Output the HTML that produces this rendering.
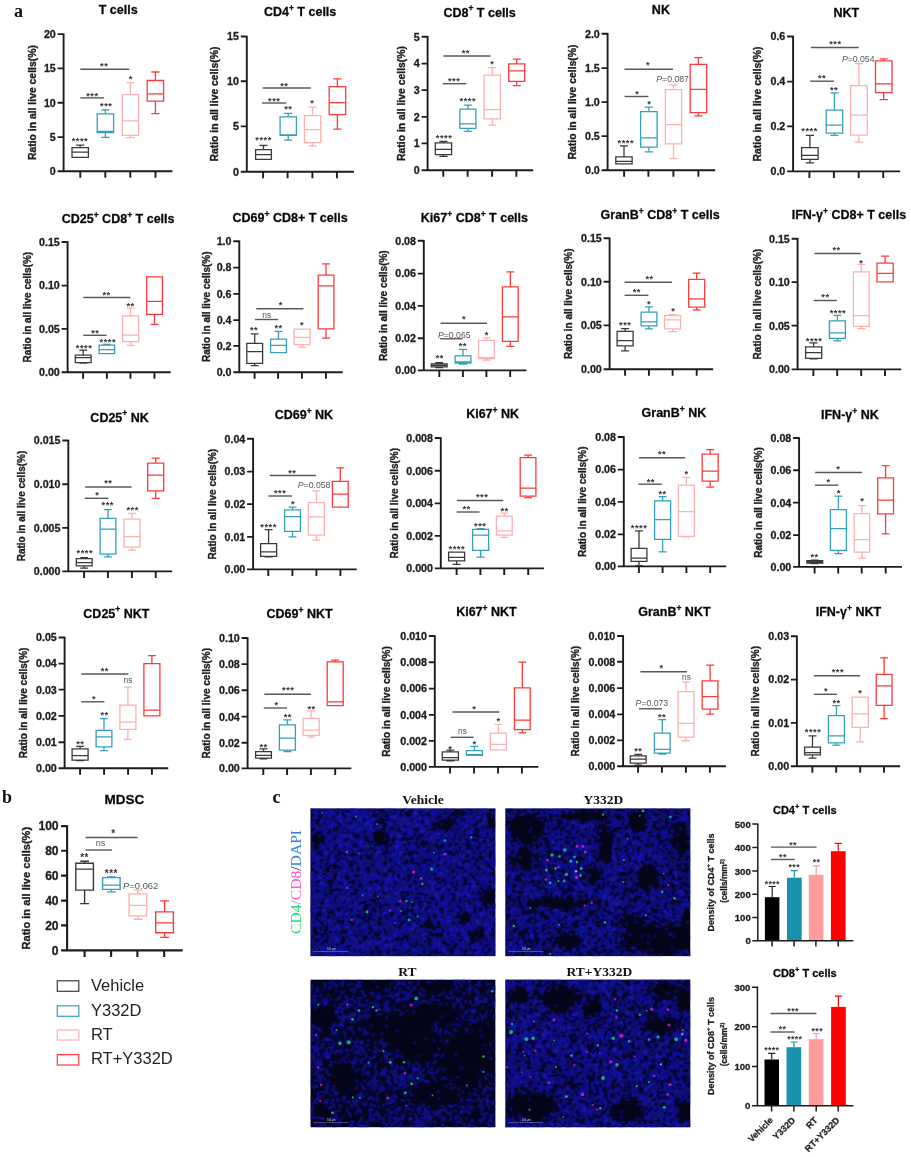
<!DOCTYPE html>
<html lang="en"><head><meta charset="utf-8"><title>Figure</title>
<style>html,body{margin:0;padding:0;background:#fff}svg{display:block}</style>
</head><body>
<svg width="911" height="1157" viewBox="0 0 911 1157" font-family="'Liberation Sans', Arial, sans-serif" font-weight="bold">
<rect width="911" height="1157" fill="#fff"/>
<defs><filter id="gb" x="0" y="0" width="100%" height="100%" color-interpolation-filters="sRGB"><feGaussianBlur stdDeviation="0.7"/></filter></defs>
<g filter="url(#gb)">
<rect width="911" height="1157" fill="#fff"/>
<g font-family="'Liberation Serif', serif" font-size="18" font-weight="bold" fill="#111">
<text x="14" y="16.8">a</text>
<text x="2" y="803">b</text>
<text x="272.5" y="802.6">c</text>
</g>
<g>
<text x="118.2" y="14.1" font-size="12.5" text-anchor="middle" stroke="#222" stroke-width="0.3" >T cells</text>
<path d="M63.6 33.3V171.2H172.4M63.6 34.1h-6M63.6 68.4h-6M63.6 102.8h-6M63.6 137.1h-6M63.6 171.2h-6M80.3 171.2v6.5M105.3 171.2v6.5M130.3 171.2v6.5M155.5 171.2v6.5" fill="none" stroke="#1c1c1c" stroke-width="1.9"/>
<g font-size="10.7" text-anchor="end" fill="#1c1c1c" stroke="#1c1c1c" stroke-width="0.3">
<text x="55.8" y="37.9">20</text>
<text x="55.8" y="72.3">15</text>
<text x="55.8" y="106.6">10</text>
<text x="55.8" y="140.9">5</text>
<text x="55.8" y="175">0</text>
</g>
<text transform="translate(35.7 102.6) rotate(-90)" font-size="10.4" text-anchor="middle" fill="#1c1c1c" stroke="#222" stroke-width="0.35">Ratio in all live cells(%)</text>
<path d="M72 147.7H88.4V157.3H72ZM72 152.2H88.4M80.2 147.7V145.2M76.1 145.2H84.3" fill="none" stroke="#3a3a3a" stroke-width="1.3"/>
<path d="M97.2 113.9H113.6V132.5H97.2ZM97.2 131.3H113.6M105.4 113.9V109.8M101.3 109.8H109.5M105.4 132.5V137.3M101.3 137.3H109.5" fill="none" stroke="#35a0b8" stroke-width="1.3"/>
<path d="M122.2 94.7H138.6V135.3H122.2ZM122.2 120.9H138.6M130.4 94.7V82.6M126.3 82.6H134.5M130.4 135.3V137.6M126.3 137.6H134.5" fill="none" stroke="#ffb0b0" stroke-width="1.3"/>
<path d="M147.2 80.5H163.6V101.2H147.2ZM147.2 93.9H163.6M155.4 80.5V72M151.3 72H159.5M155.4 101.2V113.6M151.3 113.6H159.5" fill="none" stroke="#ff3a3a" stroke-width="1.3"/>
<path d="M80.3 69.3H129.3" stroke="#585858" stroke-width="1.4"/>
<text x="104.2" y="68.5" font-size="9.3" fill="#333" text-anchor="middle" letter-spacing="0.5">**</text>
<path d="M80.3 97.9H104" stroke="#585858" stroke-width="1.4"/>
<text x="92.4" y="98.8" font-size="9.3" fill="#333" text-anchor="middle" letter-spacing="0.5">***</text>
<text x="80" y="144.3" font-size="9.3" fill="#333" text-anchor="middle" letter-spacing="0.5">****</text>
<text x="106.3" y="109.2" font-size="9.3" fill="#333" text-anchor="middle" letter-spacing="0.5">***</text>
<text x="130.7" y="81.7" font-size="9.3" fill="#333" text-anchor="middle" letter-spacing="0.5">*</text>
</g>
<g>
<text x="300.1" y="15.8" font-size="12.5" text-anchor="middle" stroke="#222" stroke-width="0.3" >CD4<tspan dy="-5.2" font-size="8.5">+</tspan><tspan dy="5.2" font-size="12.5">&#8203;</tspan> T cells</text>
<path d="M246.8 35.8V171.7H353.9M246.8 36.5h-6M246.8 81.3h-6M246.8 126.4h-6M246.8 171.7h-6M263.1 171.7v6.5M287.6 171.7v6.5M312.4 171.7v6.5M336.9 171.7v6.5" fill="none" stroke="#1c1c1c" stroke-width="1.9"/>
<g font-size="10.7" text-anchor="end" fill="#1c1c1c" stroke="#1c1c1c" stroke-width="0.3">
<text x="239" y="40.4">15</text>
<text x="239" y="85.2">10</text>
<text x="239" y="130.2">5</text>
<text x="239" y="175.5">0</text>
</g>
<text transform="translate(218.4 104.1) rotate(-90)" font-size="10.4" text-anchor="middle" fill="#1c1c1c" stroke="#222" stroke-width="0.35">Ratio in all live cells(%)</text>
<path d="M255.6 149.7H271.4V159.4H255.6ZM255.6 154.7H271.4M263.5 149.7V145.4M259.5 145.4H267.4" fill="none" stroke="#3a3a3a" stroke-width="1.3"/>
<path d="M280.1 116.9H296.4V135.4H280.1ZM280.1 134.9H296.4M288.2 116.9V113.4M284.2 113.4H292.3M288.2 135.4V140.2M284.2 140.2H292.3" fill="none" stroke="#35a0b8" stroke-width="1.3"/>
<path d="M304.4 115.6H320.7V142.7H304.4ZM304.4 129.6H320.7M312.5 115.6V107.1M308.5 107.1H316.6M312.5 142.7V145.9M308.5 145.9H316.6" fill="none" stroke="#ffb0b0" stroke-width="1.3"/>
<path d="M329.2 86.6H345.7V114.6H329.2ZM329.2 102.6H345.7M337.4 86.6V78.8M333.3 78.8H341.6M337.4 114.6V129.1M333.3 129.1H341.6" fill="none" stroke="#ff3a3a" stroke-width="1.3"/>
<path d="M262.6 88H310.9" stroke="#585858" stroke-width="1.4"/>
<text x="284.3" y="88.7" font-size="9.3" fill="#333" text-anchor="middle" letter-spacing="0.5">**</text>
<path d="M262.1 103H286.4" stroke="#585858" stroke-width="1.4"/>
<text x="274.3" y="103.8" font-size="9.3" fill="#333" text-anchor="middle" letter-spacing="0.5">***</text>
<text x="263.6" y="142.6" font-size="9.3" fill="#333" text-anchor="middle" letter-spacing="0.5">****</text>
<text x="288.3" y="112.3" font-size="9.3" fill="#333" text-anchor="middle" letter-spacing="0.5">**</text>
<text x="312.4" y="106" font-size="9.3" fill="#333" text-anchor="middle" letter-spacing="0.5">*</text>
</g>
<g>
<text x="479.6" y="16.5" font-size="12.5" text-anchor="middle" stroke="#222" stroke-width="0.3" >CD8<tspan dy="-5.2" font-size="8.5">+</tspan><tspan dy="5.2" font-size="12.5">&#8203;</tspan> T cells</text>
<path d="M427.6 36V170.2H533.2M427.6 36.8h-6M427.6 63.6h-6M427.6 90.1h-6M427.6 116.9h-6M427.6 143.4h-6M427.6 170.2h-6M443.3 170.2v6.5M467.6 170.2v6.5M492.1 170.2v6.5M516.4 170.2v6.5" fill="none" stroke="#1c1c1c" stroke-width="1.9"/>
<g font-size="10.7" text-anchor="end" fill="#1c1c1c" stroke="#1c1c1c" stroke-width="0.3">
<text x="419.8" y="40.6">5</text>
<text x="419.8" y="67.4">4</text>
<text x="419.8" y="94">3</text>
<text x="419.8" y="120.7">2</text>
<text x="419.8" y="147.3">1</text>
<text x="419.8" y="174">0</text>
</g>
<text transform="translate(405.4 103.5) rotate(-90)" font-size="10.4" text-anchor="middle" fill="#1c1c1c" stroke="#222" stroke-width="0.35">Ratio in all live cells(%)</text>
<path d="M435.3 142.9H451.6V154.7H435.3ZM435.3 149.4H451.6M443.5 142.9V141.4M439.4 141.4H447.5M443.5 154.7V156.4M439.4 156.4H447.5" fill="none" stroke="#3a3a3a" stroke-width="1.3"/>
<path d="M459.9 109.1H475.9V128.4H459.9ZM459.9 123.9H475.9M467.9 109.1V105.1M463.9 105.1H471.9M467.9 128.4V131.4M463.9 131.4H471.9" fill="none" stroke="#35a0b8" stroke-width="1.3"/>
<path d="M484.1 75.1H500.4V118.9H484.1ZM484.1 109.6H500.4M492.3 75.1V67.6M488.2 67.6H496.3M492.3 118.9V125.1M488.2 125.1H496.3" fill="none" stroke="#ffb0b0" stroke-width="1.3"/>
<path d="M508.7 63.8H524.7V81.3H508.7ZM508.7 70.8H524.7M516.7 63.8V59.1M512.7 59.1H520.7M516.7 81.3V85.6M512.7 85.6H520.7" fill="none" stroke="#ff3a3a" stroke-width="1.3"/>
<path d="M443.3 56H490.6" stroke="#585858" stroke-width="1.4"/>
<text x="465.8" y="55.5" font-size="9.3" fill="#333" text-anchor="middle" letter-spacing="0.5">**</text>
<path d="M442.6 83.7H466.4" stroke="#585858" stroke-width="1.4"/>
<text x="454.1" y="84.2" font-size="9.3" fill="#333" text-anchor="middle" letter-spacing="0.5">***</text>
<text x="444.1" y="140.5" font-size="9.3" fill="#333" text-anchor="middle" letter-spacing="0.5">****</text>
<text x="467.8" y="103.8" font-size="9.3" fill="#333" text-anchor="middle" letter-spacing="0.5">****</text>
<text x="492.4" y="67.2" font-size="9.3" fill="#333" text-anchor="middle" letter-spacing="0.5">*</text>
</g>
<g>
<text x="660.9" y="14" font-size="12.5" text-anchor="middle" stroke="#222" stroke-width="0.3" >NK</text>
<path d="M607.6 33V170.2H715.2M607.6 33.8h-6M607.6 68.1h-6M607.6 102.1h-6M607.6 136.1h-6M607.6 170.2h-6M624.1 170.2v6.5M648.4 170.2v6.5M673.4 170.2v6.5M698.4 170.2v6.5" fill="none" stroke="#1c1c1c" stroke-width="1.9"/>
<g font-size="10.7" text-anchor="end" fill="#1c1c1c" stroke="#1c1c1c" stroke-width="0.3">
<text x="599.8" y="37.6">2.0</text>
<text x="599.8" y="71.9">1.5</text>
<text x="599.8" y="106">1.0</text>
<text x="599.8" y="140">0.5</text>
<text x="599.8" y="174">0.0</text>
</g>
<text transform="translate(576.4 102) rotate(-90)" font-size="10.4" text-anchor="middle" fill="#1c1c1c" stroke="#222" stroke-width="0.35">Ratio in all live cells(%)</text>
<path d="M615.8 156.9H632.1V163.9H615.8ZM615.8 161.4H632.1M624 156.9V145.9M619.9 145.9H628" fill="none" stroke="#3a3a3a" stroke-width="1.3"/>
<path d="M640.6 111.6H657.1V147.2H640.6ZM640.6 137.9H657.1M648.9 111.6V107.1M644.7 107.1H653M648.9 147.2V151.9M644.7 151.9H653" fill="none" stroke="#35a0b8" stroke-width="1.3"/>
<path d="M665.4 89.6H681.6V143.9H665.4ZM665.4 124.6H681.6M673.5 89.6V85.1M669.4 85.1H677.6M673.5 143.9V158.7M669.4 158.7H677.6" fill="none" stroke="#ffb0b0" stroke-width="1.3"/>
<path d="M690.2 64.3H706.7V112.6H690.2ZM690.2 89.3H706.7M698.4 64.3V57.6M694.3 57.6H702.5M698.4 112.6V115.9M694.3 115.9H702.5" fill="none" stroke="#ff3a3a" stroke-width="1.3"/>
<path d="M624.6 69.2H673.1" stroke="#585858" stroke-width="1.4"/>
<text x="648.1" y="68.2" font-size="9.3" fill="#333" text-anchor="middle" letter-spacing="0.5">*</text>
<path d="M624.6 96.5H648.4" stroke="#585858" stroke-width="1.4"/>
<text x="637.3" y="96.8" font-size="9.3" fill="#333" text-anchor="middle" letter-spacing="0.5">*</text>
<text x="625.8" y="146.3" font-size="9.3" fill="#333" text-anchor="middle" letter-spacing="0.5">****</text>
<text x="649.3" y="106.8" font-size="9.3" fill="#333" text-anchor="middle" letter-spacing="0.5">*</text>
<text x="672.6" y="82.2" font-size="8.7" font-weight="normal" fill="#555" text-anchor="middle"><tspan font-style="italic">P</tspan>=0.087</text>
</g>
<g>
<text x="846.4" y="16.5" font-size="12.5" text-anchor="middle" stroke="#222" stroke-width="0.3" >NKT</text>
<path d="M793.1 35.8V171.4H900.2M793.1 36.5h-6M793.1 81.6h-6M793.1 126.4h-6M793.1 171.4h-6M809.4 171.4v6.5M833.9 171.4v6.5M858.7 171.4v6.5M883.2 171.4v6.5" fill="none" stroke="#1c1c1c" stroke-width="1.9"/>
<g font-size="10.7" text-anchor="end" fill="#1c1c1c" stroke="#1c1c1c" stroke-width="0.3">
<text x="785.3" y="40.4">0.6</text>
<text x="785.3" y="85.4">0.4</text>
<text x="785.3" y="130.2">0.2</text>
<text x="785.3" y="175.3">0.0</text>
</g>
<text transform="translate(761.4 104) rotate(-90)" font-size="10.4" text-anchor="middle" fill="#1c1c1c" stroke="#222" stroke-width="0.35">Ratio in all live cells(%)</text>
<path d="M801.6 147.7H818.1V159.4H801.6ZM801.6 155.4H818.1M809.9 147.7V135.4M805.8 135.4H814M809.9 159.4V162.9M805.8 162.9H814" fill="none" stroke="#3a3a3a" stroke-width="1.3"/>
<path d="M826.2 110.1H842.7V133.1H826.2ZM826.2 125.1H842.7M834.4 110.1V92.9M830.3 92.9H838.5M834.4 133.1V135.4M830.3 135.4H838.5" fill="none" stroke="#35a0b8" stroke-width="1.3"/>
<path d="M850.7 85.6H867.2V135.1H850.7ZM850.7 115.1H867.2M858.9 85.6V63.6M854.8 63.6H863.1M858.9 135.1V142.2M854.8 142.2H863.1" fill="none" stroke="#ffb0b0" stroke-width="1.3"/>
<path d="M875.5 60.8H892V92.6H875.5ZM875.5 83.8H892M883.7 60.8V58.8M879.6 58.8H887.8M883.7 92.6V99.6M879.6 99.6H887.8" fill="none" stroke="#ff3a3a" stroke-width="1.3"/>
<path d="M810.9 47.5H858.7" stroke="#585858" stroke-width="1.4"/>
<text x="835.4" y="47.4" font-size="9.3" fill="#333" text-anchor="middle" letter-spacing="0.5">***</text>
<path d="M810.1 81.2H833.9" stroke="#585858" stroke-width="1.4"/>
<text x="822.1" y="81.2" font-size="9.3" fill="#333" text-anchor="middle" letter-spacing="0.5">**</text>
<text x="809.6" y="134.3" font-size="9.3" fill="#333" text-anchor="middle" letter-spacing="0.5">****</text>
<text x="834.1" y="92.7" font-size="9.3" fill="#333" text-anchor="middle" letter-spacing="0.5">**</text>
<text x="858.2" y="61.7" font-size="8.7" font-weight="normal" fill="#555" text-anchor="middle"><tspan font-style="italic">P</tspan>=0.054</text>
</g>
<g>
<text x="118.1" y="222.8" font-size="12.5" text-anchor="middle" stroke="#222" stroke-width="0.3" >CD25<tspan dy="-5.2" font-size="8.5">+</tspan><tspan dy="5.2" font-size="12.5">&#8203;</tspan> CD8<tspan dy="-5.2" font-size="8.5">+</tspan><tspan dy="5.2" font-size="12.5">&#8203;</tspan> T cells</text>
<path d="M67.6 241.3V372.2H170.7M67.6 242h-6M67.6 285.6h-6M67.6 328.9h-6M67.6 372.2h-6M83.1 372.2v6.5M106.9 372.2v6.5M130.4 372.2v6.5M154.4 372.2v6.5" fill="none" stroke="#1c1c1c" stroke-width="1.9"/>
<g font-size="10.7" text-anchor="end" fill="#1c1c1c" stroke="#1c1c1c" stroke-width="0.3">
<text x="59.8" y="245.9">0.15</text>
<text x="59.8" y="289.4">0.10</text>
<text x="59.8" y="332.7">0.05</text>
<text x="59.8" y="376">0.00</text>
</g>
<text transform="translate(31.3 307.1) rotate(-90)" font-size="10" text-anchor="middle" fill="#1c1c1c" stroke="#222" stroke-width="0.35">Ratio in all live cells(%)</text>
<path d="M75.3 355.2H91.1V362.7H75.3ZM75.3 357.7H91.1M83.2 355.2V350.2M79.3 350.2H87.2M83.2 362.7V363.2M79.3 363.2H87.2" fill="none" stroke="#3a3a3a" stroke-width="1.3"/>
<path d="M99.1 345.2H114.6V353.7H99.1ZM99.1 349.7H114.6M106.9 345.2V344.4M103 344.4H110.7" fill="none" stroke="#35a0b8" stroke-width="1.3"/>
<path d="M122.6 315.9H138.7V341.7H122.6ZM122.6 335.1H138.7M130.6 315.9V308.1M126.6 308.1H134.6M130.6 341.7V345.4M126.6 345.4H134.6" fill="none" stroke="#ffb0b0" stroke-width="1.3"/>
<path d="M146.7 276.8H162.4V314.4H146.7ZM146.7 301.4H162.4M154.5 314.4V324.4M150.6 324.4H158.5" fill="none" stroke="#ff3a3a" stroke-width="1.3"/>
<path d="M83.3 297.5H130.4" stroke="#585858" stroke-width="1.4"/>
<text x="106.6" y="297.5" font-size="9.3" fill="#333" text-anchor="middle" letter-spacing="0.5">**</text>
<path d="M83.3 335.3H106.6" stroke="#585858" stroke-width="1.4"/>
<text x="95.3" y="335.5" font-size="9.3" fill="#333" text-anchor="middle" letter-spacing="0.5">**</text>
<text x="84.1" y="351.1" font-size="9.3" fill="#333" text-anchor="middle" letter-spacing="0.5">****</text>
<text x="107.8" y="345.3" font-size="9.3" fill="#333" text-anchor="middle" letter-spacing="0.5">****</text>
<text x="130.6" y="308.8" font-size="9.3" fill="#333" text-anchor="middle" letter-spacing="0.5">**</text>
</g>
<g>
<text x="290.1" y="222" font-size="12.5" text-anchor="middle" stroke="#222" stroke-width="0.3" >CD69<tspan dy="-5.2" font-size="8.5">+</tspan><tspan dy="5.2" font-size="12.5">&#8203;</tspan> CD8+ T cells</text>
<path d="M239.3 240.5V372.2H342.7M239.3 241.3h-6M239.3 267.6h-6M239.3 293.9h-6M239.3 320.1h-6M239.3 345.9h-6M239.3 372.2h-6M254.6 372.2v6.5M278.1 372.2v6.5M301.9 372.2v6.5M325.9 372.2v6.5" fill="none" stroke="#1c1c1c" stroke-width="1.9"/>
<g font-size="10.7" text-anchor="end" fill="#1c1c1c" stroke="#1c1c1c" stroke-width="0.3">
<text x="231.5" y="245.1">1.0</text>
<text x="231.5" y="271.4">0.8</text>
<text x="231.5" y="297.7">0.6</text>
<text x="231.5" y="324">0.4</text>
<text x="231.5" y="349.8">0.2</text>
<text x="231.5" y="376">0.0</text>
</g>
<text transform="translate(210.3 306.7) rotate(-90)" font-size="10" text-anchor="middle" fill="#1c1c1c" stroke="#222" stroke-width="0.35">Ratio in all live cells(%)</text>
<path d="M246.8 343.4H262.6V363.4H246.8ZM246.8 351.7H262.6M254.7 343.4V333.9M250.8 333.9H258.6M254.7 363.4V365.7M250.8 365.7H258.6" fill="none" stroke="#3a3a3a" stroke-width="1.3"/>
<path d="M270.6 339.2H286.4V352.7H270.6ZM270.6 345.4H286.4M278.5 339.2V331.4M274.5 331.4H282.4" fill="none" stroke="#35a0b8" stroke-width="1.3"/>
<path d="M294.1 329.1H310.1V344.7H294.1ZM294.1 337.4H310.1M302.1 344.7V347.2M298.1 347.2H306.1" fill="none" stroke="#ffb0b0" stroke-width="1.3"/>
<path d="M318.2 275.1H333.9V328.9H318.2ZM318.2 285.8H333.9M326 275.1V263.8M322.1 263.8H330M326 328.9V338.2M322.1 338.2H330" fill="none" stroke="#ff3a3a" stroke-width="1.3"/>
<path d="M256.3 308.8H303.4" stroke="#585858" stroke-width="1.4"/>
<text x="280.8" y="308.3" font-size="9.3" fill="#333" text-anchor="middle" letter-spacing="0.5">*</text>
<path d="M255.1 319.5H278.1" stroke="#585858" stroke-width="1.4"/>
<text x="266.8" y="317.5" font-size="8.4" font-weight="normal" fill="#555" text-anchor="middle">ns</text>
<text x="254.1" y="332.8" font-size="9.3" fill="#333" text-anchor="middle" letter-spacing="0.5">**</text>
<text x="278.6" y="331" font-size="9.3" fill="#333" text-anchor="middle" letter-spacing="0.5">**</text>
<text x="302.1" y="328.3" font-size="9.3" fill="#333" text-anchor="middle" letter-spacing="0.5">*</text>
</g>
<g>
<text x="474.4" y="222" font-size="12.5" text-anchor="middle" stroke="#222" stroke-width="0.3" >Ki67<tspan dy="-5.2" font-size="8.5">+</tspan><tspan dy="5.2" font-size="12.5">&#8203;</tspan> CD8<tspan dy="-5.2" font-size="8.5">+</tspan><tspan dy="5.2" font-size="12.5">&#8203;</tspan> T cells</text>
<path d="M423.8 240V370.4H526.4M423.8 240.8h-6M423.8 273.6h-6M423.8 305.9h-6M423.8 338.2h-6M423.8 370.4h-6M439.3 370.4v6.5M462.9 370.4v6.5M486.4 370.4v6.5M510.2 370.4v6.5" fill="none" stroke="#1c1c1c" stroke-width="1.9"/>
<g font-size="10.7" text-anchor="end" fill="#1c1c1c" stroke="#1c1c1c" stroke-width="0.3">
<text x="416" y="244.6">0.08</text>
<text x="416" y="277.4">0.06</text>
<text x="416" y="309.7">0.04</text>
<text x="416" y="342">0.02</text>
<text x="416" y="374.3">0.00</text>
</g>
<text transform="translate(387.1 305.6) rotate(-90)" font-size="10" text-anchor="middle" fill="#1c1c1c" stroke="#222" stroke-width="0.35">Ratio in all live cells(%)</text>
<path d="M431.3 363.9H447.1V366.9H431.3ZM431.3 365.4H447.1M439.2 363.9V362.7M435.3 362.7H443.1M439.2 366.9V367.7M435.3 367.7H443.1" fill="none" stroke="#3a3a3a" stroke-width="1.3"/>
<path d="M455.1 355.9H470.9V363.2H455.1ZM455.1 361.9H470.9M463 355.9V349.4M459 349.4H466.9M463 363.2V364.2M459 364.2H466.9" fill="none" stroke="#35a0b8" stroke-width="1.3"/>
<path d="M478.6 340.4H494.4V358.7H478.6ZM478.6 357.7H494.4M486.5 340.4V337.9M482.6 337.9H490.5M486.5 358.7V360.2M482.6 360.2H490.5" fill="none" stroke="#ffb0b0" stroke-width="1.3"/>
<path d="M502.4 286.8H518.2V341.4H502.4ZM502.4 316.9H518.2M510.3 286.8V271.8M506.3 271.8H514.2M510.3 341.4V346.4M506.3 346.4H514.2" fill="none" stroke="#ff3a3a" stroke-width="1.3"/>
<path d="M440.6 323.3H486.9" stroke="#585858" stroke-width="1.4"/>
<text x="464.1" y="322.3" font-size="9.3" fill="#333" text-anchor="middle" letter-spacing="0.5">*</text>
<path d="M440.1 338.8H462.6" stroke="#585858" stroke-width="1.4"/>
<text x="454.3" y="337.5" font-size="8.7" font-weight="normal" fill="#555" text-anchor="middle"><tspan font-style="italic">P</tspan>=0.065</text>
<text x="439.8" y="361.1" font-size="9.3" fill="#333" text-anchor="middle" letter-spacing="0.5">**</text>
<text x="462.8" y="349.3" font-size="9.3" fill="#333" text-anchor="middle" letter-spacing="0.5">**</text>
<text x="486.9" y="338.3" font-size="9.3" fill="#333" text-anchor="middle" letter-spacing="0.5">*</text>
</g>
<g>
<text x="660.1" y="218.8" font-size="12.5" text-anchor="middle" stroke="#222" stroke-width="0.3" >GranB<tspan dy="-5.2" font-size="8.5">+</tspan><tspan dy="5.2" font-size="12.5">&#8203;</tspan> CD8<tspan dy="-5.2" font-size="8.5">+</tspan><tspan dy="5.2" font-size="12.5">&#8203;</tspan> T cells</text>
<path d="M609.6 237.5V369.2H713.2M609.6 238.3h-6M609.6 281.8h-6M609.6 325.4h-6M609.6 369.2h-6M625.1 369.2v6.5M648.9 369.2v6.5M672.6 369.2v6.5M696.7 369.2v6.5" fill="none" stroke="#1c1c1c" stroke-width="1.9"/>
<g font-size="10.7" text-anchor="end" fill="#1c1c1c" stroke="#1c1c1c" stroke-width="0.3">
<text x="601.8" y="242.1">0.15</text>
<text x="601.8" y="285.7">0.10</text>
<text x="601.8" y="329.2">0.05</text>
<text x="601.8" y="373">0.00</text>
</g>
<text transform="translate(571.6 303.7) rotate(-90)" font-size="10" text-anchor="middle" fill="#1c1c1c" stroke="#222" stroke-width="0.35">Ratio in all live cells(%)</text>
<path d="M617.1 331.4H633.1V345.9H617.1ZM617.1 340.7H633.1M625.1 331.4V328.6M621.1 328.6H629.1M625.1 345.9V350.9M621.1 350.9H629.1" fill="none" stroke="#3a3a3a" stroke-width="1.3"/>
<path d="M641.1 312.1H656.9V325.9H641.1ZM641.1 321.9H656.9M649 312.1V306.9M645 306.9H652.9M649 325.9V328.9M645 328.9H652.9" fill="none" stroke="#35a0b8" stroke-width="1.3"/>
<path d="M664.6 315.6H680.6V328.9H664.6ZM664.6 319.9H680.6M672.6 315.6V314.6M668.6 314.6H676.6M672.6 328.9V331.6M668.6 331.6H676.6" fill="none" stroke="#ffb0b0" stroke-width="1.3"/>
<path d="M688.7 279.3H704.7V307.1H688.7ZM688.7 298.9H704.7M696.7 279.3V273.1M692.7 273.1H700.7M696.7 307.1V309.9M692.7 309.9H700.7" fill="none" stroke="#ff3a3a" stroke-width="1.3"/>
<path d="M624.6 282.2H671.9" stroke="#585858" stroke-width="1.4"/>
<text x="649.6" y="282" font-size="9.3" fill="#333" text-anchor="middle" letter-spacing="0.5">**</text>
<path d="M624.6 295.3H648.4" stroke="#585858" stroke-width="1.4"/>
<text x="636.8" y="295" font-size="9.3" fill="#333" text-anchor="middle" letter-spacing="0.5">**</text>
<text x="625.3" y="327.8" font-size="9.3" fill="#333" text-anchor="middle" letter-spacing="0.5">***</text>
<text x="649.1" y="306.5" font-size="9.3" fill="#333" text-anchor="middle" letter-spacing="0.5">*</text>
<text x="673.4" y="314" font-size="9.3" fill="#333" text-anchor="middle" letter-spacing="0.5">*</text>
</g>
<g>
<text x="848.9" y="218.8" font-size="12.5" text-anchor="middle" stroke="#222" stroke-width="0.3" >IFN-γ<tspan dy="-5.2" font-size="8.5">+</tspan><tspan dy="5.2" font-size="12.5">&#8203;</tspan> CD8+ T cells</text>
<path d="M797.6 238V369.4H901.2M797.6 238.8h-6M797.6 282.1h-6M797.6 325.6h-6M797.6 369.4h-6M813.4 369.4v6.5M837.2 369.4v6.5M861.2 369.4v6.5M885 369.4v6.5" fill="none" stroke="#1c1c1c" stroke-width="1.9"/>
<g font-size="10.7" text-anchor="end" fill="#1c1c1c" stroke="#1c1c1c" stroke-width="0.3">
<text x="789.8" y="242.6">0.15</text>
<text x="789.8" y="285.9">0.10</text>
<text x="789.8" y="329.5">0.05</text>
<text x="789.8" y="373.3">0.00</text>
</g>
<text transform="translate(760.6 304.1) rotate(-90)" font-size="10" text-anchor="middle" fill="#1c1c1c" stroke="#222" stroke-width="0.35">Ratio in all live cells(%)</text>
<path d="M805.6 346.9H821.7V358.4H805.6ZM805.6 352.7H821.7M813.6 346.9V342.9M809.6 342.9H817.6M813.6 358.4V358.9M809.6 358.9H817.6" fill="none" stroke="#3a3a3a" stroke-width="1.3"/>
<path d="M829.4 320.9H845.4V338.4H829.4ZM829.4 332.9H845.4M837.4 320.9V315.4M833.4 315.4H841.4M837.4 338.4V340.9M833.4 340.9H841.4" fill="none" stroke="#35a0b8" stroke-width="1.3"/>
<path d="M853.4 271.8H869.2V326.4H853.4ZM853.4 315.6H869.2M861.3 271.8V264.3M857.4 264.3H865.3M861.3 326.4V328.6M857.4 328.6H865.3" fill="none" stroke="#ffb0b0" stroke-width="1.3"/>
<path d="M877 263.1H893.2V281.8H877ZM877 273.3H893.2M885.1 263.1V256.1M881 256.1H889.2" fill="none" stroke="#ff3a3a" stroke-width="1.3"/>
<path d="M814.4 253.5H860.7" stroke="#585858" stroke-width="1.4"/>
<text x="836.6" y="253.2" font-size="9.3" fill="#333" text-anchor="middle" letter-spacing="0.5">**</text>
<path d="M813.6 300.5H836.9" stroke="#585858" stroke-width="1.4"/>
<text x="825.4" y="300" font-size="9.3" fill="#333" text-anchor="middle" letter-spacing="0.5">**</text>
<text x="814.1" y="343.8" font-size="9.3" fill="#333" text-anchor="middle" letter-spacing="0.5">****</text>
<text x="837.9" y="316.3" font-size="9.3" fill="#333" text-anchor="middle" letter-spacing="0.5">****</text>
<text x="861.4" y="265.5" font-size="9.3" fill="#333" text-anchor="middle" letter-spacing="0.5">*</text>
</g>
<g>
<text x="119.6" y="421.5" font-size="12.5" text-anchor="middle" stroke="#222" stroke-width="0.3" >CD25<tspan dy="-5.2" font-size="8.5">+</tspan><tspan dy="5.2" font-size="12.5">&#8203;</tspan> NK</text>
<path d="M68.3 439.8V571.4H172.2M68.3 440.5h-6M68.3 484.3h-6M68.3 527.9h-6M68.3 571.4h-6M84.1 571.4v6.5M107.9 571.4v6.5M131.9 571.4v6.5M155.7 571.4v6.5" fill="none" stroke="#1c1c1c" stroke-width="1.9"/>
<g font-size="10.7" text-anchor="end" fill="#1c1c1c" stroke="#1c1c1c" stroke-width="0.3">
<text x="60.5" y="444.4">0.015</text>
<text x="60.5" y="488.2">0.010</text>
<text x="60.5" y="531.7">0.005</text>
<text x="60.5" y="575.3">0.000</text>
</g>
<text transform="translate(25.1 506) rotate(-90)" font-size="10" text-anchor="middle" fill="#1c1c1c" stroke="#222" stroke-width="0.35">Ratio in all live cells(%)</text>
<path d="M76.3 558.7H92.1V565.9H76.3ZM76.3 562.7H92.1M84.2 558.7V557.7M80.3 557.7H88.2M84.2 565.9V568.2M80.3 568.2H88.2" fill="none" stroke="#3a3a3a" stroke-width="1.3"/>
<path d="M100.1 518.4H115.9V554.2H100.1ZM100.1 529.1H115.9M108 518.4V509.6M104.1 509.6H111.9M108 554.2V556.9M104.1 556.9H111.9" fill="none" stroke="#35a0b8" stroke-width="1.3"/>
<path d="M123.9 519.1H139.9V547.2H123.9ZM123.9 536.6H139.9M131.9 519.1V513.4M127.9 513.4H135.9M131.9 547.2V550.2M127.9 550.2H135.9" fill="none" stroke="#ffb0b0" stroke-width="1.3"/>
<path d="M147.7 463.1H163.7V490.8H147.7ZM147.7 475.1H163.7M155.7 463.1V458.1M151.7 458.1H159.7M155.7 490.8V498.4M151.7 498.4H159.7" fill="none" stroke="#ff3a3a" stroke-width="1.3"/>
<path d="M85.1 487H131.6" stroke="#585858" stroke-width="1.4"/>
<text x="108.3" y="486.2" font-size="9.3" fill="#333" text-anchor="middle" letter-spacing="0.5">**</text>
<path d="M84.6 498.3H108.4" stroke="#585858" stroke-width="1.4"/>
<text x="97.3" y="497.8" font-size="9.3" fill="#333" text-anchor="middle" letter-spacing="0.5">*</text>
<text x="84.8" y="556.3" font-size="9.3" fill="#333" text-anchor="middle" letter-spacing="0.5">****</text>
<text x="107.8" y="508.3" font-size="9.3" fill="#333" text-anchor="middle" letter-spacing="0.5">***</text>
<text x="132.6" y="513" font-size="9.3" fill="#333" text-anchor="middle" letter-spacing="0.5">***</text>
</g>
<g>
<text x="303.9" y="419" font-size="12.5" text-anchor="middle" stroke="#222" stroke-width="0.3" >CD69<tspan dy="-5.2" font-size="8.5">+</tspan><tspan dy="5.2" font-size="12.5">&#8203;</tspan> NK</text>
<path d="M253.1 438V569.4H356.7M253.1 438.8h-6M253.1 471.6h-6M253.1 504.1h-6M253.1 536.9h-6M253.1 569.4h-6M268.3 569.4v6.5M292.4 569.4v6.5M316.4 569.4v6.5M340.4 569.4v6.5" fill="none" stroke="#1c1c1c" stroke-width="1.9"/>
<g font-size="10.7" text-anchor="end" fill="#1c1c1c" stroke="#1c1c1c" stroke-width="0.3">
<text x="245.3" y="442.6">0.04</text>
<text x="245.3" y="475.4">0.03</text>
<text x="245.3" y="508">0.02</text>
<text x="245.3" y="540.8">0.01</text>
<text x="245.3" y="573.3">0.00</text>
</g>
<text transform="translate(215.8 504.1) rotate(-90)" font-size="10" text-anchor="middle" fill="#1c1c1c" stroke="#222" stroke-width="0.35">Ratio in all live cells(%)</text>
<path d="M260.6 543.7H276.6V556.4H260.6ZM260.6 551.9H276.6M268.6 543.7V529.6M264.6 529.6H272.6M268.6 556.4V556.9M264.6 556.9H272.6" fill="none" stroke="#3a3a3a" stroke-width="1.3"/>
<path d="M284.6 509.9H300.4V531.4H284.6ZM284.6 516.6H300.4M292.5 509.9V507.1M288.6 507.1H296.4M292.5 531.4V536.9M288.6 536.9H296.4" fill="none" stroke="#35a0b8" stroke-width="1.3"/>
<path d="M308.4 502.6H324.4V535.1H308.4ZM308.4 516.9H324.4M316.4 502.6V490.8M312.4 490.8H320.4M316.4 535.1V540.2M312.4 540.2H320.4" fill="none" stroke="#ffb0b0" stroke-width="1.3"/>
<path d="M332.4 481.3H348.2V507.1H332.4ZM332.4 494.1H348.2M340.3 481.3V467.8M336.4 467.8H344.2" fill="none" stroke="#ff3a3a" stroke-width="1.3"/>
<path d="M269.6 475.5H315.9" stroke="#585858" stroke-width="1.4"/>
<text x="292.3" y="475.7" font-size="9.3" fill="#333" text-anchor="middle" letter-spacing="0.5">**</text>
<path d="M268.6 496H291.9" stroke="#585858" stroke-width="1.4"/>
<text x="280.1" y="496.3" font-size="9.3" fill="#333" text-anchor="middle" letter-spacing="0.5">***</text>
<text x="268.6" y="529.8" font-size="9.3" fill="#333" text-anchor="middle" letter-spacing="0.5">****</text>
<text x="293.1" y="507" font-size="9.3" fill="#333" text-anchor="middle" letter-spacing="0.5">*</text>
<text x="314.1" y="488.2" font-size="8.7" font-weight="normal" fill="#555" text-anchor="middle"><tspan font-style="italic">P</tspan>=0.058</text>
</g>
<g>
<text x="492.6" y="418.3" font-size="12.5" text-anchor="middle" stroke="#222" stroke-width="0.3" >Ki67<tspan dy="-5.2" font-size="8.5">+</tspan><tspan dy="5.2" font-size="12.5">&#8203;</tspan> NK</text>
<path d="M440.8 437.3V568.4H543.9M440.8 438h-6M440.8 470.8h-6M440.8 503.4h-6M440.8 535.9h-6M440.8 568.4h-6M456.6 568.4v6.5M480.4 568.4v6.5M504.2 568.4v6.5M528.2 568.4v6.5" fill="none" stroke="#1c1c1c" stroke-width="1.9"/>
<g font-size="10.7" text-anchor="end" fill="#1c1c1c" stroke="#1c1c1c" stroke-width="0.3">
<text x="433" y="441.9">0.008</text>
<text x="433" y="474.7">0.006</text>
<text x="433" y="507.2">0.004</text>
<text x="433" y="539.8">0.002</text>
<text x="433" y="572.3">0.000</text>
</g>
<text transform="translate(397.6 503.2) rotate(-90)" font-size="10" text-anchor="middle" fill="#1c1c1c" stroke="#222" stroke-width="0.35">Ratio in all live cells(%)</text>
<path d="M448.6 552.2H464.6V560.9H448.6ZM448.6 557.4H464.6M456.6 560.9V564.4M452.6 564.4H460.6" fill="none" stroke="#3a3a3a" stroke-width="1.3"/>
<path d="M472.6 529.4H488.6V550.4H472.6ZM472.6 535.1H488.6M480.6 529.4V528.6M476.6 528.6H484.6M480.6 550.4V557.2M476.6 557.2H484.6" fill="none" stroke="#35a0b8" stroke-width="1.3"/>
<path d="M496.4 516.1H512.2V535.1H496.4ZM496.4 530.9H512.2M504.3 516.1V513.1M500.3 513.1H508.2M504.3 535.1V537.4M500.3 537.4H508.2" fill="none" stroke="#ffb0b0" stroke-width="1.3"/>
<path d="M520.2 457.6H535.9V496.1H520.2ZM520.2 488.1H535.9M528.1 457.6V455.1M524.1 455.1H532M528.1 496.1V497.6M524.1 497.6H532" fill="none" stroke="#ff3a3a" stroke-width="1.3"/>
<path d="M456.9 500.5H503.2" stroke="#585858" stroke-width="1.4"/>
<text x="482.1" y="500" font-size="9.3" fill="#333" text-anchor="middle" letter-spacing="0.5">***</text>
<path d="M456.6 512H479.6" stroke="#585858" stroke-width="1.4"/>
<text x="466.6" y="511.8" font-size="9.3" fill="#333" text-anchor="middle" letter-spacing="0.5">**</text>
<text x="456.8" y="552.3" font-size="9.3" fill="#333" text-anchor="middle" letter-spacing="0.5">****</text>
<text x="480.3" y="528.8" font-size="9.3" fill="#333" text-anchor="middle" letter-spacing="0.5">***</text>
<text x="504.6" y="514" font-size="9.3" fill="#333" text-anchor="middle" letter-spacing="0.5">**</text>
</g>
<g>
<text x="673.9" y="417" font-size="12.5" text-anchor="middle" stroke="#222" stroke-width="0.3" >GranB<tspan dy="-5.2" font-size="8.5">+</tspan><tspan dy="5.2" font-size="12.5">&#8203;</tspan> NK</text>
<path d="M623.8 436.3V566.4H726.2M623.8 437h-6M623.8 469.6h-6M623.8 501.9h-6M623.8 534.4h-6M623.8 566.4h-6M638.9 566.4v6.5M662.6 566.4v6.5M686.4 566.4v6.5M710.2 566.4v6.5" fill="none" stroke="#1c1c1c" stroke-width="1.9"/>
<g font-size="10.7" text-anchor="end" fill="#1c1c1c" stroke="#1c1c1c" stroke-width="0.3">
<text x="616" y="440.9">0.08</text>
<text x="616" y="473.4">0.06</text>
<text x="616" y="505.7">0.04</text>
<text x="616" y="538.2">0.02</text>
<text x="616" y="570.3">0.00</text>
</g>
<text transform="translate(585.8 501.7) rotate(-90)" font-size="10" text-anchor="middle" fill="#1c1c1c" stroke="#222" stroke-width="0.35">Ratio in all live cells(%)</text>
<path d="M631.1 548.4H646.9V561.4H631.1ZM631.1 558.2H646.9M639 548.4V530.9M635 530.9H642.9M639 561.4V565.7M635 565.7H642.9" fill="none" stroke="#3a3a3a" stroke-width="1.3"/>
<path d="M654.6 500.9H670.6V539.4H654.6ZM654.6 519.6H670.6M662.6 500.9V496.6M658.6 496.6H666.6M662.6 539.4V551.9M658.6 551.9H666.6" fill="none" stroke="#35a0b8" stroke-width="1.3"/>
<path d="M678.4 485.1H694.4V536.4H678.4ZM678.4 511.6H694.4M686.4 485.1V477.3M682.4 477.3H690.4M686.4 536.4V536.9M682.4 536.9H690.4" fill="none" stroke="#ffb0b0" stroke-width="1.3"/>
<path d="M702.2 454.1H718.2V481.1H702.2ZM702.2 471.1H718.2M710.2 454.1V449.6M706.2 449.6H714.2M710.2 481.1V487.1M706.2 487.1H714.2" fill="none" stroke="#ff3a3a" stroke-width="1.3"/>
<path d="M638.9 457.7H685.2" stroke="#585858" stroke-width="1.4"/>
<text x="662.1" y="456.7" font-size="9.3" fill="#333" text-anchor="middle" letter-spacing="0.5">**</text>
<path d="M638.4 484.2H661.9" stroke="#585858" stroke-width="1.4"/>
<text x="650.8" y="484.7" font-size="9.3" fill="#333" text-anchor="middle" letter-spacing="0.5">**</text>
<text x="639.1" y="530.5" font-size="9.3" fill="#333" text-anchor="middle" letter-spacing="0.5">****</text>
<text x="662.6" y="496.5" font-size="9.3" fill="#333" text-anchor="middle" letter-spacing="0.5">**</text>
<text x="686.6" y="476.5" font-size="9.3" fill="#333" text-anchor="middle" letter-spacing="0.5">*</text>
</g>
<g>
<text x="849.9" y="418.8" font-size="12.5" text-anchor="middle" stroke="#222" stroke-width="0.3" >IFN-γ<tspan dy="-5.2" font-size="8.5">+</tspan><tspan dy="5.2" font-size="12.5">&#8203;</tspan> NK</text>
<path d="M799.1 437.3V566.9H902M799.1 438h-6M799.1 470.3h-6M799.1 502.6h-6M799.1 535.1h-6M799.1 566.9h-6M814.6 566.9v6.5M838.2 566.9v6.5M861.7 566.9v6.5M885.7 566.9v6.5" fill="none" stroke="#1c1c1c" stroke-width="1.9"/>
<g font-size="10.7" text-anchor="end" fill="#1c1c1c" stroke="#1c1c1c" stroke-width="0.3">
<text x="791.3" y="441.9">0.08</text>
<text x="791.3" y="474.2">0.06</text>
<text x="791.3" y="506.5">0.04</text>
<text x="791.3" y="539">0.02</text>
<text x="791.3" y="570.8">0.00</text>
</g>
<text transform="translate(762.1 502.5) rotate(-90)" font-size="10" text-anchor="middle" fill="#1c1c1c" stroke="#222" stroke-width="0.35">Ratio in all live cells(%)</text>
<path d="M806.9 560.7H822.7V563.2H806.9ZM806.9 561.9H822.7M814.8 560.7V560.2M810.8 560.2H818.7M814.8 563.2V563.7M810.8 563.7H818.7" fill="none" stroke="#3a3a3a" stroke-width="1.3"/>
<path d="M830.4 509.6H846.4V550.4H830.4ZM830.4 528.6H846.4M838.4 509.6V496.1M834.4 496.1H842.4M838.4 550.4V553.7M834.4 553.7H842.4" fill="none" stroke="#35a0b8" stroke-width="1.3"/>
<path d="M854.2 513.6H869.7V552.2H854.2ZM854.2 539.7H869.7M861.9 513.6V505.6M858.1 505.6H865.8M861.9 552.2V558.2M858.1 558.2H865.8" fill="none" stroke="#ffb0b0" stroke-width="1.3"/>
<path d="M877.7 477.8H893.5V513.9H877.7ZM877.7 500.1H893.5M885.6 477.8V465.6M881.7 465.6H889.5M885.6 513.9V533.9M881.7 533.9H889.5" fill="none" stroke="#ff3a3a" stroke-width="1.3"/>
<path d="M815.1 472.5H861.9" stroke="#585858" stroke-width="1.4"/>
<text x="838.4" y="471.7" font-size="9.3" fill="#333" text-anchor="middle" letter-spacing="0.5">*</text>
<path d="M814.9 485.2H838.2" stroke="#585858" stroke-width="1.4"/>
<text x="828.6" y="485.2" font-size="9.3" fill="#333" text-anchor="middle" letter-spacing="0.5">*</text>
<text x="814.6" y="560.1" font-size="9.3" fill="#333" text-anchor="middle" letter-spacing="0.5">**</text>
<text x="838.9" y="495.7" font-size="9.3" fill="#333" text-anchor="middle" letter-spacing="0.5">*</text>
<text x="862.2" y="503.8" font-size="9.3" fill="#333" text-anchor="middle" letter-spacing="0.5">*</text>
</g>
<g>
<text x="116.4" y="617.5" font-size="12.5" text-anchor="middle" stroke="#222" stroke-width="0.3" >CD25<tspan dy="-5.2" font-size="8.5">+</tspan><tspan dy="5.2" font-size="12.5">&#8203;</tspan> NKT</text>
<path d="M64.6 636.8V768.2H168.2M64.6 637.5h-6M64.6 663.6h-6M64.6 689.6h-6M64.6 715.9h-6M64.6 742.2h-6M64.6 768.2h-6M80.1 768.2v6.5M104.1 768.2v6.5M128.1 768.2v6.5M151.9 768.2v6.5" fill="none" stroke="#1c1c1c" stroke-width="1.9"/>
<g font-size="10.7" text-anchor="end" fill="#1c1c1c" stroke="#1c1c1c" stroke-width="0.3">
<text x="56.8" y="641.4">0.05</text>
<text x="56.8" y="667.4">0.04</text>
<text x="56.8" y="693.5">0.03</text>
<text x="56.8" y="719.7">0.02</text>
<text x="56.8" y="746">0.01</text>
<text x="56.8" y="772">0.00</text>
</g>
<text transform="translate(27.1 702.9) rotate(-90)" font-size="10" text-anchor="middle" fill="#1c1c1c" stroke="#222" stroke-width="0.35">Ratio in all live cells(%)</text>
<path d="M72.1 748.9H88.1V760.2H72.1ZM72.1 755.7H88.1M80.1 748.9V746.4M76.1 746.4H84.1M80.1 760.2V760.7M76.1 760.7H84.1" fill="none" stroke="#3a3a3a" stroke-width="1.3"/>
<path d="M96.1 730.4H111.9V746.9H96.1ZM96.1 736.9H111.9M104 730.4V718.6M100 718.6H107.9M104 746.9V750.7M100 750.7H107.9" fill="none" stroke="#35a0b8" stroke-width="1.3"/>
<path d="M119.9 705.1H135.9V729.4H119.9ZM119.9 722.1H135.9M127.9 705.1V687.1M123.9 687.1H131.9M127.9 729.4V739.4M123.9 739.4H131.9" fill="none" stroke="#ffb0b0" stroke-width="1.3"/>
<path d="M143.9 663.6H159.9V715.9H143.9ZM143.9 710.1H159.9M151.9 663.6V655.6M147.9 655.6H155.9" fill="none" stroke="#ff3a3a" stroke-width="1.3"/>
<path d="M81.3 674H128.4" stroke="#585858" stroke-width="1.4"/>
<text x="104.8" y="673.7" font-size="9.3" fill="#333" text-anchor="middle" letter-spacing="0.5">**</text>
<path d="M81.3 701.8H104.4" stroke="#585858" stroke-width="1.4"/>
<text x="94.1" y="701.8" font-size="9.3" fill="#333" text-anchor="middle" letter-spacing="0.5">*</text>
<text x="80.3" y="746.8" font-size="9.3" fill="#333" text-anchor="middle" letter-spacing="0.5">**</text>
<text x="104.6" y="718" font-size="9.3" fill="#333" text-anchor="middle" letter-spacing="0.5">**</text>
<text x="127.9" y="682.8" font-size="8.4" font-weight="normal" fill="#555" text-anchor="middle">ns</text>
</g>
<g>
<text x="299.6" y="618.3" font-size="12.5" text-anchor="middle" stroke="#222" stroke-width="0.3" >CD69<tspan dy="-5.2" font-size="8.5">+</tspan><tspan dy="5.2" font-size="12.5">&#8203;</tspan> NKT</text>
<path d="M247.6 637.3V768.4H351.4M247.6 638h-6M247.6 664.1h-6M247.6 690.3h-6M247.6 716.6h-6M247.6 742.7h-6M247.6 768.4h-6M263.3 768.4v6.5M287.1 768.4v6.5M310.9 768.4v6.5M335.2 768.4v6.5" fill="none" stroke="#1c1c1c" stroke-width="1.9"/>
<g font-size="10.7" text-anchor="end" fill="#1c1c1c" stroke="#1c1c1c" stroke-width="0.3">
<text x="239.8" y="641.9">0.10</text>
<text x="239.8" y="667.9">0.08</text>
<text x="239.8" y="694.2">0.06</text>
<text x="239.8" y="720.5">0.04</text>
<text x="239.8" y="746.5">0.02</text>
<text x="239.8" y="772.3">0.00</text>
</g>
<text transform="translate(210.3 703.2) rotate(-90)" font-size="10" text-anchor="middle" fill="#1c1c1c" stroke="#222" stroke-width="0.35">Ratio in all live cells(%)</text>
<path d="M255.6 751.7H271.4V758.2H255.6ZM255.6 755.4H271.4M263.5 751.7V748.9M259.5 748.9H267.4M263.5 758.2V758.9M259.5 758.9H267.4" fill="none" stroke="#3a3a3a" stroke-width="1.3"/>
<path d="M279.4 724.9H295.4V750.2H279.4ZM279.4 738.2H295.4M287.4 724.9V719.9M283.4 719.9H291.4M287.4 750.2V751.7M283.4 751.7H291.4" fill="none" stroke="#35a0b8" stroke-width="1.3"/>
<path d="M303.1 718.4H319.2V735.4H303.1ZM303.1 730.1H319.2M311.1 718.4V710.9M307.1 710.9H315.1M311.1 735.4V737.2M307.1 737.2H315.1" fill="none" stroke="#ffb0b0" stroke-width="1.3"/>
<path d="M327.2 661.8H343.2V705.6H327.2ZM327.2 701.9H343.2M335.2 661.8V660.1M331.2 660.1H339.2" fill="none" stroke="#ff3a3a" stroke-width="1.3"/>
<path d="M264.3 694.3H310.9" stroke="#585858" stroke-width="1.4"/>
<text x="288.3" y="693.2" font-size="9.3" fill="#333" text-anchor="middle" letter-spacing="0.5">***</text>
<path d="M263.8 708H287.1" stroke="#585858" stroke-width="1.4"/>
<text x="276.6" y="708" font-size="9.3" fill="#333" text-anchor="middle" letter-spacing="0.5">*</text>
<text x="263.6" y="750.1" font-size="9.3" fill="#333" text-anchor="middle" letter-spacing="0.5">**</text>
<text x="287.8" y="720" font-size="9.3" fill="#333" text-anchor="middle" letter-spacing="0.5">**</text>
<text x="311.6" y="711.5" font-size="9.3" fill="#333" text-anchor="middle" letter-spacing="0.5">**</text>
</g>
<g>
<text x="486.4" y="616.3" font-size="12.5" text-anchor="middle" stroke="#222" stroke-width="0.3" >Ki67<tspan dy="-5.2" font-size="8.5">+</tspan><tspan dy="5.2" font-size="12.5">&#8203;</tspan> NKT</text>
<path d="M434.8 635.3V766.9H538.4M434.8 636h-6M434.8 662.3h-6M434.8 688.6h-6M434.8 714.9h-6M434.8 740.9h-6M434.8 766.9h-6M450.1 766.9v6.5M474.1 766.9v6.5M498.1 766.9v6.5M521.9 766.9v6.5" fill="none" stroke="#1c1c1c" stroke-width="1.9"/>
<g font-size="10.7" text-anchor="end" fill="#1c1c1c" stroke="#1c1c1c" stroke-width="0.3">
<text x="427" y="639.9">0.010</text>
<text x="427" y="666.2">0.008</text>
<text x="427" y="692.4">0.006</text>
<text x="427" y="718.7">0.004</text>
<text x="427" y="744.8">0.002</text>
<text x="427" y="770.8">0.000</text>
</g>
<text transform="translate(390.3 701.5) rotate(-90)" font-size="10" text-anchor="middle" fill="#1c1c1c" stroke="#222" stroke-width="0.35">Ratio in all live cells(%)</text>
<path d="M442.3 751.9H458.4V760.2H442.3ZM442.3 757.7H458.4M450.3 751.9V750.2M446.3 750.2H454.3M450.3 760.2V760.9M446.3 760.9H454.3" fill="none" stroke="#3a3a3a" stroke-width="1.3"/>
<path d="M466.4 750.7H482.4V755.4H466.4ZM466.4 754.7H482.4M474.4 750.7V746.4M470.4 746.4H478.4" fill="none" stroke="#35a0b8" stroke-width="1.3"/>
<path d="M490.4 733.1H506.4V749.9H490.4ZM490.4 744.4H506.4M498.4 733.1V724.4M494.4 724.4H502.4" fill="none" stroke="#ffb0b0" stroke-width="1.3"/>
<path d="M514.4 687.8H530.2V729.6H514.4ZM514.4 720.1H530.2M522.3 687.8V662.1M518.4 662.1H526.2M522.3 729.6V732.9M518.4 732.9H526.2" fill="none" stroke="#ff3a3a" stroke-width="1.3"/>
<path d="M452.6 712H499.1" stroke="#585858" stroke-width="1.4"/>
<text x="474.3" y="712" font-size="9.3" fill="#333" text-anchor="middle" letter-spacing="0.5">*</text>
<path d="M450.6 737.3H473.6" stroke="#585858" stroke-width="1.4"/>
<text x="462.4" y="734" font-size="8.4" font-weight="normal" fill="#555" text-anchor="middle">ns</text>
<text x="450.3" y="751.6" font-size="9.3" fill="#333" text-anchor="middle" letter-spacing="0.5">*</text>
<text x="474.6" y="747.3" font-size="9.3" fill="#333" text-anchor="middle" letter-spacing="0.5">*</text>
<text x="498.6" y="724.3" font-size="9.3" fill="#333" text-anchor="middle" letter-spacing="0.5">*</text>
</g>
<g>
<text x="674.4" y="616.3" font-size="12.5" text-anchor="middle" stroke="#222" stroke-width="0.3" >GranB<tspan dy="-5.2" font-size="8.5">+</tspan><tspan dy="5.2" font-size="12.5">&#8203;</tspan> NKT</text>
<path d="M623.1 635.3V766.2H725.9M623.1 636h-6M623.1 661.8h-6M623.1 688.1h-6M623.1 714.4h-6M623.1 740.4h-6M623.1 766.2h-6M638.1 766.2v6.5M661.9 766.2v6.5M685.9 766.2v6.5M709.9 766.2v6.5" fill="none" stroke="#1c1c1c" stroke-width="1.9"/>
<g font-size="10.7" text-anchor="end" fill="#1c1c1c" stroke="#1c1c1c" stroke-width="0.3">
<text x="615.3" y="639.9">0.010</text>
<text x="615.3" y="665.7">0.008</text>
<text x="615.3" y="691.9">0.006</text>
<text x="615.3" y="718.2">0.004</text>
<text x="615.3" y="744.3">0.002</text>
<text x="615.3" y="770">0.000</text>
</g>
<text transform="translate(578.8 701.1) rotate(-90)" font-size="10" text-anchor="middle" fill="#1c1c1c" stroke="#222" stroke-width="0.35">Ratio in all live cells(%)</text>
<path d="M630.3 755.9H646.1V763.2H630.3ZM630.3 759.2H646.1M638.2 755.9V754.4M634.3 754.4H642.2M638.2 763.2V765.2M634.3 765.2H642.2" fill="none" stroke="#3a3a3a" stroke-width="1.3"/>
<path d="M654.4 733.1H670.1V753.2H654.4ZM654.4 749.4H670.1M662.3 733.1V719.6M658.3 719.6H666.2M662.3 753.2V754.2M658.3 754.2H666.2" fill="none" stroke="#35a0b8" stroke-width="1.3"/>
<path d="M678.1 691.6H693.9V737.2H678.1ZM678.1 723.4H693.9M686 691.6V681.8M682.1 681.8H690M686 737.2V740.9M682.1 740.9H690" fill="none" stroke="#ffb0b0" stroke-width="1.3"/>
<path d="M702.2 680.8H717.9V709.1H702.2ZM702.2 696.6H717.9M710.1 680.8V665.1M706.1 665.1H714M710.1 709.1V714.1M706.1 714.1H714" fill="none" stroke="#ff3a3a" stroke-width="1.3"/>
<path d="M640.4 671.7H686.9" stroke="#585858" stroke-width="1.4"/>
<text x="661.6" y="670.7" font-size="9.3" fill="#333" text-anchor="middle" letter-spacing="0.5">*</text>
<path d="M638.9 708.8H661.9" stroke="#585858" stroke-width="1.4"/>
<text x="651.9" y="705.7" font-size="8.7" font-weight="normal" fill="#555" text-anchor="middle"><tspan font-style="italic">P</tspan>=0.073</text>
<text x="638.3" y="754.3" font-size="9.3" fill="#333" text-anchor="middle" letter-spacing="0.5">**</text>
<text x="662.1" y="719.5" font-size="9.3" fill="#333" text-anchor="middle" letter-spacing="0.5">**</text>
<text x="686.4" y="679.8" font-size="8.4" font-weight="normal" fill="#555" text-anchor="middle">ns</text>
</g>
<g>
<text x="848.4" y="616.3" font-size="12.5" text-anchor="middle" stroke="#222" stroke-width="0.3" >IFN-γ<tspan dy="-5.2" font-size="8.5">+</tspan><tspan dy="5.2" font-size="12.5">&#8203;</tspan> NKT</text>
<path d="M796.9 635.5V766.2H900.2M796.9 636.3h-6M796.9 679.6h-6M796.9 722.9h-6M796.9 766.2h-6M812.4 766.2v6.5M836.2 766.2v6.5M860.2 766.2v6.5M884 766.2v6.5" fill="none" stroke="#1c1c1c" stroke-width="1.9"/>
<g font-size="10.7" text-anchor="end" fill="#1c1c1c" stroke="#1c1c1c" stroke-width="0.3">
<text x="789.1" y="640.1">0.03</text>
<text x="789.1" y="683.4">0.02</text>
<text x="789.1" y="726.7">0.01</text>
<text x="789.1" y="770">0.00</text>
</g>
<text transform="translate(759.3 701.2) rotate(-90)" font-size="10" text-anchor="middle" fill="#1c1c1c" stroke="#222" stroke-width="0.35">Ratio in all live cells(%)</text>
<path d="M804.6 747.2H820.4V754.9H804.6ZM804.6 752.7H820.4M812.5 747.2V735.9M808.6 735.9H816.5M812.5 754.9V758.2M808.6 758.2H816.5" fill="none" stroke="#3a3a3a" stroke-width="1.3"/>
<path d="M828.4 715.6H844.4V742.9H828.4ZM828.4 735.9H844.4M836.4 715.6V705.6M832.4 705.6H840.4M836.4 742.9V745.2M832.4 745.2H840.4" fill="none" stroke="#35a0b8" stroke-width="1.3"/>
<path d="M852.2 697.1H868.2V727.4H852.2ZM852.2 713.9H868.2M860.2 727.4V741.9M856.2 741.9H864.2" fill="none" stroke="#ffb0b0" stroke-width="1.3"/>
<path d="M876.2 674.3H892V705.4H876.2ZM876.2 685.8H892M884.1 674.3V657.8M880.2 657.8H888M884.1 705.4V718.6M880.2 718.6H888" fill="none" stroke="#ff3a3a" stroke-width="1.3"/>
<path d="M813.9 675.7H860.2" stroke="#585858" stroke-width="1.4"/>
<text x="837.9" y="675" font-size="9.3" fill="#333" text-anchor="middle" letter-spacing="0.5">***</text>
<path d="M813.9 694.3H836.9" stroke="#585858" stroke-width="1.4"/>
<text x="826.1" y="694" font-size="9.3" fill="#333" text-anchor="middle" letter-spacing="0.5">*</text>
<text x="813.1" y="734.8" font-size="9.3" fill="#333" text-anchor="middle" letter-spacing="0.5">****</text>
<text x="836.6" y="705.8" font-size="9.3" fill="#333" text-anchor="middle" letter-spacing="0.5">**</text>
<text x="860.4" y="696" font-size="9.3" fill="#333" text-anchor="middle" letter-spacing="0.5">*</text>
</g>
<g>
<text x="124.4" y="804.1" font-size="13.5" text-anchor="middle" stroke="#222" stroke-width="0.3" >MDSC</text>
<path d="M67.1 825.3V950.4H182.7M67.1 826.1h-6M67.1 850.8h-6M67.1 875.6h-6M67.1 900.6h-6M67.1 925.4h-6M67.1 950.4h-6M84.6 950.4v6.5M111.1 950.4v6.5M137.4 950.4v6.5M164.2 950.4v6.5" fill="none" stroke="#1c1c1c" stroke-width="2.1"/>
<g font-size="12.1" text-anchor="end" fill="#1c1c1c" stroke="#1c1c1c" stroke-width="0.3">
<text x="58.6" y="830.4">100</text>
<text x="58.6" y="855.2">80</text>
<text x="58.6" y="880">60</text>
<text x="58.6" y="905">40</text>
<text x="58.6" y="929.8">20</text>
<text x="58.6" y="954.8">0</text>
</g>
<text transform="translate(29.5 888.2) rotate(-90)" font-size="11.1" text-anchor="middle" fill="#1c1c1c" stroke="#222" stroke-width="0.35">Ratio in all live cells(%)</text>
<path d="M75.8 863.3H93.4V890.1H75.8ZM75.8 869.1H93.4M84.6 863.3V861.3M80.2 861.3H89M84.6 890.1V903.6M80.2 903.6H89" fill="none" stroke="#3a3a3a" stroke-width="1.4"/>
<path d="M102.6 877.6H120.1V889.4H102.6ZM102.6 885.1H120.1M111.4 877.6V876.9M107 876.9H115.8M111.4 889.4V891.9M107 891.9H115.8" fill="none" stroke="#35a0b8" stroke-width="1.4"/>
<path d="M129.1 893.9H146.7V915.9H129.1ZM129.1 905.4H146.7M137.9 893.9V890.1M133.5 890.1H142.3M137.9 915.9V919.2M133.5 919.2H142.3" fill="none" stroke="#ffb0b0" stroke-width="1.4"/>
<path d="M155.7 911.9H173.4V932.7H155.7ZM155.7 922.9H173.4M164.6 911.9V900.9M160.1 900.9H169M164.6 932.7V937.4M160.1 937.4H169" fill="none" stroke="#ff3a3a" stroke-width="1.4"/>
<path d="M85.6 837.5H137.7" stroke="#585858" stroke-width="1.4"/>
<text x="113.4" y="837.1" font-size="10" fill="#333" text-anchor="middle" letter-spacing="0.5">*</text>
<path d="M85.6 850H111.9" stroke="#585858" stroke-width="1.4"/>
<text x="100.6" y="846.4" font-size="9.1" font-weight="normal" fill="#555" text-anchor="middle">ns</text>
<text x="84.6" y="860.9" font-size="10" fill="#333" text-anchor="middle" letter-spacing="0.5">**</text>
<text x="111.4" y="876.9" font-size="10" fill="#333" text-anchor="middle" letter-spacing="0.5">***</text>
<text x="140.7" y="889" font-size="9.4" font-weight="normal" fill="#555" text-anchor="middle"><tspan font-style="italic">P</tspan>=0.062</text>
</g>
<g font-size="16.5" font-weight="normal" fill="#222">
<rect x="57.3" y="980.8" width="21.5" height="10.5" fill="none" stroke="#3a3a3a" stroke-width="1.2"/>
<text x="91" y="990.5">Vehicle</text>
<rect x="57.3" y="1005.8" width="21.5" height="10.5" fill="none" stroke="#35a0b8" stroke-width="1.2"/>
<text x="91" y="1015.5">Y332D</text>
<rect x="57.3" y="1030" width="21.5" height="10" fill="none" stroke="#ffb0b0" stroke-width="1.2"/>
<text x="91" y="1040">RT</text>
<rect x="57.3" y="1054.6" width="21.5" height="10.4" fill="none" stroke="#ff3a3a" stroke-width="1.2"/>
<text x="91" y="1064.4">RT+Y332D</text>
</g>
<defs>
<filter id="bl4" x="-30%" y="-30%" width="160%" height="160%"><feGaussianBlur stdDeviation="3.2"/></filter>
<filter id="bl2" x="-5%" y="-5%" width="110%" height="110%"><feGaussianBlur stdDeviation="0.9"/></filter>
<filter id="bl1" x="-50%" y="-50%" width="200%" height="200%"><feGaussianBlur stdDeviation="0.75"/></filter>
<clipPath id="cp0"><rect x="310.3" y="808.3" width="185.3" height="148"/></clipPath>
<clipPath id="cp1"><rect x="505.2" y="808.3" width="185.3" height="148"/></clipPath>
<clipPath id="cp2"><rect x="310.3" y="979.4" width="185.3" height="148"/></clipPath>
<clipPath id="cp3"><rect x="505.2" y="979.4" width="185.3" height="148"/></clipPath>
</defs>
<g font-family="'Liberation Serif', serif" font-weight="bold" font-size="13.5" text-anchor="middle" fill="#111">
<text x="423" y="804">Vehicle</text>
<text x="603.4" y="804">Y332D</text>
<text x="407.4" y="976.3">RT</text>
<text x="599.3" y="976.3">RT+Y332D</text>
</g>
<text transform="translate(301 934) rotate(-90)" font-family="'Liberation Serif', serif" font-weight="normal" font-size="15.6"><tspan fill="#2fd87a">CD4</tspan><tspan fill="#e070d8">/</tspan><tspan fill="#ff5ad0">CD8</tspan><tspan fill="#333">/</tspan><tspan fill="#2f86d8">DAPI</tspan></text>
<g clip-path="url(#cp0)">
<rect x="310.3" y="808.3" width="185.3" height="148" fill="#05051a"/>
<g filter="url(#bl2)" fill="none" stroke-linecap="round">
<path d="M317.3 809h0M323.7 809.3h0M338.7 808.4h0M344 809.3h0M351.7 808.9h0M353.9 808.1h0M362 809.4h0M367.7 807.9h0M370.1 808h0M373.5 809.1h0M382.1 808.1h0M390.7 807.3h0M403.7 807.6h0M405.8 807.9h0M413.1 807.5h0M425.3 809.2h0M440.5 807.5h0M445.1 809.1h0M446.6 807.5h0M453.7 809h0M468.3 807.2h0M469.1 807.3h0M484.4 808.9h0M312.1 810.1h0M318.7 809.8h0M332.6 811.1h0M344.5 811.6h0M357 810.7h0M365.7 810.2h0M385.8 810.1h0M389.6 809.9h0M393.3 810.5h0M421 810.2h0M433.3 810h0M437.5 810.2h0M446.1 809.7h0M450.7 811.1h0M452.6 811h0M469.8 811h0M481.6 811.5h0M483.3 809.7h0M487.4 811.4h0M495.8 810h0M497 811.2h0M313.1 812.8h0M326 812.9h0M328.1 813.2h0M330.7 813.2h0M335.2 813.5h0M340.3 812.1h0M352.2 812.1h0M355.1 812h0M356.3 813h0M361.7 813h0M386.2 812.1h0M398.7 813.3h0M403 813.9h0M411.3 813.3h0M424.8 813.1h0M431 813.4h0M432.7 812.4h0M434.5 812.9h0M436.8 813.5h0M448.5 813.9h0M450.3 812.3h0M471.9 814h0M316.3 814.9h0M325.6 814.7h0M350 815.1h0M357.1 814.5h0M359 815.8h0M365.4 814.9h0M367.3 816.3h0M370.6 815.3h0M381.3 814.3h0M426.2 816.4h0M433.6 815.3h0M442.8 816.4h0M468.2 814.9h0M472 815.6h0M474.3 815.1h0M479.8 816.4h0M322.9 818.5h0M331.2 817.1h0M339.9 818.7h0M342.6 817.6h0M368.3 818.6h0M371.6 818.4h0M379.2 818.2h0M385.9 817.8h0M394.9 817.1h0M400.4 817.7h0M409.2 817.7h0M414.6 816.9h0M428 817.5h0M445.7 818.1h0M451.4 818h0M458 818.7h0M463.3 817.6h0M465.1 817.1h0M475.1 818.7h0M477.2 817.5h0M484.2 817.3h0M320.9 820.6h0M324.5 819.1h0M337.8 821h0M351.1 820.5h0M362.2 820.2h0M372.7 819.3h0M397.5 819.5h0M407.2 820.9h0M413.1 820.6h0M416.9 819.4h0M425.3 819.3h0M435.4 821.1h0M437.7 820.7h0M456.7 820.4h0M458.6 819.9h0M467.3 820.5h0M471.2 820.1h0M497.1 820.1h0M311 823.5h0M313.3 823h0M332.2 822.4h0M354.8 822.1h0M365.2 822.1h0M371 821.7h0M373.2 821.7h0M385.3 821.8h0M398.1 822.9h0M399 822.8h0M405.8 822.9h0M419 822.8h0M424.4 822.5h0M458.2 821.8h0M464.5 822.4h0M467.2 822.7h0M320.5 823.8h0M328.4 824.5h0M331 824.4h0M334.2 824.2h0M342.1 825.3h0M361.1 824.2h0M368.3 824.1h0M371.7 824.9h0M378 824.6h0M379.4 825.5h0M398.6 823.8h0M404.6 823.8h0M409.2 824.2h0M412.5 825.5h0M417 824.4h0M419.5 824.4h0M428.4 824.4h0M454.8 824.9h0M459.5 823.9h0M465.9 824.6h0M470.7 824.3h0M481.4 824.3h0M496.8 824.2h0M310.9 827.3h0M322.3 827.4h0M324.9 827.1h0M327.7 827.6h0M349.3 827.1h0M352.8 826.4h0M356.8 828.1h0M362.3 827.8h0M363.6 827.5h0M375.8 827.3h0M387.7 826.7h0M407.6 826.5h0M410.8 827.7h0M416.5 826.7h0M424 827.5h0M456.3 827.7h0M463.3 828.1h0M472.2 827.6h0M475.3 826.8h0M484.5 828h0M495.9 826.6h0M319.5 829.6h0M332 830.1h0M339.9 830.2h0M345.9 830.3h0M351.5 828.5h0M352.8 829.3h0M372.8 829.7h0M379.7 829.2h0M386.7 829.9h0M391.6 830.3h0M405.1 829.5h0M407.5 828.4h0M411.6 830.4h0M436.9 828.8h0M437.8 829h0M458.8 829.7h0M463.6 828.4h0M471.3 829.8h0M488.2 829.9h0M491.8 829h0M313.1 832.5h0M324.2 832.3h0M326.8 831.2h0M332.3 832.4h0M336.2 831.8h0M354.9 832.3h0M357.4 830.8h0M362.8 831.5h0M367.2 832.8h0M369.1 830.9h0M373.6 830.8h0M385.8 831.6h0M391 831.1h0M409 831.8h0M410.7 831.9h0M412.7 831.3h0M415.5 832.8h0M419.1 832.5h0M426.2 832.8h0M429.6 832.3h0M434.6 832.1h0M438.2 832.5h0M439.5 832.2h0M443.3 830.9h0M449.5 831.1h0M462.1 831.5h0M468.3 831.4h0M480.4 831.3h0M481.9 831.5h0M483.7 832.2h0M485.6 832h0M489 830.9h0M323.4 833.9h0M325.3 833.5h0M328.3 835.1h0M335.2 833.7h0M339.9 834.9h0M348.3 834.2h0M355.6 833.1h0M358.5 833.6h0M360.3 834.6h0M362.5 834.7h0M369.2 833.6h0M389.7 834.8h0M392.9 835h0M398.4 834.4h0M400 834.6h0M402.8 834.5h0M408.4 834.6h0M422.2 833.3h0M426.6 834.5h0M432 834.9h0M436.2 834.1h0M439.7 833.7h0M442.8 834.3h0M451.1 833.1h0M452.9 834h0M454 833.7h0M458.7 834.8h0M468.1 834h0M470.7 833.5h0M472.6 833.4h0M479.2 833.4h0M484.5 834.9h0M489.8 833.8h0M492.4 834.5h0M310.9 836.5h0M329.3 836.5h0M341.7 837.1h0M347.7 836.4h0M371.2 836.9h0M405.1 836.2h0M407.3 836.7h0M410.3 836.7h0M424.5 835.8h0M427.2 836.3h0M430.6 836.8h0M439.1 837.2h0M444.2 837h0M448.3 836.2h0M451.7 835.8h0M452.7 835.5h0M466.3 836.8h0M484.9 835.7h0M486.2 836.3h0M489.5 835.6h0M326.3 839h0M328.4 838.7h0M331.8 837.8h0M339.2 839.1h0M341.4 838.2h0M350.1 838.2h0M356.3 839.6h0M357.7 839.5h0M372.7 839.4h0M385.2 839.1h0M400.2 837.9h0M424.5 839.4h0M425.9 839.2h0M438.5 838.1h0M441.4 838.7h0M443.1 839.7h0M448.6 839.2h0M452.6 838h0M455.8 839.3h0M456.7 838.2h0M458.6 838.1h0M468.8 838.9h0M473 838.3h0M479 838.8h0M483.1 838.4h0M487.2 839h0M325.2 842.2h0M333 840.3h0M336.6 841h0M337.7 841.4h0M342.7 841.3h0M348.7 841.4h0M353.5 841.8h0M355.4 840.6h0M356.8 841.8h0M401.3 841.9h0M415 840.4h0M418.4 842h0M441.1 841.8h0M444.2 841.8h0M460 841.9h0M465.7 842.1h0M476.3 842.2h0M493.1 841.9h0M321.3 843.8h0M330.4 844.4h0M344.8 842.9h0M359.5 843.8h0M362.3 842.8h0M389.9 843h0M397 842.6h0M398.2 844.1h0M406.8 844.4h0M418.9 844.1h0M430.4 842.9h0M440.3 842.9h0M443 843.1h0M446.1 844h0M453.8 843h0M471.7 843.5h0M475.2 843.5h0M478.5 844.5h0M487.4 843.4h0M494.6 844.3h0M319.6 846.1h0M322.3 845.4h0M327.7 846.3h0M328.5 845.3h0M333.8 845.3h0M339 845.2h0M341.3 846h0M346.5 845.4h0M347.6 845.3h0M349.8 845.6h0M359.8 844.9h0M364.4 845.5h0M381.2 846.9h0M383.5 846.4h0M392.6 846.4h0M407.7 846.3h0M409 846.3h0M411.8 845.2h0M414.3 845.2h0M416.1 846.6h0M430.5 846.2h0M439.1 845.9h0M452.9 846.2h0M476.1 845.3h0M340.2 847.8h0M350 848.7h0M358.4 849.2h0M376.8 848.2h0M379.7 848.6h0M383.5 847.5h0M389.5 849.1h0M399.8 849h0M404.8 848.4h0M412.9 847.9h0M414.2 848h0M421.6 848.6h0M430.7 847.4h0M451.2 848h0M462.8 848h0M463.7 847.3h0M470.9 847.3h0M474 847.7h0M475.3 849.3h0M479.9 848.6h0M482.7 847.4h0M317.8 850h0M320.5 849.6h0M328.9 851.3h0M333.2 850.5h0M349.3 851h0M364.3 851.5h0M380.2 850.3h0M391.6 850.1h0M397.5 850.4h0M409.9 849.6h0M413.6 850h0M416.7 850.1h0M423.6 849.6h0M441.2 850.6h0M448.8 849.9h0M453.2 851.3h0M455.1 851.2h0M458.1 850.3h0M462.7 850.4h0M473.2 851h0M488.4 850.1h0M492.1 850h0M322.5 852.7h0M336.8 852.9h0M344.3 852h0M347.3 853.6h0M350 852.1h0M350.7 852.3h0M355.9 852.3h0M358.3 853.2h0M360.8 852.4h0M370.6 852h0M394.3 852.8h0M396.2 852.7h0M400.2 853h0M419.8 851.9h0M421.8 852.3h0M447 853.3h0M479.1 852.5h0M487.6 852.3h0M493.2 853.3h0M318.7 855.2h0M325.1 854.8h0M331.9 856.2h0M335.9 854.3h0M341.6 855.4h0M342.8 855.1h0M362.7 854.3h0M369.3 854.3h0M377.9 854.5h0M385.8 854.7h0M387.7 855.8h0M390.2 854.9h0M392.5 855.5h0M396.5 855.1h0M409.2 856.2h0M414.5 854.7h0M421.7 855.5h0M424.9 855.4h0M435.4 856.3h0M437.7 855.1h0M439.3 855h0M443.8 855.9h0M447.1 855.3h0M449.2 856.1h0M470.7 855.2h0M483.9 855.9h0M323.4 857.7h0M326.2 856.6h0M333.1 858.4h0M342.9 857.4h0M354 857.5h0M363.5 858.7h0M373.5 857.2h0M395.3 857h0M405.1 857.7h0M409.8 858.2h0M413.5 857.3h0M416.3 858.6h0M426.5 857.9h0M430.7 856.9h0M433.6 857.1h0M441.6 858h0M453.1 857.1h0M462.9 857.4h0M463.8 856.6h0M469.2 857.6h0M487.9 857.5h0M493.8 857.2h0M496.4 858.6h0M325.7 859.2h0M329.7 860.9h0M335.5 859.9h0M353.5 859.1h0M355.6 860.6h0M364 860.8h0M375.3 859.4h0M378.4 860.6h0M397.6 859.2h0M399.9 860.4h0M404 860.5h0M409 859.5h0M418.7 860.7h0M432.2 859.5h0M434 860.5h0M436.6 859.1h0M442.5 859.2h0M448.6 860.5h0M451.6 860.3h0M464.4 859.4h0M479.2 860.6h0M484.9 859.5h0M489.6 859.9h0M490.3 860.2h0M494.5 860.8h0M495.9 860.5h0M317.1 861.9h0M318.3 863.4h0M321 863.2h0M336.9 863.1h0M340 862h0M347.5 862.7h0M359.9 862.2h0M362.2 862h0M374.5 863.3h0M379.3 862.7h0M392.3 861.9h0M400.2 862h0M414.6 861.5h0M419 862.1h0M427.1 861.8h0M428.8 862.6h0M442.7 861.7h0M447.1 862.2h0M449.7 862.6h0M454.6 862.1h0M460.5 863.1h0M461 862.3h0M469.2 863.3h0M472 861.5h0M473.7 862h0M477.4 863.2h0M481.5 862.1h0M483 861.6h0M489.7 861.7h0M322.5 865.6h0M328.1 865.1h0M332.2 863.7h0M347.6 864.6h0M354.2 863.8h0M361.2 865.2h0M370.4 865.4h0M381.1 864.9h0M401.3 865.1h0M407.7 864.8h0M413.4 865.3h0M423.5 865.3h0M430.6 863.8h0M433.1 864h0M460 865.4h0M465.2 865.2h0M494.2 864.6h0M496.5 864.5h0M313.1 867.3h0M316 866.8h0M318.7 866.6h0M323.7 867.1h0M330.9 867.8h0M341.1 866.3h0M345.1 866.5h0M361.8 867.6h0M362.7 866.6h0M366.1 866.8h0M373.3 868h0M378.1 866.1h0M381.6 866.4h0M387.6 866.3h0M389 868h0M398.2 866.8h0M402.1 867.2h0M404.9 867.3h0M407.6 867.7h0M419.8 867h0M421.5 867.1h0M424.7 866.4h0M442.2 866.8h0M449.6 867.1h0M464.8 866.4h0M492.1 866.2h0M493.9 867h0M319.4 869.2h0M339.9 870h0M342.7 869.6h0M355.8 870.4h0M364.1 868.5h0M378.5 868.9h0M380.4 868.6h0M387.2 868.5h0M410.8 868.7h0M425 869.2h0M427.5 870h0M433.4 868.9h0M437.1 869h0M443.9 868.6h0M445.9 869.2h0M450.5 869.4h0M462.8 870.4h0M465.8 868.4h0M471.9 869.9h0M476.1 870.3h0M482.5 869.7h0M485.7 869.5h0M312.3 872h0M319.1 872.2h0M339.7 872h0M345.8 872.2h0M348.8 870.8h0M356 872.8h0M364.2 872.8h0M371.3 872.6h0M372.6 870.8h0M396.6 872.7h0M406.2 871.1h0M409.7 871.2h0M414.5 872.3h0M418.8 871.2h0M424.6 871.1h0M431.7 871.7h0M434.7 871.8h0M436.7 871.6h0M438.2 872.1h0M442.2 871.4h0M459.7 872.5h0M470.6 872.4h0M474 872.3h0M476.2 871.2h0M486.4 872.1h0M497.8 871.6h0M312.4 873.7h0M314.8 874.3h0M320.3 873.5h0M328.4 873.6h0M331.9 874.9h0M343.5 873.9h0M347.5 873.7h0M352 873.5h0M372.1 874.5h0M375.4 873.1h0M377.6 874.8h0M395.6 875.1h0M396.3 873.1h0M416.9 874.7h0M420.1 874.8h0M438.2 874.7h0M440.6 873.7h0M443.6 873.5h0M463.4 875.1h0M478.8 874.3h0M490.5 875.1h0M312.2 877.3h0M317.2 875.6h0M325.7 876.7h0M332.4 877h0M352.3 876.3h0M354.1 877.3h0M364.2 876.6h0M365.5 876.5h0M371.6 877.4h0M376.5 875.9h0M379.1 876.8h0M390.7 876.9h0M395 876.3h0M403 875.5h0M404.8 876.1h0M428.2 877.1h0M438.8 875.5h0M440.4 876.4h0M451 876.8h0M451.9 876.3h0M455.9 875.5h0M460.1 876.3h0M464.7 875.5h0M494.1 876.8h0M309.6 878.8h0M322.1 878.9h0M328.1 878.2h0M343.7 879h0M360.5 877.9h0M371.2 878.2h0M374.5 878.4h0M376.9 877.9h0M380.5 879.3h0M383.8 878h0M386 878.2h0M390.2 879.7h0M396.5 878h0M401.9 878.5h0M413.5 878.9h0M416.2 879.3h0M421.1 879.5h0M422.3 877.8h0M430.9 878.6h0M441.5 878.2h0M448.3 879.6h0M453.3 879.8h0M455.8 878.4h0M458.2 878.4h0M469.1 879.8h0M487.4 878.7h0M496.4 879.2h0M312.9 880.9h0M315.3 881.5h0M320.9 880.3h0M335.8 881.3h0M336.4 880.3h0M341.5 880.8h0M343.5 881.3h0M359.8 882.1h0M362.5 881.2h0M365.8 881.1h0M369.4 880.2h0M385.4 880.4h0M386.5 881.5h0M388.2 881.6h0M398.4 880.6h0M403 881.6h0M404.7 881.3h0M418.2 880.2h0M418.6 881h0M422.9 882.1h0M429.9 881.3h0M435.3 881h0M447.6 880.8h0M450.3 881.2h0M453.8 881h0M456.5 881.2h0M469.8 881.1h0M473.7 881h0M479.2 880.3h0M482.6 880.4h0M493.4 882.2h0M496.2 881.7h0M312 884.4h0M321.4 884h0M336.9 883.5h0M346.9 884.2h0M349.3 884.3h0M355.6 883.2h0M357.9 883.1h0M375.8 884.2h0M378.2 884.3h0M384 884.4h0M398.8 883.3h0M401.6 883.9h0M405.1 884.2h0M406.5 882.5h0M421.2 882.9h0M430.6 883h0M431.6 883.5h0M434 882.8h0M442.2 884.2h0M447.5 883.8h0M449.3 884.3h0M462.6 882.6h0M468.1 882.5h0M492.8 883.4h0M312.1 885.5h0M320.8 884.9h0M324.6 885.2h0M327.7 886h0M333.5 886.6h0M334.7 885.3h0M339.8 885.5h0M344 886.4h0M349.5 885.1h0M357 885.1h0M364.1 885.5h0M368.5 885.2h0M375.1 886h0M378.9 885.9h0M387.7 884.8h0M391.4 886.4h0M393.5 884.8h0M398.7 886h0M406.1 886.9h0M431.4 884.9h0M436.5 886.8h0M439.7 885.5h0M444.9 885.8h0M459.8 886.2h0M464.9 886.2h0M468.3 886.8h0M475.2 886.3h0M486.9 885.8h0M315.3 888h0M318 888.9h0M319.4 888.9h0M328.5 888.8h0M332.5 887.8h0M334.7 887.4h0M335.3 887.2h0M348.8 887.3h0M349.5 888.8h0M357.4 887.2h0M359.7 888.3h0M365.3 888h0M370.7 887.7h0M385 888.5h0M386.9 887.5h0M390.6 887.7h0M402.5 887.9h0M409.7 889.2h0M412 887.9h0M419.2 887.6h0M426 887.6h0M430.3 887.5h0M434.2 888.4h0M462.4 887.4h0M472.4 888.8h0M485.9 888h0M492.1 887.3h0M313.9 890.5h0M321.1 889.9h0M323.3 890h0M346 890h0M350.8 890.8h0M374.2 890.4h0M378.7 889.6h0M381.5 890h0M393 891h0M396.3 891.2h0M402.5 890.1h0M405.5 890.6h0M410.1 890.8h0M414.4 890.2h0M417.5 891.1h0M420.2 890.2h0M421.9 891h0M425 890.9h0M426.4 891.1h0M435.5 891.4h0M454 890.6h0M458 891.3h0M469.8 891.4h0M471.9 889.5h0M475.2 890.7h0M496.1 890.4h0M322.6 893.2h0M334.2 892h0M338.8 891.9h0M342.2 892.2h0M348 893.4h0M353.2 891.9h0M366.8 892h0M378.5 893.4h0M386.1 892.3h0M392.9 893.2h0M394.9 892.9h0M409.9 891.9h0M416 891.9h0M421.6 892.5h0M424.6 892.6h0M429.8 892.1h0M442 893.2h0M447.6 892.5h0M448.3 893.3h0M451.1 892.3h0M454.6 892.4h0M458.4 893h0M460.3 893.7h0M462.8 893h0M465.7 892.7h0M475.8 893.1h0M316.5 894.4h0M333.3 896h0M341.4 895.6h0M365.9 894.8h0M367.9 895.2h0M399.8 896.3h0M410 895.6h0M417.9 896h0M422.9 896h0M435.6 894.9h0M445 894.8h0M447.9 895.5h0M451 895.7h0M451.8 895.9h0M472.1 895.2h0M476.7 895.7h0M483 894.2h0M310.9 898.5h0M322.1 896.6h0M323.5 896.8h0M325.8 898.5h0M330.8 898h0M333.2 896.9h0M336.7 898.4h0M347.3 898h0M354.7 896.7h0M359.5 898h0M365.9 898h0M389.8 898.4h0M394.2 897.8h0M400 898.4h0M404.8 896.7h0M409.1 897.6h0M411 896.6h0M414.1 896.6h0M417.5 896.6h0M435.4 898h0M439.6 897.6h0M445.1 898.2h0M451.4 897.3h0M464.5 898.2h0M467.9 897h0M473.5 896.8h0M474.5 897.8h0M477.3 898.4h0M495.4 896.6h0M314.2 899.5h0M332.6 899.8h0M356.7 900.9h0M359.3 899.4h0M363.1 899.6h0M364.9 899.3h0M367.9 899.4h0M386.8 899.9h0M388.4 899.1h0M390.9 900.9h0M410.7 900.4h0M414 900.4h0M418.6 900.1h0M423.6 899.9h0M436.6 900.4h0M457.6 899.7h0M468.6 899.2h0M471.3 899.5h0M479 901h0M328.1 902.8h0M336.7 901.3h0M346.2 902.3h0M350.7 902.2h0M360.6 901.3h0M366.9 903.2h0M380.6 901.7h0M383.6 903.1h0M387.4 901.9h0M389.3 902.7h0M395 901.8h0M398 902.1h0M402 901.5h0M405.8 902.9h0M413.1 901.5h0M439.1 902.1h0M441.7 902.8h0M446.9 902.7h0M472.1 901.7h0M314.6 905.3h0M328.3 905.2h0M330.2 904.3h0M338.2 903.8h0M341.6 905.4h0M343.5 905.3h0M346.1 904.1h0M354.2 905.3h0M360.8 905.3h0M363.1 905.4h0M378.2 905.4h0M381.8 903.9h0M391.4 904.7h0M393.7 903.7h0M409.8 905h0M420.9 903.8h0M429 904.7h0M432 905h0M434 905h0M439.9 904.2h0M488.2 904.9h0M309.5 907.5h0M330.9 907.6h0M351.2 906.1h0M360.3 906.9h0M369.8 906.7h0M376.5 906.2h0M387.2 908h0M392.6 906.2h0M411.1 907.6h0M435.3 906.5h0M444.9 906.7h0M446 907.4h0M453.3 907.5h0M461.6 906h0M462.3 906.3h0M483.5 906.9h0M490.7 906.5h0M494.6 906.2h0M496.8 906h0M310.4 909.6h0M316.9 909h0M328.9 909.6h0M342.5 910h0M345.2 908.6h0M349.4 908.9h0M356.8 908.5h0M361.5 909.5h0M370.3 908.8h0M416.9 908.5h0M422.9 909.5h0M428.9 908.9h0M431.1 908.7h0M438 909.3h0M445 909.9h0M450.8 908.4h0M457.6 909.6h0M463.2 908.6h0M468.3 909h0M477.3 909h0M312.2 911.4h0M317.4 911.8h0M322.7 912.1h0M334.7 912.3h0M348.4 911.9h0M352.2 912.4h0M357.6 912.7h0M387.4 911.5h0M389.2 912.4h0M397.9 911.7h0M398.8 910.8h0M401.6 911.6h0M414.6 911.9h0M423.5 910.8h0M425.1 912.7h0M440.2 912.4h0M449.8 911.8h0M453.9 911.9h0M456 912.2h0M470 911.6h0M471.5 911.7h0M481.8 912.1h0M484.5 911.9h0M315.1 913.6h0M323 913h0M341.8 913.9h0M344.3 914.9h0M368 914.6h0M374.1 913.6h0M395.2 914.9h0M411.6 914h0M422.1 914.2h0M425.1 914.8h0M429.3 913.6h0M437.4 913h0M439.8 915.1h0M447.4 914.2h0M461 914.3h0M469.5 913.4h0M478.6 914.6h0M483.2 914.1h0M318.3 917.3h0M324.7 915.7h0M340.8 916.7h0M349.4 917.5h0M361.5 916.6h0M367.1 917.2h0M375.7 917.4h0M378.5 916.3h0M397.6 915.6h0M420 916.5h0M425.2 915.9h0M426.9 917.4h0M439.5 916.5h0M441.1 915.4h0M443.5 915.5h0M472.7 915.8h0M474.7 917.1h0M493.2 917.1h0M312 919.6h0M319.5 919.2h0M325.4 918.9h0M341.6 918.6h0M351 919.6h0M358.3 919h0M360.9 919.7h0M373.4 918.5h0M383.6 919.4h0M394.7 919.1h0M409.9 919.5h0M419.7 917.8h0M426.1 918.3h0M432.7 918.4h0M442.1 919.7h0M447.6 918.9h0M449.2 919.2h0M455.9 919.7h0M485.7 918.7h0M496.4 919.2h0M311.2 921.2h0M312 921.5h0M316.1 921.6h0M322.4 920.2h0M334.7 921.5h0M347.6 920.3h0M362.3 921h0M370.8 921h0M373.2 921.7h0M388.4 921.7h0M392.8 920.5h0M397 920.7h0M402.1 920.7h0M409.4 921.9h0M412.9 921.9h0M416.6 921.3h0M421.4 921.1h0M423.9 920.6h0M434.3 921.5h0M436.7 921.1h0M440.5 920.6h0M441.8 920.9h0M443.4 921.8h0M446.7 920.8h0M457.7 920.4h0M484.9 921.7h0M488.2 920.9h0M497 921.3h0M318.5 923.3h0M325.2 923.4h0M329.8 924h0M340 924.3h0M347 923.3h0M357 922.6h0M357.4 923.3h0M361 923.2h0M365 923.2h0M370.8 923.8h0M387.2 923.5h0M390.7 924.4h0M396.4 923.5h0M398.4 922.9h0M405.8 923.2h0M406.9 922.7h0M441.4 924.3h0M443.5 922.4h0M446.3 922.8h0M479.6 922.9h0M490.1 923.5h0M496.4 923.9h0M312.3 926.1h0M315.9 925.2h0M329.2 926.3h0M331 925.3h0M341.8 926.2h0M347.6 926.4h0M354.4 926.5h0M371.4 925h0M377.5 926.6h0M380.6 926.8h0M397.9 924.8h0M402.8 925.4h0M408.3 926.4h0M412.2 926.2h0M436.1 924.8h0M441.7 924.8h0M444.3 926.3h0M449.9 926h0M451.6 925.4h0M461.2 925.4h0M468.5 924.8h0M469.6 926.1h0M476.7 925.5h0M480.5 925h0M491.3 926.8h0M496.4 925.8h0M329.3 929.1h0M339.7 928.6h0M346.9 928.5h0M352.4 927.8h0M359.1 928.4h0M360.5 927.8h0M363.6 929.2h0M367.3 927.9h0M381.6 928.5h0M389.1 927.6h0M392.7 927.9h0M401.1 928.5h0M406 928.8h0M410.1 927.5h0M415.6 927.4h0M418.7 928h0M447.4 928.3h0M450.4 927.7h0M452.7 929h0M455 928.8h0M459.8 928.8h0M467.2 928.1h0M469.4 928.7h0M471.2 928.9h0M478.8 929.1h0M484.5 927.2h0M493 927.1h0M312.2 930.9h0M331.3 929.9h0M340.8 929.5h0M350.7 930.7h0M351.9 930.5h0M361.8 929.8h0M365.8 929.9h0M376.5 930.2h0M382.3 929.8h0M403.7 929.9h0M408.4 931.1h0M425.3 929.8h0M430.5 929.6h0M437.5 931.2h0M439.3 930.3h0M440.9 931.4h0M446.2 930.2h0M457.7 931.2h0M467.4 929.8h0M484.7 930.3h0M489.9 930.9h0M319.2 931.8h0M322.7 933h0M329.9 933.9h0M337.9 933.2h0M353.4 933.1h0M356.8 933.5h0M366.9 932h0M382.5 933.6h0M394.7 932.4h0M398.4 933.3h0M404 932.1h0M408.8 932.5h0M422.3 932.8h0M424 933h0M428.7 933.8h0M447 931.8h0M450.7 932.2h0M455.2 933.3h0M466.6 933.5h0M492.3 932.8h0M496.1 931.9h0M325.4 936.1h0M330 935.1h0M347 935.3h0M353 935.8h0M368.4 935h0M372.3 934.9h0M373.5 934.3h0M384.9 935.8h0M402.3 936h0M411.1 935.8h0M420 934.7h0M445.8 935.9h0M461 934.8h0M463.9 934.4h0M486.6 934.6h0M318.1 936.9h0M322.9 938.6h0M325.4 938.2h0M333.4 938.5h0M335 936.6h0M336.4 937.8h0M358.7 936.6h0M360.4 936.7h0M385.1 938.4h0M393.4 937.7h0M418.7 936.9h0M422.2 938.5h0M423.5 937.4h0M432.1 938.5h0M435.1 937.2h0M454.4 936.8h0M463.6 937.4h0M476.1 938.2h0M491.7 937.4h0M320.4 940.3h0M323.4 939.1h0M330.1 939.4h0M331.5 939.5h0M334.5 939.2h0M362.2 939.4h0M372.7 940h0M381.3 940.1h0M389.2 939.3h0M392.4 938.9h0M405.8 940.7h0M416 938.9h0M432.8 940h0M435.4 939.5h0M442.2 939.5h0M446.9 940.8h0M450.4 939.3h0M463 940.8h0M480.3 940.9h0M489.9 940.5h0M496.2 940.2h0M319.2 943.3h0M321.5 941.6h0M336.5 941.4h0M339.3 941.8h0M346.3 943.3h0M348.2 941.4h0M351.5 942.3h0M357.8 941.8h0M371.5 942.5h0M388.1 942.8h0M390.7 941.8h0M395.2 941.5h0M397.6 943h0M404 942.9h0M405.8 942.8h0M409.9 941.9h0M412.8 941.8h0M414.2 941.5h0M423.4 942.7h0M431.4 943.3h0M434.3 943h0M439.3 942.2h0M448.2 942.4h0M450.2 942.9h0M455.5 942h0M461.8 943h0M482.4 942.2h0M487.1 943h0M489.7 942.1h0M310 944.3h0M330.5 944.5h0M348.5 944.5h0M349.3 944h0M352 945.6h0M354.6 944.8h0M357.1 944.9h0M378.5 944.6h0M395 944.4h0M398.1 945.2h0M398.9 943.9h0M404.3 944.8h0M406.1 944.6h0M409.1 943.6h0M419.4 945.2h0M423.7 944.3h0M426.3 944.5h0M437.3 944.8h0M442 945.3h0M459 944.6h0M463.1 944.3h0M471.7 945.3h0M478.8 944.1h0M491.1 944.3h0M493 944.9h0M321.8 946.2h0M326 947.4h0M336.8 947.4h0M341.1 946.3h0M344.1 947.3h0M352.1 946.1h0M373.2 946.9h0M382.1 947.4h0M388.9 946.6h0M401.5 947h0M403.7 947.7h0M419.5 947.8h0M424.3 947.3h0M428.3 946.5h0M431.8 947.6h0M436.1 946.8h0M437.5 947.2h0M440.6 947.8h0M444.7 946.2h0M451.2 947.2h0M451.8 946h0M457.5 947.3h0M459.8 946.8h0M467.4 946.3h0M468 946.7h0M475.9 946.5h0M482.3 946.3h0M485 947.8h0M487.6 947.4h0M489.8 947h0M495.6 946.1h0M312.2 948.4h0M320.6 948.4h0M322.5 950.1h0M323.9 949.9h0M335.3 949.4h0M339.5 949.9h0M342.8 949.9h0M346.9 949.1h0M351.9 950h0M358.2 949.4h0M363 949.6h0M367.3 948.7h0M368.6 948.3h0M374.2 948.8h0M383.1 948.8h0M405.2 949.5h0M407.7 948.7h0M409 948.5h0M418.6 949h0M429.7 949.8h0M434 948.8h0M455.3 949.4h0M468.2 948.4h0M473.1 948.6h0M479.8 950h0M481.2 948.7h0M325.6 951.5h0M330.3 952.6h0M337 950.7h0M338.7 952.4h0M344.6 951.8h0M356.8 952.5h0M358.1 952.2h0M361.8 951.1h0M368.4 951.4h0M385.1 952.5h0M386 951.1h0M393.1 952.4h0M401.8 951.5h0M417.5 951h0M418.8 952.4h0M426.4 951.1h0M439 951.3h0M446.1 952h0M454.6 952.4h0M463.2 952.7h0M476.6 952.2h0M483.8 951.7h0M490.5 951.7h0M495 951.6h0M318 953.3h0M320.5 954.4h0M333 954.3h0M340.7 954h0M342.7 954.4h0M349.4 953.5h0M354.2 954.2h0M357.4 954.3h0M374 954.4h0M375.4 954.9h0M391.5 954h0M403.7 954.8h0M406.5 954.5h0M420.4 953h0M454.7 953.3h0M459.8 954h0M463.3 953.8h0M467.2 953.7h0M474.4 953.2h0M476.2 954.6h0M482.6 953.8h0M488.1 954.4h0M310.5 957.1h0M330.1 956.8h0M332.7 956.7h0M334.2 956.4h0M346.6 956.6h0M352.7 957h0M358.3 956.9h0M372.8 956.3h0M379.2 955.9h0M390.8 956.5h0M396.1 956.6h0M407.2 955.5h0M412.3 956h0M414 956.7h0M430.8 955.9h0M435.9 956.8h0M448.7 957h0M455.6 956.2h0M472.9 956.9h0M480.7 955.9h0M494.8 955.6h0" stroke="#1111b8" stroke-width="2.6"/>
<path d="M312.6 808.5h0M327.4 807.8h0M332.9 807.5h0M336.7 809.1h0M349.8 807.5h0M376.4 809.2h0M380.7 807.8h0M385.2 808.5h0M387.8 808.7h0M395.1 807.6h0M402.3 807.5h0M408.9 809.1h0M411.9 807.7h0M415.7 809h0M420.4 807.5h0M435.2 808.3h0M463.8 807.3h0M465.6 808.3h0M473.2 807.4h0M474.1 807.4h0M477.3 808h0M479.3 807.5h0M482.5 808.4h0M486.8 808.2h0M491.1 807.3h0M494 807.4h0M316.2 810.4h0M327.1 811.4h0M340 810.6h0M351.8 810.7h0M354.6 809.9h0M360.4 810.1h0M397.4 810.5h0M399.7 810.3h0M405.5 809.9h0M414.4 811h0M419.7 809.8h0M424.6 811.1h0M431.2 810.2h0M436.6 810.7h0M466.2 810.6h0M474 810.6h0M479.2 811.6h0M485.4 810.6h0M315.1 812.8h0M316.3 812.9h0M319 813.8h0M322.8 812.9h0M323.8 811.9h0M332.9 812h0M345.7 813.7h0M349.8 813.7h0M360 813.8h0M364.1 813.5h0M368.2 812.8h0M376 812.9h0M389.3 813.2h0M393.4 813.5h0M398.1 812.7h0M413.9 813.8h0M417.6 813h0M422.7 813.9h0M468.5 812.7h0M480.8 814h0M485.6 812.3h0M491.9 812.9h0M493.4 812.5h0M324 816.4h0M329 815.4h0M330.2 814.9h0M334 815.3h0M339.9 814.5h0M346.6 815h0M352.4 816.3h0M353.9 814.4h0M361.1 816h0M364.2 815.8h0M379.7 815.1h0M390.1 816.4h0M391.5 816.2h0M393.7 815.9h0M396.2 815.3h0M417.1 814.6h0M431.8 814.8h0M444.5 815.3h0M459.4 814.7h0M465.8 816.2h0M475.9 814.6h0M478.5 816.3h0M485 816.1h0M313.5 817.5h0M315.3 817.8h0M317 817.9h0M336.5 818.2h0M338.3 817h0M350 817.8h0M355.7 817.7h0M357.3 817.5h0M362 817h0M365.1 816.9h0M376.9 818.5h0M383 817.4h0M390.2 817.8h0M396.4 817.8h0M401.9 818.1h0M403.5 818.6h0M405.9 817.4h0M410.8 817.2h0M418 818.3h0M420.3 817.7h0M423.6 817.7h0M426.5 817.6h0M431.7 818.2h0M434.3 818h0M454.1 816.6h0M460.5 818.3h0M472.1 817.1h0M478.8 817.6h0M482.8 817.9h0M486.3 818.8h0M496.8 816.7h0M314.5 819.6h0M327.8 820.5h0M332.3 820h0M335.5 819.4h0M341.1 819.8h0M343.5 819.4h0M346.6 819.9h0M348.9 819.1h0M360.8 819.9h0M371.1 819.3h0M374.2 820.5h0M388.5 820.9h0M392 820.8h0M409.3 820.9h0M415.1 819.3h0M420.2 820.3h0M422 819h0M428.3 820h0M433.7 819.9h0M440.4 819h0M468.3 820.2h0M473.9 820.9h0M475.1 820.6h0M483.6 819.6h0M324.8 821.3h0M327 823.3h0M328.4 822.3h0M335.2 823.1h0M342.3 822.9h0M344.8 821.9h0M348.1 821.7h0M353.5 822.8h0M357.1 821.4h0M361 821.9h0M368.5 823.4h0M388.6 822.7h0M389.7 823.1h0M392.9 823h0M415.3 823.3h0M427.9 822.3h0M462.4 822.3h0M470.9 821.8h0M482.4 823.3h0M495.8 822.9h0M314.5 825.7h0M315.7 825.5h0M324 825.1h0M332.2 824.9h0M337.3 824.8h0M343.8 825.2h0M351.2 825.2h0M354.3 824.8h0M358.7 824.4h0M366.3 824h0M370.7 824.9h0M374 824.6h0M381.3 825.2h0M387.5 825.6h0M390.9 824.4h0M394.2 825.8h0M397 823.7h0M415.6 825.4h0M421.1 825.7h0M424.5 824.8h0M441.5 824.5h0M463.7 825.6h0M479.1 824.8h0M319.2 827.6h0M332.9 827h0M335.3 826.6h0M342.9 827.4h0M345.8 826.6h0M354.3 826.6h0M370.1 827.2h0M378.2 826.8h0M381.3 826.9h0M391.6 826.1h0M395 827.3h0M401.7 827.3h0M413.7 827h0M419.2 826.2h0M421.6 827.6h0M428.7 827h0M429.3 827.3h0M432 826.6h0M316.2 829.7h0M320.3 830.4h0M323.6 828.7h0M355.4 830.4h0M361.6 829.2h0M366.3 829.2h0M368.5 828.8h0M396.2 829.1h0M409.5 829.7h0M422.1 828.5h0M425.9 828.8h0M429.3 828.6h0M451.7 828.5h0M467.3 830.3h0M481 829.1h0M485.1 829.8h0M496.8 830h0M314.9 831.6h0M339.3 831.9h0M343.7 831.3h0M351.3 831.5h0M359.3 830.9h0M372 831h0M398 831.6h0M402.7 831.4h0M404.5 831.6h0M407.6 832.4h0M428.7 832.3h0M432 831.8h0M442 831.7h0M451 832h0M455.1 830.8h0M458.2 832.1h0M470 831.2h0M472.1 831.8h0M475.3 831.6h0M490.3 830.8h0M493.5 832.6h0M331.6 834h0M341.9 834.4h0M344.3 835.1h0M346.8 834.6h0M350.8 834.3h0M365.8 834.6h0M371.7 834.3h0M391 835.1h0M410.5 833.9h0M412.4 835h0M428 833.1h0M434.3 834.9h0M457.8 835.2h0M461.5 833.2h0M465.6 833.5h0M480.6 834.7h0M498.1 833.7h0M319.6 836.3h0M326 835.7h0M334.2 836h0M338 835.7h0M346 836.5h0M350.8 836.7h0M361.4 837.1h0M368 837.3h0M391.1 836.2h0M395.5 835.9h0M415.2 836.8h0M417.8 835.8h0M434.8 837.5h0M437.4 836.4h0M446.2 836h0M467.6 835.7h0M493.4 837.1h0M329.8 838.3h0M344.7 838.2h0M360.5 839.6h0M362.6 838.1h0M370.4 837.8h0M390.6 838.8h0M396.8 839.8h0M414.1 839.7h0M421.6 838.2h0M428.5 839.6h0M436.6 839.3h0M449.4 839.7h0M463.7 838.1h0M470.6 838.8h0M476 838h0M481.1 839.7h0M491.1 838.2h0M326.9 841.2h0M330.7 842.3h0M364 840.5h0M370.8 840.3h0M395.9 841.9h0M398.1 841.5h0M399.2 842.1h0M404.2 841.9h0M409.1 841.2h0M413.3 840.9h0M425.5 840.2h0M430 840.3h0M446.3 840.8h0M449.6 840.8h0M455.8 841.4h0M457.8 841.8h0M463.9 840.4h0M472.3 842h0M480 841.2h0M487 840.5h0M313 843.5h0M327.3 843.8h0M333.7 842.7h0M336.9 843.2h0M341.1 844h0M346.2 844.4h0M348.3 843.5h0M351.8 844.2h0M361.2 844.6h0M367.5 843.6h0M370.6 844.6h0M374.4 843.2h0M400.8 844.3h0M403 843h0M429.3 843.1h0M434 843.2h0M447.7 844.1h0M452.7 843.2h0M469.3 842.6h0M473.3 842.9h0M486.1 844.1h0M490.8 843.1h0M493.2 842.6h0M496.6 843.6h0M324.5 846.7h0M331.8 845.8h0M343.8 844.9h0M356.5 845.6h0M361.8 846.4h0M372.8 845.3h0M377.5 846.6h0M387.5 845.6h0M395.6 846.9h0M397 846.2h0M399.2 846h0M421.4 846.7h0M445.7 845.8h0M460.1 846.2h0M474 846.6h0M482.3 845.3h0M485.7 846.7h0M496.8 845.7h0M311.6 848.6h0M321.9 848.7h0M322.8 847.2h0M325.3 848h0M337.4 848.3h0M347.1 847.8h0M351.8 847.5h0M359.9 847.6h0M363.7 848.2h0M366.3 848.1h0M368.5 848.1h0M374.7 848.2h0M395.7 849.2h0M398.2 848.3h0M409.2 849.1h0M420.2 848.6h0M427.1 849.1h0M434.6 848.2h0M443.4 849h0M446.1 848.6h0M447.5 847.5h0M457.2 847.5h0M465.8 847.3h0M490.3 848.4h0M493.5 847.7h0M326 851.5h0M331.6 849.8h0M340.6 849.8h0M342.5 850.2h0M354.8 851.2h0M356.3 851.6h0M388.6 850.6h0M404 851.6h0M410.8 849.7h0M419.3 851.1h0M425.8 849.6h0M430.5 851.6h0M432 850.5h0M435.6 849.9h0M436.6 851h0M440.1 850.1h0M444.3 850.5h0M461.7 849.7h0M465.2 851.1h0M478.2 851.4h0M481.8 850.4h0M494.4 849.7h0M311.1 852.8h0M327.5 852.3h0M334.8 853.3h0M362.8 854h0M364.6 852.7h0M368.2 852.9h0M378.2 852.8h0M381.5 852.4h0M399.2 852.3h0M402.1 853.2h0M407 851.9h0M414.4 853.7h0M424 853.1h0M428.8 853.2h0M436.6 852.4h0M459.3 853.3h0M460.9 853.9h0M466.3 852h0M476.6 853h0M496.9 853.9h0M310.3 854.8h0M314.1 855.3h0M317.8 855.5h0M327.6 855.4h0M358.9 855.8h0M373.5 855.3h0M375.9 855.3h0M382.2 856.2h0M401.3 855.5h0M418.7 855.3h0M430.6 855.3h0M432.1 854.4h0M441.8 855.3h0M450.9 856.3h0M456.5 854.9h0M472.6 855.4h0M487.3 854.4h0M496.9 855.1h0M314.8 857.1h0M316.4 857.9h0M320.8 857.1h0M331 857.9h0M338.6 856.9h0M349.8 858.6h0M357.1 857.5h0M364.7 856.7h0M375.5 856.9h0M382.9 857.2h0M388.1 858.5h0M390.7 856.7h0M393.3 858.6h0M403.9 857.8h0M419.3 858.5h0M422.9 858.5h0M428.3 857.6h0M437 857.6h0M446.3 857.5h0M454 857.7h0M456.6 857.6h0M470.5 857.1h0M311.9 859.5h0M315.6 860h0M317.7 859.7h0M319.8 858.9h0M331.3 859.6h0M333.2 860.8h0M340.7 860.3h0M347.6 859.6h0M351.2 860.3h0M357.6 861h0M359.6 860.4h0M387.2 861h0M395.1 859.9h0M402.7 860.9h0M416.1 860.8h0M440.2 861h0M446.9 859.1h0M455.5 860.1h0M461.2 859.3h0M467.8 859h0M472.2 860.2h0M486.9 859.7h0M310.5 861.5h0M313.7 861.6h0M323.3 862.6h0M325.5 862.5h0M330.9 862.3h0M332.2 862.1h0M342.8 862.6h0M373.3 863h0M378 862.1h0M382.9 861.7h0M392.7 863.2h0M397 861.7h0M409.9 863.1h0M436.3 862.4h0M457.9 863.2h0M488.4 861.3h0M492.2 862.1h0M494.9 863.2h0M497.8 862.6h0M313.3 865h0M316.9 865.4h0M337.8 864.1h0M343.4 865.5h0M360.2 864.4h0M366.7 864.6h0M376 865.7h0M378.8 863.7h0M382.2 865.5h0M388.3 865h0M393.4 863.6h0M394.3 865.6h0M399.2 863.8h0M421.7 864.6h0M424.6 864.8h0M440.2 864.1h0M442.1 864.6h0M445.2 864.8h0M448.3 864.3h0M455.2 865.1h0M462.1 865h0M471.5 865h0M473.8 865.7h0M477.4 865.3h0M480.5 864.3h0M485.6 863.7h0M491.5 865.2h0M331.7 868h0M349.3 867.7h0M355.5 866.4h0M395.8 867.1h0M409.7 866h0M412.2 867.4h0M414.1 867.3h0M426.4 867.1h0M429.8 868h0M431.7 867.3h0M434.3 866.5h0M435.3 867.6h0M439.1 867.9h0M441.4 868.1h0M445.6 867.3h0M469.3 866.4h0M475.2 868.1h0M482.8 866.1h0M487 868h0M315.3 868.8h0M316.9 869.4h0M322.3 870.1h0M337 869.3h0M345.3 868.8h0M361.3 869.6h0M375.2 869.7h0M383.9 869h0M384.6 870.1h0M392.5 868.7h0M397.4 868.6h0M398.6 869.6h0M402.3 869.8h0M413.6 869.4h0M423.7 870.2h0M435.8 870.3h0M454.1 869.1h0M456.9 868.8h0M459 870.3h0M469.9 870.1h0M473.9 868.9h0M489.2 869h0M313.3 872.6h0M330.4 872.7h0M335.2 871.4h0M343 871.1h0M345 870.8h0M350.6 872.5h0M359.4 872.6h0M360.7 872h0M365.6 871.5h0M380.5 871.1h0M398.6 871.6h0M400.1 872.6h0M403.5 871.3h0M417.6 872.1h0M422.4 872.1h0M428.7 872.6h0M447.2 871h0M449.4 871.7h0M456.2 871h0M460.9 871.5h0M481.4 872h0M488.3 871.6h0M490.7 871.6h0M494.2 871.8h0M311 874.9h0M321.6 873.8h0M327.6 873.7h0M353.9 873.3h0M356.5 873.5h0M361.7 873.4h0M364.2 874.9h0M366.7 874.3h0M368.7 874.6h0M381.4 874.2h0M390.3 874.9h0M391.8 873.2h0M401.7 873.8h0M403.5 874.9h0M409.5 873.4h0M422.5 874.1h0M446.5 874.3h0M464.7 873.7h0M467.6 874h0M481.8 874.5h0M312.8 877.4h0M318.3 876.6h0M323.8 875.9h0M329.9 875.5h0M337.7 876.6h0M339 876.4h0M342.6 876.1h0M343.4 876.8h0M350.1 875.5h0M369.5 876h0M375.1 877.3h0M382.6 877.2h0M394.4 877.3h0M401 876.5h0M413.3 876.4h0M419.4 875.5h0M422.6 877.3h0M423.8 875.9h0M426.9 876.5h0M431.7 875.6h0M433.8 877.3h0M437 876.1h0M444.1 876.4h0M445.2 875.9h0M447.6 876.3h0M468.4 876.9h0M470.6 876.3h0M476.1 876.9h0M482.5 877.3h0M484.4 876.5h0M487 876.9h0M490.8 876.4h0M311.8 878.3h0M315.5 878.4h0M317.9 879h0M320.3 877.9h0M325 879.8h0M327.5 878.4h0M331.6 878.9h0M340 878.8h0M345 879.8h0M351.1 878.8h0M361.5 878.3h0M364.3 878.6h0M369.4 879.2h0M379.4 878.6h0M388.2 878.9h0M391.7 878.6h0M395.3 878.7h0M412 878.5h0M431.7 879.6h0M446 879.6h0M462.3 879.8h0M468.8 879h0M477.1 878.7h0M481.5 877.9h0M484.9 879.2h0M489.2 879h0M490.8 878.8h0M325.2 881.4h0M339.2 880.5h0M346.5 880.8h0M349.8 880.2h0M356.2 880.2h0M367 882.1h0M379.8 881.6h0M381.6 881.5h0M391.8 882h0M392.7 880.3h0M396.5 880.4h0M410.8 882.2h0M411.5 880.1h0M424.2 881.5h0M430.5 882.2h0M433.7 882h0M439.7 881.1h0M472.1 881.5h0M486.2 880.6h0M310.2 883.3h0M314.3 884h0M318.4 883.8h0M320.7 882.5h0M327.6 884.5h0M344.2 882.8h0M345.9 883.3h0M367 882.8h0M374.1 884h0M389.8 882.6h0M393.3 884.5h0M413 883.4h0M418.1 883.5h0M428.6 883.4h0M443.2 882.6h0M454.3 884.4h0M473.1 884.4h0M474.6 884.2h0M480.5 882.7h0M485.6 883.5h0M489.5 884.1h0M316.1 886.6h0M323.8 885.2h0M337.7 886.4h0M345.7 885.6h0M351.8 884.8h0M370.7 885.5h0M396.6 886h0M402.7 886.8h0M407.6 886.4h0M412.9 886.3h0M415.1 886h0M417.8 886.4h0M438.1 886.1h0M448.2 886.4h0M466.8 886.7h0M478.6 886.1h0M481.7 886.4h0M493 885h0M311.3 889.2h0M321.5 888.3h0M324.3 887.2h0M339.3 887.2h0M341 887.6h0M345.4 888.5h0M361.9 888h0M395.8 888.2h0M398.7 888.4h0M404.4 889.1h0M414.3 887.3h0M422.9 888.1h0M432.8 887.9h0M440.5 887.4h0M442.6 889.1h0M444.1 887.9h0M445.9 887.2h0M450.6 887.4h0M453.4 888.9h0M457.8 887.2h0M460.2 887.8h0M465.3 888.7h0M467.7 887.4h0M469.2 887.2h0M475.3 887.9h0M484.1 887.8h0M493.5 887.2h0M342.5 891.5h0M349.7 891h0M359.9 891.1h0M369.7 890h0M372.2 889.9h0M376.6 890.6h0M385.1 890.3h0M389.1 889.7h0M392.1 890.3h0M399.1 891.2h0M428.2 890.8h0M431.4 889.8h0M438.6 891.5h0M445.8 890.3h0M459.9 890h0M463.9 891.5h0M477.5 890.5h0M481.1 890.7h0M488.6 890.6h0M311.8 892.7h0M314.4 892.8h0M319.2 893h0M323.7 893h0M327.7 892.3h0M358 892.8h0M360.4 893.8h0M362.8 892.9h0M368.9 892.4h0M370.5 893.7h0M373.2 893.3h0M381 892.8h0M389.1 893h0M398.9 893.7h0M427.5 893.2h0M444.9 893.6h0M467 892.9h0M469.9 892.6h0M312.3 896.2h0M314.6 895.2h0M319.1 894.6h0M321.4 895.6h0M329.5 895.2h0M334.1 894.2h0M336.7 894.3h0M340.3 895.4h0M349.5 894.3h0M353.2 895.9h0M357.1 895.6h0M363.2 894.3h0M371.7 896.2h0M380.3 895.1h0M382.7 895.5h0M391.7 896h0M411.6 895.7h0M414 894.6h0M420.1 895.8h0M429.9 896.3h0M430.6 895.5h0M433.5 896.2h0M439.9 896.2h0M457.5 894.8h0M460.2 894.5h0M462.9 894.8h0M463.4 894.3h0M467.3 894.7h0M469 895h0M473.4 896h0M479.2 895.9h0M315.6 897.3h0M317.4 897.2h0M320.5 897.6h0M329 898.4h0M340.2 897.7h0M352.7 898.1h0M369.6 898.1h0M370.4 896.9h0M374.1 898.2h0M407.6 897.4h0M421.6 898.6h0M427 897h0M446.7 897.7h0M449.8 897.4h0M461.2 897h0M469.9 896.9h0M321.3 900.2h0M330.8 900.6h0M338.8 900.4h0M342.3 900.8h0M347.7 900.2h0M348.8 899.1h0M350.4 899.8h0M360.1 900.1h0M384.2 900.6h0M396.9 900h0M398.5 901h0M428 899.5h0M430.7 900.4h0M444.8 900.9h0M447.4 900.5h0M450.5 899h0M455.8 900.3h0M462.7 899.6h0M464.4 899.2h0M310 902.2h0M316.8 901.5h0M325.3 901.5h0M333.4 902.5h0M341.3 901.8h0M347.5 903.2h0M354.1 902.8h0M357.2 903h0M371.5 903h0M391.6 901.6h0M410 901.5h0M425.6 902.8h0M433 902.7h0M434.3 902.6h0M443.3 902.5h0M449.2 901.4h0M452.6 902.5h0M457.5 901.5h0M462.8 901.8h0M466.2 903.1h0M477.7 901.8h0M481.2 903h0M316.9 904.8h0M319.9 905h0M324.2 905.2h0M326.1 903.9h0M335.1 905.5h0M373.6 904.2h0M403.9 903.9h0M415.9 903.9h0M417 905.5h0M439.1 904.7h0M443.2 905.4h0M444.4 903.9h0M451.4 904.9h0M454.4 904h0M457.4 903.8h0M460.4 904.3h0M464.8 903.8h0M467.1 904.3h0M472.1 905.3h0M476.2 903.7h0M478.1 904.9h0M496.6 904h0M314.3 907.5h0M323 906.5h0M341.2 907.3h0M353.6 907.4h0M355.4 907.3h0M357.6 907.2h0M361.2 906.8h0M373.1 906.4h0M383.8 907.7h0M385.5 907.9h0M395 906.9h0M398.3 906.8h0M404 906.8h0M407 906.2h0M416.9 906.9h0M418.7 907.7h0M423.8 907.7h0M425.3 906.2h0M433.3 907.5h0M439 906.5h0M442 906.3h0M451.6 907.3h0M455.6 906.8h0M465.7 906.6h0M469.5 906.2h0M471.7 907.8h0M477 906.4h0M480.3 906.3h0M313.8 910.1h0M318.4 910.3h0M321.9 909.8h0M323.8 910.4h0M333.2 908.7h0M335 908.8h0M354.5 910h0M368 909.6h0M378.8 909.7h0M382.5 909.8h0M386.9 909.6h0M393.7 909.3h0M397.5 908.9h0M400.3 910.1h0M405.3 909.9h0M414.7 909.1h0M434.5 909h0M437 909.7h0M455.3 909.2h0M466.5 909.6h0M472.6 909.5h0M483.6 909.4h0M488.3 910.1h0M490.5 909h0M491.9 910h0M494.6 910h0M310.6 911.4h0M325.1 910.9h0M326.1 912.4h0M337.6 912.1h0M342.6 911.5h0M346.4 911.8h0M363.7 912h0M369 911.9h0M378.3 911.6h0M383.7 912.3h0M385.4 912.2h0M392 910.9h0M395 911.5h0M409.2 912.7h0M419.3 910.7h0M421.4 910.7h0M427.9 911.2h0M430.3 911.5h0M432.9 911.8h0M437.5 911.4h0M446.1 912h0M457.5 910.9h0M460.9 912.7h0M463 911.1h0M468.2 911h0M477.6 911.2h0M478.9 911.9h0M485.9 911.7h0M489.5 911.8h0M493.7 912.5h0M310.7 913.7h0M313.9 915h0M327 913.7h0M335.9 913.8h0M337 914.4h0M340.5 914.1h0M351.2 914.3h0M353.1 914.6h0M357.7 913.6h0M362.3 914.5h0M376.5 914.5h0M382.9 914h0M384.8 913.5h0M386.7 913.1h0M400.5 914.6h0M408.8 914.5h0M409.7 913.6h0M431.7 914.5h0M437 913.8h0M450.7 914.8h0M456.4 914.6h0M485 914.2h0M489.4 914.9h0M497.4 913.1h0M314.2 916.9h0M326.1 915.7h0M335.5 916.9h0M345.5 915.6h0M374.2 916.9h0M381.6 915.8h0M383.8 917.3h0M393.2 917.5h0M402.5 917.2h0M405 916.1h0M410 915.7h0M412.3 915.5h0M418.8 915.9h0M430.7 917.1h0M438.2 916.4h0M446.6 917.1h0M449 917.1h0M450.6 916.9h0M476.3 915.5h0M479.7 917.1h0M482.2 915.6h0M484 915.4h0M488.1 916.2h0M491.1 915.6h0M340.5 918.9h0M344.6 919h0M346.3 919.2h0M353.7 918.5h0M356 918.4h0M366.3 919.1h0M389.7 918.1h0M391.1 919.4h0M396.7 918.2h0M400.7 919.1h0M403.8 919.1h0M415.9 919.1h0M417.8 917.9h0M425 919.3h0M432.3 919.2h0M436.9 919.1h0M437.8 919.4h0M452.4 919.5h0M475.8 919.7h0M487.8 919.3h0M490.6 917.9h0M493.2 917.9h0M494.7 918.3h0M327.5 920.7h0M332.4 921.5h0M346 922h0M358.8 921.2h0M381.6 921.4h0M384 921.8h0M386.5 920.5h0M406.7 920.4h0M410.8 920.8h0M433.1 922.1h0M456 921.1h0M472.2 920.4h0M482.4 920.5h0M491.7 920.1h0M313.2 923.9h0M317 923.3h0M332.3 923.4h0M337.8 924.1h0M344.8 924.1h0M348.3 923.8h0M376 923.2h0M390 923.1h0M394.4 923.4h0M415.1 924.1h0M419.8 923.3h0M422.3 924.1h0M435.2 924h0M449.8 922.5h0M467.4 923.9h0M471.9 923h0M474.2 923.9h0M476.7 922.7h0M492.2 923.8h0M309.7 926h0M316.5 926h0M319.2 926.2h0M321.1 925.5h0M334 926.7h0M337.1 925.9h0M345.4 926.8h0M349.5 926.3h0M356.7 925h0M366.5 926.2h0M373 926.1h0M385.9 925.7h0M391.2 924.8h0M453.9 926.6h0M456.4 926.7h0M459.2 925.7h0M465.9 925.6h0M471.8 926.2h0M475.5 926.3h0M485.7 925.2h0M489.3 926.5h0M311.5 928.6h0M332.9 929.2h0M334.4 927.9h0M366.1 928.7h0M387 928.8h0M397.6 928.6h0M404 928h0M408.4 928.8h0M421.1 929.1h0M423.9 928.4h0M437.4 929.1h0M441.8 928.3h0M444.6 927.4h0M457.3 928.9h0M462 927.6h0M475.2 928.6h0M488.1 928.6h0M490.1 928.9h0M497.2 928h0M319.3 930.5h0M323 930.6h0M333.3 931.1h0M336.4 930.4h0M339.2 930.3h0M348.6 931.4h0M369 930.9h0M395.1 930.1h0M397.7 931.4h0M401.6 931.1h0M428.3 929.7h0M432.7 931.4h0M445.3 930.4h0M453.7 931.2h0M456.9 930.6h0M460.6 931.2h0M465.9 931.5h0M471.7 930.2h0M487.4 930.3h0M495.9 930.1h0M312.1 933.8h0M327.4 932.5h0M351.1 932.2h0M364.8 933.5h0M372.6 933.2h0M383.5 932.5h0M389.8 933.2h0M392 932.8h0M395.4 932.6h0M400.3 932.8h0M406.1 933.4h0M409.2 932.8h0M412.1 933.1h0M426.7 933.7h0M434.5 932.3h0M435.4 931.8h0M438.4 931.8h0M462.8 932.1h0M484.9 933.7h0M489.2 932.7h0M310.7 935.9h0M314.3 935.9h0M330.5 935.6h0M334.1 935.4h0M338.1 935.8h0M344.6 934.6h0M349.5 935h0M363 934.7h0M367.5 936.2h0M382.2 934.5h0M388 935.1h0M393.4 935.6h0M396.7 935.5h0M417 934.8h0M445.2 935.7h0M450.5 935h0M452.6 935h0M455 935.6h0M464.7 935.3h0M496.4 934.2h0M316 938.2h0M341.1 937.7h0M349.4 937.2h0M353.8 937.5h0M370 937.1h0M375.5 938h0M379.3 936.7h0M382.1 936.6h0M386.7 937.2h0M390.4 938h0M400.1 936.6h0M410.2 936.9h0M413 937.9h0M416.3 938.3h0M426.2 938.4h0M429.8 936.8h0M438.8 938h0M442.7 938.1h0M449.5 936.8h0M453.5 936.7h0M457.5 937.3h0M459.9 938.3h0M468.2 937.4h0M489.3 937.1h0M495.5 937.2h0M346.4 938.9h0M351.9 939.4h0M356.6 939.1h0M388.7 939.5h0M404.1 940.3h0M409.8 940.3h0M419.3 940.5h0M445.1 939.3h0M449.7 939.3h0M452.8 939.4h0M456.3 939.4h0M464.8 938.9h0M467.6 940.4h0M312.3 942.5h0M312.9 941.7h0M333.1 942.8h0M354.3 941.5h0M356.1 942.1h0M366.1 942.1h0M370.9 942.1h0M380 941.8h0M382 942.1h0M393.4 943.3h0M400.1 941.2h0M419.3 942.1h0M422 942.3h0M427.5 941.9h0M436.1 942.2h0M458.5 942h0M493.3 942.1h0M313.4 945.2h0M318 944h0M318.9 944.2h0M325.4 944.9h0M325.8 943.8h0M333.9 944.9h0M339.2 944.3h0M342.7 945.1h0M344.7 944.5h0M360.7 945h0M361.6 945.1h0M367.6 944.9h0M369.5 944.4h0M374.7 944h0M376.4 945h0M380.1 945.4h0M383.4 944.2h0M387.8 944.8h0M402.6 943.8h0M414 944.1h0M432.8 944h0M444.5 945.6h0M453.5 944h0M461.7 945.3h0M466.4 944.6h0M474.1 944.3h0M477.4 944h0M484.6 943.8h0M496.6 943.9h0M319.1 946.8h0M323.9 947.7h0M334.4 947.1h0M356.3 946h0M361.1 947.7h0M365.2 946.2h0M367.2 947.9h0M380.6 945.9h0M384.9 946.5h0M385.8 946h0M391 947.1h0M406.5 946.3h0M408.3 945.9h0M412.1 947h0M462.8 947.3h0M474.1 947.7h0M478.4 947.1h0M331.3 949.9h0M334.1 950.2h0M340.3 950h0M346 948.4h0M355.8 949.5h0M365.1 948.9h0M371.9 950h0M385.9 948.4h0M390.2 949.4h0M397.1 948.5h0M399 948.3h0M402 948.8h0M412.2 950h0M414.5 949.2h0M415.2 949h0M421.5 949h0M422.2 949h0M438.7 949.2h0M441.7 949.2h0M457.9 949.3h0M463.7 949.1h0M477.3 948.4h0M486.1 948.8h0M312.5 950.8h0M327.9 952.1h0M333.1 952.6h0M335.3 951.6h0M342.7 952.4h0M352.1 951.5h0M366.2 952.7h0M382.4 952.3h0M396.6 951.7h0M408.5 952.6h0M413.2 950.9h0M415.4 950.8h0M421.4 952h0M433.3 951.6h0M459.9 951.2h0M469 951.8h0M477.4 951.6h0M479.7 951.6h0M485.9 950.9h0M492.9 951.6h0M497.1 952.5h0M312.9 954h0M316.1 953.7h0M324.9 953.3h0M326 954.7h0M335.9 954.9h0M338.9 954.5h0M348.7 954h0M359.3 953.7h0M363.9 953.8h0M383.3 954.2h0M389.5 954.9h0M402.3 954.9h0M422.8 954.6h0M426 954.3h0M445.2 953.1h0M445.6 954.1h0M448 954.2h0M455.9 953.4h0M478.7 954.4h0M483.4 954.2h0M491.2 954.4h0M497 953.6h0M316.2 955.8h0M322.2 956.2h0M325.1 957.1h0M327.7 955.8h0M337.3 957.4h0M352.1 956.9h0M355.1 956.8h0M363.6 956.2h0M369.4 956.9h0M385.7 955.5h0M392.8 957.3h0M398.9 956.3h0M400.7 956.2h0M402.7 957.1h0M417.7 957h0M418.7 957.2h0M424.2 957.3h0M462.5 956.9h0M468.1 957h0M476.5 955.8h0M486.4 956.7h0M491.1 957.2h0M491.6 955.3h0M497.5 956.6h0" stroke="#1818de" stroke-width="2.3"/>
<path d="M309.7 808.4h0M329.6 809.2h0M346 807.9h0M348 808.8h0M356.3 808.5h0M372.2 808h0M393.5 807.8h0M418.1 809h0M423 808.6h0M427.8 809h0M449.3 808.4h0M461.3 809h0M495.2 807.3h0M320.8 810.1h0M330.4 811.3h0M335.9 809.7h0M357.7 811.2h0M363.5 811.4h0M367.4 811.3h0M371.8 811.7h0M406.9 810.5h0M416.4 811.6h0M427.4 811h0M428.2 810.3h0M439.8 810.7h0M442.8 810.3h0M447 810.8h0M465.2 810.4h0M475.3 811.2h0M348.5 814h0M370.7 813.5h0M378 812.3h0M403.5 812.6h0M415.2 812.9h0M440.3 814h0M442.6 812.7h0M478.5 812.2h0M483.9 814h0M495 814h0M333.6 814.6h0M338.2 815.6h0M341.2 815.7h0M383.6 814.6h0M397.7 815.3h0M405.1 816.1h0M413.1 816.4h0M415.3 814.9h0M419.5 815.5h0M437.1 815.4h0M437.4 815.2h0M448.2 815.1h0M464.9 816.2h0M328.4 816.9h0M347.6 817.1h0M360.3 818.7h0M366.8 818.4h0M374.2 818.7h0M392.7 817.4h0M444.5 817h0M467.5 818.7h0M469.6 816.8h0M491.8 816.7h0M322.3 820.4h0M340.1 820.3h0M358.7 819.8h0M368.3 821.1h0M395.5 819.3h0M400.4 819.4h0M403.7 820h0M406.3 819.6h0M426.3 820.8h0M431.8 821h0M478.2 819.8h0M485.9 820.2h0M314.4 821.9h0M320.6 822.7h0M321.2 822.1h0M341 821.8h0M367.6 822.8h0M402.3 821.8h0M410.4 823h0M414.6 822h0M429.8 823.1h0M473.3 822.7h0M479.6 823.2h0M483.7 822.3h0M486.8 822.6h0M310.5 825.7h0M347.3 825.4h0M356.2 825.4h0M364.2 824.7h0M389.3 824.3h0M400.5 823.7h0M402.4 824.5h0M407.3 824.4h0M425.7 823.9h0M461.5 824h0M468.5 825.8h0M483.9 823.9h0M486.3 825.2h0M315.6 826.6h0M317.6 827.1h0M328.6 827.2h0M330.6 827.3h0M340.5 827.9h0M348.3 826.8h0M359.7 827.3h0M366 826.3h0M371 826.5h0M399 827.3h0M453.1 827.8h0M458.4 826.1h0M461.5 827.6h0M465.5 827.1h0M467.4 826.5h0M477.7 826.8h0M480 826.4h0M311.6 828.6h0M326.5 830.3h0M349.8 828.5h0M358.8 829.4h0M371.2 828.7h0M375.9 829h0M388.1 828.6h0M401.8 828.8h0M402.8 829.3h0M420.1 829.7h0M424.2 830.3h0M462.3 829.7h0M473.1 828.8h0M345.9 831.2h0M388.3 832.1h0M392.9 832.8h0M394.5 832.2h0M421.1 831.9h0M422.6 831.2h0M495.9 831.1h0M312.4 833.5h0M396.5 833.8h0M439 834.3h0M445.1 834h0M447.8 833.4h0M483.1 835.1h0M495.3 834.8h0M343 836.1h0M352.2 835.7h0M391.9 836.2h0M398.2 836.9h0M399.3 836.1h0M401.1 836.2h0M431.9 837h0M462.4 836.3h0M337.4 838.6h0M352.2 838.7h0M353.3 839h0M431.1 839h0M462.3 839.9h0M339.9 840.6h0M349.3 840.4h0M359.7 842.2h0M361.7 841.8h0M390.8 841.8h0M405.7 841.5h0M420 840.3h0M433.3 841.8h0M434 840.2h0M451 841.6h0M481.6 841.3h0M488.7 840.3h0M495.4 840.9h0M340.3 844.3h0M366.2 843.4h0M394.4 844.5h0M411.8 842.7h0M438.2 842.6h0M460.9 843.4h0M464.4 842.8h0M312.1 846.6h0M365.7 846h0M371.9 846.5h0M402.8 846.4h0M426.8 845.9h0M433.4 846.4h0M456.6 846.6h0M463.7 846.4h0M483.3 844.8h0M488.9 844.9h0M490.6 845.3h0M330.8 848.8h0M331.6 848.2h0M341.8 847.6h0M354.4 849.1h0M355.6 848.5h0M390.5 848h0M394.8 847.6h0M402.5 848.6h0M424.5 848.9h0M452.2 847.9h0M454 847.5h0M484.7 848.7h0M312.7 850.2h0M324.4 851.2h0M336.4 851.1h0M346 849.7h0M347.3 851.6h0M367.6 851.4h0M372.2 851.2h0M378.5 851h0M384.8 850.1h0M401.6 851.5h0M450.4 849.6h0M468.4 851.5h0M469.8 851.2h0M487.5 850.5h0M496.9 850h0M314.4 852.5h0M315.6 852.6h0M325.7 853.2h0M330.5 853.6h0M375.5 852.9h0M380 852.2h0M390.4 853.3h0M426.3 853.5h0M442.5 853.5h0M446.4 853.8h0M467.9 852.2h0M470.7 852.7h0M483.8 853.3h0M495.8 852.9h0M312.7 855.1h0M333.2 854.7h0M348.3 856.3h0M393.9 855h0M399.3 855.2h0M406.5 855.4h0M416.8 856h0M460.4 854.7h0M463.3 855.9h0M464.5 854.8h0M475.1 855.3h0M478 856.2h0M482.5 855h0M492.6 854.9h0M344.7 858.1h0M347.6 857.1h0M351 858.1h0M357.4 858.6h0M378.8 856.7h0M399.2 857.7h0M407 857.9h0M414.2 856.6h0M450.1 857.3h0M459.9 856.9h0M476.1 857.6h0M486.4 857.7h0M492.4 858.7h0M309.7 859h0M343.8 860.9h0M366.5 860h0M371.2 860.9h0M381 859.4h0M383.6 859.2h0M443.8 860h0M454 860.7h0M458 860.3h0M474.2 860.6h0M345.3 863h0M367.3 861.3h0M369.6 861.4h0M389 862.9h0M398.5 862.7h0M421.4 861.4h0M437.5 862.9h0M440.5 861.9h0M466 863.1h0M340 864.3h0M357.7 865.2h0M365.2 864.1h0M369.3 865.1h0M390 865.4h0M403.8 865.6h0M411.9 865.3h0M416.3 865.1h0M428 863.9h0M434.9 865.1h0M452.7 863.9h0M459.1 864.4h0M467.3 864h0M483.4 865.7h0M325.1 866.8h0M347.1 866.6h0M354.2 867.2h0M385.2 867.2h0M417.1 868.1h0M453.8 866.8h0M466.6 866.5h0M480.9 866.7h0M484.4 867.4h0M348.4 869.7h0M353.4 868.8h0M371.1 868.7h0M394.7 869.5h0M404.7 868.9h0M418.5 870.3h0M429.7 868.9h0M468.2 869.1h0M490.3 870h0M320.6 871h0M324.3 871.6h0M333.4 871.2h0M381.7 871.1h0M384.7 871.6h0M385.8 871.2h0M441.2 872.5h0M446.1 871.3h0M466.4 872.7h0M479 871.4h0M338.7 873.8h0M340.2 873.3h0M359.8 873.1h0M373.3 874.7h0M388.8 873.9h0M405.9 873.6h0M426.2 873.7h0M430.2 874.9h0M441.3 874.6h0M450.7 873.6h0M454.2 874.8h0M455.2 873.4h0M459.1 875h0M474.5 874h0M486.3 874.3h0M496.9 873.6h0M320.4 876.8h0M359.5 877.3h0M388.6 877h0M458.1 877.1h0M462 875.5h0M465.9 875.7h0M478.6 876.8h0M496.9 875.7h0M337.8 878h0M353.6 878.4h0M357.2 879h0M366.1 878.6h0M399.4 879.8h0M406.8 878.3h0M426.3 879.3h0M450.2 878.1h0M460 879.8h0M472.2 879.4h0M492.8 878.5h0M322.2 881.9h0M373.5 880.5h0M427.4 881.6h0M475 882.2h0M480.6 881h0M486.7 881.7h0M323.7 884.5h0M333.5 883.4h0M364.1 883.3h0M386.4 882.8h0M409.3 883.5h0M436.3 883.5h0M458.9 882.7h0M461.1 883.2h0M483.6 884h0M495.8 884.3h0M319.2 884.8h0M342.5 886.6h0M354.4 886.6h0M373.2 886.7h0M383 886.2h0M385.2 886.5h0M425.7 885.8h0M433.3 885.3h0M450.2 886.1h0M453.8 885.2h0M471.9 886h0M473.1 886.2h0M497.7 885.5h0M313.6 888h0M353.3 888.8h0M367.3 887.4h0M369.6 888.2h0M376.6 889h0M378.1 887.4h0M379.8 887.7h0M391.6 889.1h0M426.9 888.2h0M449.7 887.9h0M477.5 888.1h0M495.3 887.7h0M327 889.9h0M344.1 891.4h0M363.6 890.8h0M368.3 889.6h0M386.4 889.9h0M400.9 889.7h0M407.3 889.8h0M412.8 890.7h0M433 891.1h0M441.5 891.5h0M443.7 890.2h0M452 891.1h0M466.7 890.5h0M472.9 890h0M310.1 892.1h0M336.9 892.3h0M364.4 893.7h0M396.9 892.9h0M404.2 894h0M432.7 892.5h0M435.8 892.8h0M436.5 893.9h0M440 893h0M456.8 893.6h0M327.9 895.6h0M344.3 894.9h0M347.6 894.3h0M360.6 895.1h0M370.6 895.5h0M378 895.1h0M383.3 896.3h0M386.8 896h0M388.9 895.7h0M395.8 895.4h0M437.4 894.7h0M311.9 897.2h0M342.6 898.1h0M345.5 896.6h0M349.4 898.4h0M362.6 897.4h0M378.3 896.8h0M385.7 896.6h0M388.6 896.8h0M397.4 897.3h0M423.2 897.8h0M437 896.7h0M456.5 896.8h0M458.5 897.7h0M319.3 900.5h0M326.3 901h0M327.6 900.7h0M344.7 899.5h0M354.7 900.1h0M380.5 900.8h0M381.8 899.3h0M393.8 899.3h0M400.1 900.2h0M411.8 900h0M427.2 900.1h0M438.9 899.6h0M312.2 902.7h0M315.5 902.3h0M369 902.1h0M377 901.4h0M404.8 902.1h0M416.5 901.5h0M423.6 903.1h0M467.2 902.6h0M474.9 901.9h0M318.2 905.3h0M332.9 905.5h0M338.9 904.6h0M349.4 905.6h0M350.6 905.6h0M356.5 904.2h0M401.6 903.9h0M405.9 905.6h0M424.2 905.6h0M426.2 904.9h0M447.4 904.6h0M461.2 904.2h0M473.6 904.9h0M480.2 904.5h0M493.8 904.4h0M311.9 906.5h0M326 906.7h0M328.5 906.6h0M337.2 907.1h0M346.6 906.6h0M389.6 906.6h0M399.2 908h0M401.7 906.9h0M409.6 907.2h0M414.8 907.4h0M448.6 907.5h0M467.4 906.8h0M325.2 909.4h0M359.2 908.8h0M377.1 909.3h0M391.4 909.1h0M410.4 908.4h0M423.5 908.8h0M444.1 910.1h0M446.8 909.5h0M458.6 908.6h0M472.1 909.9h0M315.9 911.4h0M337.1 911.7h0M341.2 911.9h0M355.3 911.2h0M361.2 912.5h0M372.4 912.1h0M416.5 911.8h0M434.7 912.4h0M330.8 914.7h0M347.3 913.2h0M355.1 914.6h0M378.6 914h0M398.7 913.2h0M417.7 913.7h0M425.7 914.2h0M444.9 913.7h0M453 914h0M473.4 913.6h0M481.1 914.2h0M322.3 916.7h0M331.4 916.8h0M338.3 915.5h0M347.9 915.5h0M372.3 916.9h0M388.4 916.4h0M395.2 916.9h0M422.7 917h0M454.6 916.1h0M313.8 919.4h0M322.3 918.5h0M329.7 919.7h0M332.6 919.1h0M376.9 919.6h0M413.5 917.8h0M422.7 919.4h0M440.4 919.2h0M444.8 918.1h0M458.9 919.5h0M471.7 918.2h0M477.5 919.6h0M481 917.9h0M324.6 921.6h0M328.8 921.2h0M336.1 920.3h0M354.3 921h0M356.7 922h0M377 920.2h0M448.8 920.9h0M452 921h0M475.6 920.5h0M478.1 920.9h0M487.3 921.1h0M493 921.2h0M367.2 924.2h0M373.1 922.9h0M412.9 923.6h0M447.6 924.3h0M456.7 924.2h0M468.6 923.5h0M479 922.4h0M485 923.8h0M487.8 924.5h0M325.8 924.8h0M338 926.2h0M362.9 926.6h0M363.7 925.5h0M376.3 926.8h0M382.9 925.8h0M393.2 926.9h0M404 925.8h0M405.8 925h0M413.2 925.9h0M415.7 925.5h0M417.8 926h0M435.5 925.2h0M482.2 925h0M323.8 928.2h0M338 928.3h0M344.3 928.3h0M348.3 927.8h0M353.7 928.6h0M356.6 928.5h0M373.5 927.2h0M375.7 928.2h0M380 928.3h0M385.1 927.8h0M391.7 929.1h0M396.2 928.6h0M412.6 928.8h0M464.4 927.2h0M495.7 927.2h0M317.6 929.5h0M356.5 930.7h0M373.7 930h0M378 931.1h0M388 931.2h0M411.3 929.9h0M412.9 930h0M416.6 931.4h0M418.1 931.4h0M421.2 930.3h0M449.7 929.9h0M451.3 930.7h0M463 930h0M333.5 933.6h0M349.7 933h0M360.4 933h0M444 933.6h0M444.9 933.8h0M463.9 933.4h0M486.7 932.6h0M319 935.7h0M340.5 934.9h0M344 935.3h0M381.8 935.8h0M391 936.1h0M395.4 934.9h0M400.6 936h0M414.4 935.7h0M422.2 934.9h0M425.1 934.5h0M467.2 936.1h0M487.9 935.4h0M320 936.6h0M330.3 938.1h0M350.5 936.9h0M396.1 936.5h0M414 936.5h0M446.9 936.8h0M466.3 937.9h0M486.7 937.9h0M309.8 940h0M313 939.9h0M337 939.5h0M337.8 939.3h0M339.8 939.6h0M347.2 940.4h0M354.8 939.1h0M360.6 939.3h0M367.1 940.8h0M370.7 940h0M376.7 940.6h0M383.3 938.9h0M384.6 939.5h0M424.1 938.9h0M438.6 940.7h0M483.9 939.1h0M490.8 939.8h0M494.6 940.8h0M316.5 942.7h0M329.2 942.3h0M335.2 942.1h0M363.6 942.7h0M368.3 942.1h0M374.8 941.6h0M378 942.5h0M440.5 942.2h0M456.4 941.3h0M463.9 942.2h0M467.4 941.8h0M469.1 941.3h0M476.3 942.8h0M485.2 942h0M497.8 942.5h0M328.6 945.3h0M364 943.8h0M371.2 945.3h0M385.4 944.4h0M390.4 945.3h0M392.4 944.3h0M435.8 944h0M439.7 945h0M315.6 947h0M339.4 947.5h0M354 946.4h0M358.6 947.3h0M362.7 946.8h0M393.2 947.3h0M398.1 947.1h0M416.5 947.4h0M433.7 946.8h0M443.7 947h0M447.8 947.7h0M464.2 947.6h0M472 947h0M481.4 946.9h0M493.1 947.9h0M315.8 949.2h0M318.1 949.6h0M327.5 949.1h0M350.7 948.6h0M378.9 948.9h0M381.6 949.1h0M426.8 948.6h0M444.2 949.9h0M445.6 949.9h0M494.5 948.9h0M313.5 951.7h0M322.7 951.6h0M348.2 952.2h0M376.3 951.7h0M391.7 951.7h0M398.9 952.3h0M404.8 950.9h0M443.3 951.5h0M449.1 951.7h0M457.7 951.7h0M470.3 951.8h0M311.1 953.3h0M329.2 954.8h0M344.9 954.3h0M352 953.3h0M368.9 954h0M378.7 954.9h0M384.9 954.5h0M395.3 954.6h0M412.1 953.5h0M415.5 954.3h0M428.3 953h0M433.5 954.5h0M437.5 955h0M470.9 953.8h0M313.3 956.5h0M350.1 956.2h0M361.3 956.9h0M364.6 956.7h0M406.1 956.2h0M439.4 955.5h0M442.1 955.5h0M451.6 956.3h0M458.9 955.3h0M471.3 957.3h0" stroke="#2626ff" stroke-width="1.9"/>
</g>
<g filter="url(#bl1)" opacity="0.72">
<circle cx="413.5" cy="872" r="1.8" fill="#e828e8"/>
<circle cx="421" cy="878.4" r="1.4" fill="#e828e8"/>
<circle cx="444.9" cy="854.2" r="1.4" fill="#e828e8"/>
<circle cx="346.8" cy="852" r="1.2" fill="#e828e8"/>
<circle cx="347.2" cy="887.8" r="1.2" fill="#e828e8"/>
<circle cx="400.3" cy="901.4" r="1.2" fill="#e828e8"/>
<circle cx="390" cy="910.4" r="1.2" fill="#e828e8"/>
<circle cx="351.8" cy="919.9" r="1.2" fill="#e828e8"/>
<circle cx="394.8" cy="922.9" r="0.9" fill="#e828e8"/>
<circle cx="322" cy="813.2" r="0.9" fill="#e828e8"/>
<circle cx="359.3" cy="853.3" r="0.9" fill="#e828e8"/>
<circle cx="330.7" cy="870.3" r="0.7" fill="#e828e8"/>
<circle cx="377.9" cy="896.6" r="0.9" fill="#e828e8"/>
<circle cx="444.9" cy="840.6" r="1.4" fill="#22c4c4"/>
<circle cx="471.2" cy="837.3" r="1.2" fill="#22c4c4"/>
<circle cx="367" cy="912" r="1.4" fill="#22e884"/>
<circle cx="409.1" cy="919.9" r="1.4" fill="#22e884"/>
<circle cx="406.5" cy="901" r="1.2" fill="#22e884"/>
<circle cx="422.3" cy="884.1" r="1.4" fill="#22c4c4"/>
<circle cx="431.7" cy="869.2" r="1.6" fill="#22c4c4"/>
<circle cx="412" cy="902.1" r="0.9" fill="#22e884"/>
<circle cx="401" cy="910.9" r="0.9" fill="#22e884"/>
<circle cx="362.6" cy="895.5" r="0.9" fill="#22e884"/>
<circle cx="433.9" cy="852.7" r="0.9" fill="#22e884"/>
<circle cx="356" cy="816.5" r="0.9" fill="#22e884"/>
<circle cx="376.8" cy="824.1" r="0.9" fill="#22e884"/>
<circle cx="368.1" cy="846.1" r="0.7" fill="#22e884"/>
<circle cx="417.5" cy="916.4" r="0.9" fill="#22e884"/>
</g>
<path d="M313.3 951.5h35" stroke="#c8c8e0" stroke-width="0.6" opacity="0.6"/>
<text x="331.3" y="950.3" font-size="2.6" fill="#d0d0e8" text-anchor="middle" font-weight="normal">100 μm</text>
</g>
<g clip-path="url(#cp1)">
<rect x="505.2" y="808.3" width="185.3" height="148" fill="#05051a"/>
<g filter="url(#bl2)" fill="none" stroke-linecap="round">
<path d="M507.5 808.3h0M510.5 808.2h0M511.4 807.9h0M533.4 807.3h0M535.5 809h0M538.8 807.2h0M540.4 809.3h0M548 807.5h0M562.6 808.5h0M565.9 807.9h0M583 808.1h0M606.4 807.5h0M608.5 808h0M620 807.4h0M627.2 808.5h0M643.8 809.1h0M653.9 808.8h0M655.4 808.5h0M663.3 807.5h0M686.5 807.7h0M689 808.8h0M506.4 811.7h0M516.4 811.6h0M529.5 810.5h0M531.6 811.4h0M541.6 811.6h0M551.8 810.9h0M554.4 810.7h0M560.5 811.7h0M566 811.3h0M569.9 809.8h0M589.4 810.7h0M596.5 810.3h0M614.5 811h0M619.4 811.5h0M624.9 811.6h0M625.5 811h0M636.1 810.4h0M637.1 811.3h0M655.9 810.3h0M663.4 810h0M671.9 809.6h0M672.7 810.4h0M683.3 809.8h0M684.7 811.6h0M507.1 812h0M515.6 813.9h0M528.4 812.3h0M536.4 812.2h0M544.5 812.5h0M547.5 813.3h0M550.1 812h0M552.5 812.2h0M555.1 813.9h0M557.2 812.7h0M558.9 813h0M566.8 812.8h0M612.4 812.3h0M620.9 813.8h0M621.8 813.7h0M630.1 813h0M647.2 812.7h0M648.3 813.1h0M650.8 813.5h0M659.7 813.5h0M670 813.6h0M681.3 812.5h0M511.2 815.4h0M523.2 814.4h0M542.2 815.5h0M547.8 814.6h0M553.6 814.5h0M612.2 814.5h0M622.1 814.6h0M623.1 815.1h0M668.7 816.2h0M677.7 815h0M684.9 814.7h0M692.2 815.4h0M508.5 817.2h0M513.8 818.1h0M548.4 817.3h0M615.3 818.7h0M626 817.1h0M671.5 817.3h0M679.6 818h0M690.2 818.3h0M553.8 820.7h0M564.8 820.4h0M610.8 819.2h0M612.8 820.8h0M616.4 819.8h0M621.6 820.7h0M627 819.9h0M650.5 821.1h0M651.4 819h0M656.4 820.1h0M663.8 819.6h0M675.8 819.9h0M679.7 819.4h0M682.7 820.4h0M684.2 819.8h0M504.4 823.4h0M545.7 823.2h0M555.9 822.2h0M564.7 823h0M566.9 821.7h0M591.7 821.4h0M603.7 822.4h0M615.8 822.7h0M618.4 821.9h0M625.2 822.5h0M651.6 822.4h0M669.8 821.5h0M672.1 822h0M673.9 822.2h0M676.9 821.7h0M687.1 822.2h0M555.5 823.9h0M579.6 825.4h0M611.8 824.6h0M615.1 824.2h0M620 824.7h0M649.3 824.9h0M656.9 824h0M670 824.9h0M506.7 827.9h0M531.6 827.8h0M546.1 826.9h0M551.7 827.1h0M557.4 826.5h0M561.1 826.5h0M567.3 826.9h0M571.1 828h0M575.5 826.4h0M583.7 826.4h0M612.3 826.4h0M629.2 827.6h0M566 828.9h0M574 830.1h0M588.1 830.2h0M596.2 829.7h0M611.5 829.3h0M622.5 830.1h0M628.4 829.8h0M662.5 829.8h0M666.3 830.4h0M680.5 828.8h0M690.1 829.9h0M510.5 832.6h0M545.3 831.3h0M554.5 831.9h0M556.4 831.4h0M573.4 832.8h0M574.7 831.1h0M580.6 831.9h0M588.5 832.7h0M589.2 832.1h0M594.5 832.8h0M600.8 831.2h0M608.2 831h0M627.4 831.6h0M640.6 832.6h0M645.9 831.1h0M655.8 832.7h0M659.7 832.1h0M672.8 831.4h0M550.4 834.5h0M559.4 833.6h0M563.5 833.4h0M565.3 834.8h0M595.6 834.3h0M613.7 834.7h0M617.8 833.8h0M621.1 835h0M623.7 833.4h0M629.2 833.2h0M632.7 834.3h0M638.8 835.1h0M644.1 833.6h0M670.9 834.7h0M692.9 834.9h0M504.9 836.8h0M543.1 836.3h0M545.5 835.7h0M547.6 836.6h0M555.5 835.9h0M556.7 837.4h0M559.2 835.7h0M570.3 836.6h0M575.1 836.2h0M580.8 836.8h0M586.6 835.8h0M620.4 836.2h0M630 837h0M632 836.6h0M644.7 837.2h0M663.6 836.3h0M689.9 835.9h0M517.4 839.4h0M549.4 839h0M553.6 838.5h0M569.5 838.8h0M574.4 839.7h0M580.7 838.4h0M583.1 838.9h0M613.6 839.2h0M624.5 838.8h0M625.6 839.3h0M643.4 839.2h0M645.6 838.6h0M650.3 838.8h0M653.9 838h0M664.1 838.9h0M506.1 841.6h0M506.8 841.9h0M541.1 840.6h0M542.7 841.1h0M550.7 840.7h0M557.9 841.7h0M563.8 840.4h0M567.8 840.4h0M586.7 840.2h0M623 840.7h0M635.9 840.6h0M638.1 841.5h0M646.1 841.6h0M658.2 841h0M513.4 843.4h0M553.8 843.4h0M557.6 843.7h0M559.5 843.2h0M562.2 843.9h0M570.9 844.3h0M581 844.1h0M613.7 843h0M616.1 843.7h0M626.4 843.6h0M642.4 844.4h0M661.6 844.2h0M664.4 843.1h0M689.7 844.6h0M509.2 845.4h0M516.5 846.7h0M518.7 845.8h0M523.5 845.5h0M528.4 846.3h0M540.4 846.5h0M549.5 845.5h0M557.2 846.2h0M558.6 845.4h0M568.7 845.9h0M571.4 844.9h0M589.5 845.8h0M591.9 846.5h0M629.1 845.9h0M634.1 846.8h0M642.9 845.2h0M650.1 844.9h0M656.9 845.2h0M666 846.8h0M509.7 847.2h0M511.4 848h0M516.8 848.2h0M542.9 849.3h0M552.1 847.4h0M555.4 847.8h0M558.7 848.5h0M562.3 849.2h0M577.1 847.6h0M595.2 848.5h0M598.2 847.7h0M628.3 847.6h0M630.5 847.3h0M656.3 849h0M662.4 847.7h0M506.1 850.6h0M507.6 851.6h0M510 850.9h0M517.1 850.8h0M535.2 850.5h0M556.3 849.8h0M558.6 850.8h0M563.2 851.5h0M565.6 850.2h0M569.4 851.4h0M577.2 850.5h0M581.8 851.6h0M589.3 851.6h0M631.8 850.3h0M635.5 849.8h0M639.6 850.2h0M657 850h0M660.6 850.5h0M672.1 851.4h0M514.9 853h0M545.4 853h0M566.1 852.8h0M573.5 853.9h0M575.8 852.6h0M589.1 853.6h0M591.7 853.7h0M594.3 853.5h0M596.4 853.5h0M612.8 852h0M614.1 853.1h0M618.8 852.9h0M623.1 853.2h0M642.7 853.9h0M654.4 852.2h0M675.5 853.4h0M689.2 853.8h0M512.3 855.5h0M553.7 854.4h0M568.2 855.7h0M573.2 856h0M584.3 854.5h0M591.2 856.4h0M618.9 855.1h0M620.7 854.8h0M623.2 856.2h0M629.9 855.2h0M631.9 856.3h0M634.7 854.4h0M636.5 856.1h0M644.2 855.2h0M651.3 856.1h0M666.9 856.2h0M677.6 855.9h0M687 854.3h0M520 857.4h0M539.8 857.8h0M540.6 858.6h0M544.5 857.8h0M551.2 857.9h0M555 857.7h0M565.1 857.6h0M575.2 857.5h0M612.1 858.2h0M624.5 858.6h0M626.6 858.5h0M636 857.1h0M637.7 858.3h0M639.4 857.4h0M642.5 857.3h0M653.4 858.3h0M659.6 858.5h0M504.7 860.2h0M506.8 861h0M509.8 860.3h0M545.4 860h0M552.8 859.4h0M574.9 860.3h0M587.8 859.3h0M591.8 860.3h0M593.5 860.1h0M614 859.4h0M615 860.4h0M621.9 860.2h0M632.5 859h0M640.8 859.9h0M643 860h0M649.3 861h0M661.9 859.8h0M665 860.9h0M671.7 860.4h0M689.5 860.4h0M690.7 860.3h0M533.8 861.5h0M544.5 863.1h0M550.5 862.2h0M552.7 862.9h0M562.2 862.6h0M572.6 862.1h0M573.6 861.7h0M581.3 861.3h0M584.8 862.6h0M601.9 862.4h0M616.3 861.9h0M619.5 862.5h0M632.5 862.1h0M639.5 862.9h0M678 862.4h0M688 863.2h0M506.7 865.2h0M510.5 864.8h0M517.1 863.8h0M542.4 865.7h0M555.2 863.7h0M559.3 865.2h0M571.1 864.6h0M574 865.1h0M582.7 864.5h0M593.2 865h0M602.4 864.3h0M615.7 864.6h0M624.2 864.3h0M659.5 864.5h0M663.7 863.7h0M670 865.2h0M675.1 864.8h0M682.3 865.5h0M533 867.5h0M539.1 868h0M549.1 868.1h0M552.6 867.1h0M576.7 867.1h0M581.9 867h0M604.6 867.7h0M613 867h0M631.8 866.7h0M657.8 867.4h0M676.9 867.2h0M505.5 869.7h0M510.1 869.9h0M520.8 870.1h0M534.4 870.1h0M538 869.1h0M545.5 869.4h0M560.3 868.6h0M572.5 870.1h0M605.8 869.4h0M616.4 869.5h0M618.6 868.6h0M621.2 869.3h0M638.8 868.6h0M662.7 868.7h0M670.4 868.4h0M675 869.5h0M682.4 868.5h0M689.5 870.4h0M516.8 872.4h0M547.9 872.5h0M555.4 871.5h0M573.8 870.9h0M581.6 872.3h0M607.6 871.9h0M610.1 871.8h0M620.9 871.1h0M624.1 871.1h0M635.5 871.8h0M659.5 872.3h0M675.2 872.6h0M679.7 871.1h0M692.5 872.1h0M512.8 873.3h0M516.9 874.2h0M528.2 874h0M530.8 874h0M545 874.8h0M555.5 873.2h0M556.2 874.1h0M558.5 873.1h0M604.5 874.1h0M689 874.4h0M506.4 876.7h0M522.7 876.4h0M527.8 877.3h0M535.1 875.7h0M537.2 876.6h0M552.6 876.6h0M556.3 876h0M557.7 876.9h0M565.7 876.3h0M572 876.7h0M577.7 876.2h0M588.8 875.7h0M603.3 876h0M614.5 877h0M620.6 877.1h0M624 877.4h0M630 876.6h0M633.9 875.6h0M660 877.5h0M687.4 875.5h0M511.7 879.3h0M531.5 878h0M540.3 878.7h0M548.1 878.5h0M572 879h0M575.7 878.7h0M628.4 878.7h0M633.5 878.3h0M670.7 878.3h0M676.5 878.2h0M689.5 879.6h0M528.4 880.4h0M552.6 880.1h0M560.9 882h0M567.4 881.1h0M575.4 880.3h0M577.8 881.9h0M580.2 880.3h0M598.7 881.5h0M600.3 881h0M606.1 880.8h0M636.3 881.7h0M686.5 881.1h0M510.4 882.6h0M519 883.6h0M535.9 883.4h0M548.4 883.3h0M553.1 884h0M561.5 884.3h0M563.1 883.4h0M568.7 882.7h0M601.5 883.6h0M606.1 883.7h0M616 883.5h0M617.7 883.8h0M664.8 883.9h0M667.3 882.9h0M678.8 883.5h0M690.1 883.9h0M508.8 886.8h0M518.8 885h0M529.8 885.3h0M531.5 886.6h0M534.1 886.7h0M542.2 885.4h0M543 885.4h0M549.4 886h0M566.9 886.1h0M571.8 885.8h0M574.3 886.6h0M576.2 886.6h0M578.5 886.6h0M586.9 886.5h0M590.4 886.6h0M592.3 886.5h0M601.2 886h0M610.5 885.8h0M615.9 885.2h0M619.3 885.4h0M621.5 885.1h0M660.9 885.5h0M682.4 885.2h0M689.9 885.5h0M504.2 887.3h0M507.1 888.2h0M509.2 888.4h0M531.7 888.3h0M533 889.1h0M546 887.2h0M554.1 887.5h0M557.4 888.1h0M564.9 889.2h0M577.6 889.1h0M587.6 889h0M590.6 887.6h0M591.4 888.3h0M604.8 888.3h0M607.1 889.1h0M608.7 888.6h0M616.3 888.8h0M623.4 888.8h0M629 887.4h0M633.7 888.6h0M637.8 887.5h0M665.2 888.7h0M666.8 888.3h0M684.7 888h0M510.4 890.5h0M528.2 890.5h0M542.4 890.7h0M549.5 890.2h0M550 890.3h0M558 891.3h0M560.7 891.6h0M576 889.6h0M589.7 889.6h0M599 890.4h0M603.4 890.6h0M604.4 891.2h0M606.8 891h0M610 889.8h0M616 889.6h0M619.4 889.9h0M622.4 891.3h0M639 891.3h0M655.5 891.3h0M664.5 890h0M668.2 889.8h0M681.2 890.4h0M689.9 889.5h0M691.5 891.2h0M524.9 892.6h0M530.3 892.8h0M532.6 893.2h0M536.5 893.2h0M544.3 892.3h0M548.5 893.8h0M549 892.5h0M554.4 893.6h0M560.2 893.6h0M569.2 893h0M596.4 893.5h0M600.2 892.6h0M603.3 893.9h0M615.7 892h0M622.1 893.2h0M626.9 892.5h0M636.4 893.3h0M643.3 893.2h0M645.2 893.8h0M650.8 892h0M655.3 893.7h0M658.2 892.7h0M662.1 893.2h0M670 892.8h0M675 893.5h0M677.5 892.5h0M681.8 893.4h0M691.3 893.1h0M515.9 894.5h0M536 895.4h0M538.6 895h0M540.9 894.7h0M548.9 895.9h0M553.6 894.9h0M558 894.3h0M559.5 895.6h0M568.2 894.2h0M576.6 894.5h0M594 894.6h0M600.6 894.6h0M621.7 896.1h0M634.9 895.8h0M645.6 895.9h0M650.6 895.1h0M653.4 896.1h0M660 894.4h0M661.4 895.4h0M671 894.6h0M681.1 895.5h0M522.4 897.1h0M554.1 896.6h0M564.2 897.5h0M566 897h0M584.4 897.8h0M588.2 897.6h0M594.9 898.4h0M601.8 897.4h0M605.8 896.6h0M609.3 897.5h0M626 897.1h0M632.8 897.6h0M680.1 898.4h0M686.4 898.2h0M691.4 897.3h0M516.4 899.1h0M520.9 899.5h0M532.6 899.9h0M612.8 899.3h0M618.7 899.4h0M625.2 899.1h0M638.7 900.3h0M641.2 900.8h0M650.3 899.1h0M677.3 899.6h0M684.9 900h0M504.5 902.7h0M522.4 901.5h0M523.3 902.8h0M525.8 901.7h0M602 903.1h0M608.8 902.7h0M622.5 903.3h0M642.5 903.2h0M652.4 903.3h0M658.1 902h0M660.7 903.2h0M665.6 902.3h0M669.2 901.7h0M688.3 901.9h0M592.7 905.5h0M604.3 905.3h0M614.6 904.7h0M638.2 904.9h0M644.7 905.2h0M663 904.5h0M671.8 905.4h0M682.8 904.7h0M688.1 904.9h0M509.2 906h0M527.3 907.3h0M540.5 907.3h0M548.3 908h0M586.1 907.6h0M594.6 907.9h0M610.5 908h0M642.9 907.7h0M648.4 906.6h0M663.1 907.8h0M668.4 907.8h0M683.7 906.8h0M506.1 910h0M572.9 908.8h0M580.8 909.1h0M584.4 908.6h0M591.2 908.7h0M608.3 909.9h0M626.8 909.9h0M646.9 909.7h0M660.2 908.8h0M664.5 910.4h0M665.4 910.2h0M676.4 908.4h0M680 908.5h0M506.8 911.9h0M509.2 911.9h0M514.3 912.5h0M545.3 911.5h0M549.1 911.6h0M555 911.2h0M568.8 912.1h0M576.4 911.3h0M583.6 912.7h0M615.4 912.6h0M618.2 911.4h0M631.9 910.8h0M635 911.9h0M637.1 910.8h0M642.5 912.4h0M648.4 912.3h0M659.7 912h0M663.1 910.7h0M670.2 912.1h0M674.6 911.6h0M677.6 911.9h0M505.6 914.8h0M511.8 913.3h0M517.6 913.9h0M526.7 914.9h0M533.3 913.8h0M546.7 913.9h0M549.7 914.5h0M556.7 915h0M557.2 913.7h0M560.5 915h0M584.5 913.8h0M587.7 914.1h0M595.3 913.5h0M599.3 913.9h0M605 913.4h0M630.9 913.2h0M640.7 914.9h0M652.5 914.4h0M654.6 914.1h0M658.6 914.2h0M662.8 914.8h0M670.7 915h0M677.5 913.7h0M514.5 917.4h0M529.7 915.4h0M537.8 916.2h0M551.5 916.4h0M570.4 915.6h0M591.9 916.6h0M611.4 916.7h0M644.8 915.6h0M649.3 916.9h0M650.3 916.2h0M659.6 915.8h0M662.3 915.7h0M669.2 915.6h0M674.7 915.9h0M680.7 917h0M518 918h0M527.9 918.2h0M542.5 918h0M543.8 919.7h0M559.6 918.9h0M601 918.1h0M606.8 918h0M608.8 919.1h0M613.5 919.7h0M618.9 918.2h0M623.2 917.8h0M651.5 918.1h0M657.1 919.7h0M672.5 919.5h0M509.4 920.1h0M532 921h0M547.7 921.1h0M550.1 920.4h0M553.1 920.9h0M554.7 920.9h0M561.3 921.7h0M564.1 922.1h0M568.3 920h0M573.2 920.4h0M575.4 920.2h0M583 921.8h0M585.3 921.9h0M590 921h0M591.3 921.5h0M599.3 920.1h0M609.4 920.6h0M609.9 921.4h0M614.3 920.4h0M617.7 920.6h0M636.6 922.1h0M648.6 920.7h0M655.9 920.2h0M657.5 921.4h0M672.6 921.5h0M679.7 920.8h0M509.2 924.5h0M528.4 924.4h0M530.4 924h0M535.4 924.3h0M537.3 923.5h0M540.7 923.3h0M555.7 923h0M558.9 923.8h0M564.1 922.6h0M570.3 923.5h0M571.4 923h0M588.3 923.6h0M603.4 922.5h0M605.5 923.8h0M608.9 923.9h0M521.4 924.9h0M530.1 925.4h0M539.6 925.5h0M542 925.2h0M551.3 925.5h0M578.8 925.1h0M582.3 926.6h0M591.9 925.6h0M601.9 926.2h0M608.8 926.8h0M663 925.3h0M508.6 928.6h0M511.8 928.4h0M513.9 927.8h0M520.1 927.7h0M530.7 929.2h0M531.8 927.4h0M541.2 928.6h0M552.1 927.3h0M552.7 928.3h0M560.4 927.2h0M573.7 928.3h0M578.6 929h0M582.3 928.7h0M603.5 928.2h0M605.5 927.6h0M615.2 928.7h0M616.4 928.1h0M658.9 927.3h0M507.4 931.4h0M520.7 930h0M531.4 931h0M550 930.3h0M555 930.9h0M563.3 929.6h0M566 930h0M568.2 930.7h0M580.6 931.1h0M586.5 929.7h0M592.3 931.3h0M596.2 930.4h0M600.7 930.1h0M606.7 930h0M609 929.5h0M610.8 929.9h0M540.2 933.8h0M541.6 933.6h0M554.4 933.7h0M555.8 932.5h0M567.5 932.3h0M584.1 931.9h0M599.4 933.2h0M612.5 931.8h0M624.7 932h0M505.3 935h0M509.4 934.9h0M515.3 934.5h0M533.4 935.1h0M538.5 935.9h0M544.4 935.8h0M547.2 935.4h0M550.6 934.6h0M576.4 934.4h0M581.9 935.1h0M587.1 935.7h0M593.5 934.3h0M630 934.9h0M641.9 936.2h0M669.6 934.8h0M505.5 938.4h0M508.4 937.7h0M541.3 937.7h0M545.4 937h0M549.4 936.8h0M587.8 936.8h0M590.9 936.5h0M607.6 937.5h0M610.1 936.9h0M611.2 937.8h0M614.1 937.5h0M623.2 938.4h0M674.2 936.8h0M691.2 937.8h0M506.1 939.5h0M526.3 939.7h0M532 939h0M533.5 938.9h0M544.4 939h0M553.1 939.8h0M594.6 940.6h0M602.5 938.9h0M603.7 939h0M613.7 939.3h0M512.9 941.5h0M519.2 941.3h0M528.2 942.9h0M534.8 942.8h0M539.8 942.8h0M551.9 942.6h0M582.4 942.7h0M601.1 941.6h0M608.1 941.4h0M609 942.4h0M647.8 942.7h0M508 944.8h0M510 944.3h0M516.2 944.7h0M520.1 943.8h0M533.6 944.6h0M545 945.7h0M548.1 945.6h0M556.6 945.5h0M580.9 945.2h0M585 944h0M588.9 945.6h0M592.3 943.9h0M601.4 944h0M606.1 944.5h0M615 944.9h0M520.2 946.3h0M537.1 947.4h0M540.1 946.4h0M556.7 946.7h0M575.5 947.6h0M588.9 947.4h0M590.7 946h0M593.5 946.8h0M599.6 947.2h0M605.6 947.5h0M635.8 947.9h0M510 950h0M514.7 949.5h0M518.5 950.2h0M523.1 948.4h0M529.3 948.3h0M535.8 949.9h0M538.7 949.7h0M563.4 948.9h0M583.5 950.1h0M585.2 950.3h0M600.1 949.1h0M601.6 949.5h0M604.6 948.3h0M608.2 948.8h0M614 949h0M615.5 950h0M624.1 948.3h0M650.9 950h0M672.2 949h0M507.1 952.3h0M507.9 951h0M530.3 951.1h0M553.2 952.4h0M555.2 951.3h0M560.7 951h0M561.9 951.8h0M568.2 952.4h0M637.3 951.9h0M646.3 950.7h0M677.8 950.7h0M685 951.6h0M692.3 952.1h0M504.5 953.3h0M512.9 953.5h0M536 954.9h0M540.4 954.2h0M555.1 953.9h0M558.4 953.8h0M563.5 953.8h0M568.7 954.8h0M577.4 953.5h0M584 954.6h0M586.5 953.5h0M595 954.5h0M616 953.2h0M618.7 953.9h0M619.8 953.3h0M636.4 954.1h0M674.6 954h0M681.9 954.2h0M691.2 955h0M511.6 955.6h0M553.8 956.2h0M556.6 957.2h0M557.2 955.6h0M562.7 957.3h0M572.4 956.4h0M576 955.7h0M585.6 957.1h0M594.1 956.6h0M594.8 955.4h0M597.5 956.2h0M605.2 955.5h0M609.9 955.7h0M631.8 957h0M642.2 957.2h0M650.6 956.9h0M651.1 956.6h0M689.9 956h0" stroke="#1111b8" stroke-width="2.6"/>
<path d="M526.3 808.6h0M544.8 807.9h0M555.1 808.1h0M558.8 809.1h0M568 808.6h0M596.2 807.3h0M601.7 807.5h0M609.9 808.6h0M628.9 807.5h0M646.6 807.7h0M650.5 808.7h0M665.7 808.1h0M671.1 808.7h0M521.4 809.9h0M528.3 810.3h0M555.5 809.8h0M557.1 811.6h0M563.2 809.7h0M567.4 809.9h0M573.5 810h0M604.9 811.3h0M628.2 810.6h0M632.3 810h0M649 811.6h0M675.9 809.6h0M688.1 810.7h0M691.6 810.7h0M541.1 813.3h0M573.2 812.7h0M617.6 813.1h0M625 813.9h0M653.8 812.3h0M662.5 813.8h0M665.3 813.9h0M671.8 812.4h0M513.2 816.2h0M520.1 814.5h0M539 815.4h0M543.3 815.8h0M546.5 815.8h0M559.7 814.7h0M625.9 814.6h0M650.6 815.8h0M652.9 816.1h0M672.2 814.8h0M679.9 815.3h0M686.7 816.1h0M556.8 818.1h0M559.9 818.3h0M613.1 816.8h0M623.5 818.6h0M645.6 816.9h0M653.1 818.4h0M656.2 817.7h0M660.5 816.7h0M666.6 817.1h0M681.6 817.4h0M683.2 818h0M685.3 817.7h0M688 818.1h0M562.8 820.2h0M572.8 820.9h0M577.6 820.8h0M628.1 820.2h0M647.7 820.3h0M669.8 819.3h0M678.8 819.7h0M686.3 820.1h0M550.5 823h0M573.1 823.1h0M574.8 823.4h0M578.8 822.9h0M586.8 822.6h0M589 823.3h0M595 822.1h0M596.2 821.5h0M613.2 821.5h0M620.5 823.2h0M648 823.4h0M660.2 821.7h0M663.6 823.2h0M690.6 822h0M509 825.5h0M547.7 824.1h0M550.1 823.9h0M563.4 825.1h0M564.2 825h0M570.4 824.9h0M576.7 825.3h0M585.5 825.5h0M588.7 825.5h0M590.9 823.8h0M592.7 825.2h0M607.3 825.3h0M609.4 825.2h0M616.7 825h0M625.9 824h0M646.4 824.8h0M662.1 824.2h0M664.1 824.8h0M687.2 825.1h0M691.2 824h0M553.9 826.5h0M568.3 827.7h0M580.1 828h0M587.4 826.8h0M592.6 827.5h0M615.5 827.3h0M619.7 826.1h0M622.9 826.2h0M624 826.7h0M658.1 826.2h0M666.8 828h0M669.4 826.2h0M507.1 830.5h0M548.2 830.4h0M550.7 828.5h0M558.7 830.3h0M568.9 828.7h0M576.8 829.3h0M591.4 828.7h0M600 830.5h0M631 830.5h0M653.9 829.6h0M671.3 830.1h0M507 832.1h0M551.7 832.5h0M571.1 831.8h0M581.8 832.3h0M584.5 831.7h0M619.4 831.1h0M623.6 832.1h0M626 831.4h0M653 830.9h0M657.4 831.1h0M663.3 832.4h0M665.1 831.8h0M666.9 832.8h0M507.2 833.7h0M509.1 835.1h0M553.1 835.1h0M567.2 834.5h0M572.5 835.2h0M574.8 834.1h0M578.5 833.7h0M591.7 833.3h0M619.9 835h0M631.7 834.2h0M635.8 833.6h0M639.5 833.3h0M642.7 834.5h0M652.7 834h0M655.3 834.7h0M661.2 834.5h0M664 835.1h0M687.5 833.8h0M509.5 836.1h0M550.6 836.2h0M561.1 837.2h0M563.8 836.4h0M590.3 836.1h0M595.4 835.6h0M597.8 837.4h0M598.6 837.1h0M622.4 836.5h0M635.9 836.3h0M649.4 835.5h0M665.2 836.9h0M667.3 836.2h0M670.6 835.7h0M672.2 836.5h0M507.2 838.3h0M509.7 839.3h0M539.9 838.8h0M551.4 839.3h0M558.2 837.9h0M588.2 838.5h0M593.6 839.3h0M630.9 838.7h0M640.5 838.7h0M652.5 838.5h0M669 838.3h0M691 839h0M519.4 842.2h0M553.8 841.3h0M559.8 841.9h0M571.8 841.3h0M575.9 841.3h0M582.4 841.9h0M584.5 840.2h0M592.2 841.7h0M615.9 841.4h0M630 840.8h0M651.4 840.6h0M653.2 842h0M656.6 842.2h0M510.1 843.9h0M534 842.8h0M538 842.5h0M543.6 843.9h0M551.4 843h0M585.8 842.5h0M593 843.4h0M596.4 843h0M600.6 844.4h0M638 843.7h0M645.8 843.2h0M654.5 843.1h0M656.6 843.7h0M670.2 843.6h0M506 846h0M507 844.9h0M515.3 845.1h0M522.1 845.2h0M544.6 846.1h0M577.5 845.8h0M580.6 845.9h0M582.6 846.3h0M585.2 846.5h0M587 846.5h0M594.6 846.3h0M597.5 846.2h0M621.7 846.7h0M625.1 844.9h0M636.3 846.9h0M638.4 845.1h0M655.4 846.5h0M660.8 845.6h0M667.5 846.4h0M669.7 846.9h0M671.4 846.9h0M517.7 847.7h0M530.1 848.8h0M533.8 847.6h0M546.2 849.2h0M560.6 848.4h0M566.9 848.5h0M569.1 848.9h0M579.7 847.9h0M586.2 848.5h0M588.2 848.5h0M590.4 848.1h0M614.7 847.2h0M619.1 847.2h0M623.9 848.9h0M642.3 847.6h0M644.4 848h0M646.8 848.5h0M649.4 849.2h0M653.7 848.5h0M673.8 849.3h0M692.6 848.7h0M515.4 849.7h0M532.4 851.4h0M542.7 851.3h0M546.5 849.6h0M552.1 850.8h0M571.9 849.9h0M575.1 850.2h0M579.5 849.8h0M585.2 850.4h0M617.7 851.2h0M630.2 850.7h0M640.7 850.5h0M644.1 851.4h0M648.7 850.8h0M651.4 851.1h0M669.3 850.2h0M676.4 850.9h0M691.6 851.3h0M505.5 852.7h0M509 852.6h0M534.1 852.5h0M544.7 852.9h0M586.1 852.1h0M622.2 851.9h0M625.7 853.5h0M628.9 852h0M631.3 852.4h0M636 852.3h0M637.3 853.7h0M641.3 853.4h0M648 852.3h0M649.9 853.9h0M658.9 852.6h0M660.8 853.3h0M664.5 853.9h0M666.4 852h0M505.9 855.5h0M508.4 854.4h0M542.2 854.5h0M547 856.3h0M556.3 856.3h0M560.3 855.3h0M561.1 855.6h0M575.7 855.1h0M577.5 855h0M597.6 856.2h0M625.6 856.3h0M639.9 855.8h0M653.7 856.2h0M655.6 855.1h0M658.2 855.8h0M660.9 855.3h0M664.3 856.3h0M675 855.3h0M684.4 854.9h0M570.3 857.4h0M583 857.3h0M589.1 858.7h0M590.6 857.7h0M593.8 858.4h0M613.4 857.5h0M621.7 857.2h0M644.2 858.6h0M648.9 857.1h0M656.1 857h0M661.6 856.9h0M684.3 858.1h0M690.3 858.7h0M691.6 857.3h0M539.8 860h0M558.6 860.7h0M571.6 860.9h0M573.3 860.2h0M585.9 860.5h0M589.6 859.8h0M620.5 859.9h0M627.3 860.1h0M633.5 859.3h0M637.5 859.7h0M639.5 859.9h0M653.4 860.4h0M656.1 860h0M667 861.1h0M669.2 859.2h0M682 859h0M507 862.7h0M536.5 863h0M548.3 861.7h0M560.7 863.4h0M570.9 862.1h0M575.9 862.9h0M585.5 863.3h0M589.5 862.8h0M590.5 862.4h0M594.8 861.6h0M599.4 861.9h0M614.5 861.9h0M626.8 861.4h0M638.4 862.4h0M645.8 862.1h0M651.8 862.9h0M661 863.2h0M664.5 861.4h0M683.6 861.9h0M685.9 861.8h0M532.7 864.4h0M540.2 863.7h0M546.5 865.6h0M557.3 864.5h0M560.6 865.1h0M564.1 865.6h0M566.6 864.9h0M567.9 863.7h0M574.7 865.5h0M580.3 865.5h0M586.6 864.3h0M597.2 864.1h0M599.5 865.5h0M610.3 864.3h0M623.6 865.3h0M629.7 864.2h0M631.2 864.2h0M634.4 864.3h0M647.6 863.7h0M654.2 865.3h0M664.5 865h0M671.6 864.9h0M691.7 863.8h0M546.4 867h0M559.1 866.7h0M562.5 867h0M566.5 867.6h0M570.5 866.6h0M571.5 867h0M583.5 868.1h0M588 868.1h0M599.6 866.5h0M603.3 867h0M609.1 866.2h0M617.5 866.3h0M619.9 867.8h0M621.5 866.5h0M629.1 867h0M637.6 867.1h0M660 867.8h0M684.4 866.8h0M689.3 866.3h0M514.5 869.4h0M520.1 870h0M542.3 869.2h0M565.3 869.3h0M580.2 868.6h0M599.6 870.2h0M608.4 869h0M609.9 869.4h0M613.3 869h0M621.9 869.7h0M624.1 870.3h0M628.3 868.7h0M633.5 869.5h0M656.3 869.2h0M660.6 869.1h0M666.8 868.9h0M506.4 872.2h0M510.3 871.3h0M514.4 872.8h0M523.7 872.3h0M524.6 872.2h0M527.7 871.9h0M531.8 871.4h0M535.6 872h0M546 872.7h0M560.1 872.8h0M568.8 871.7h0M573.1 872.6h0M584.4 872.7h0M611.6 871.8h0M613.8 872h0M617.1 871.8h0M619.6 871h0M626.8 871.1h0M627.9 871.5h0M663.6 871.9h0M674.2 871.8h0M677 872.2h0M688.7 872.6h0M510.5 873.5h0M526.6 874.8h0M542.9 874.1h0M561.2 874.2h0M568.5 874.6h0M575.6 874.4h0M578.5 873.2h0M580.6 873.9h0M605.9 874.3h0M609.3 873.6h0M632.4 874.1h0M633.5 874.3h0M662.3 873.3h0M673.7 873.4h0M680.2 873.9h0M683.6 873.3h0M690.8 873.8h0M513.4 875.6h0M547.3 877h0M548.5 876.9h0M563 875.6h0M570.3 876.7h0M578.3 876.7h0M601 876.7h0M604.8 876.3h0M610.7 877h0M613.1 875.9h0M667.5 877.4h0M670.9 876.7h0M675.9 877.2h0M681.1 875.8h0M685.4 875.9h0M689.8 877.2h0M509.3 878.1h0M513.6 877.9h0M522.4 878.1h0M526.1 878.3h0M535.2 877.9h0M563.9 878.7h0M572.5 879.8h0M586.9 878.2h0M607 878.2h0M617.1 879.1h0M622.9 878.3h0M636.3 879.1h0M662 878.7h0M668 879.3h0M690.1 878.7h0M508.5 881.5h0M516.1 881.8h0M525.1 880.1h0M535.3 880.3h0M547.1 880.5h0M549.2 881.1h0M550.9 880.3h0M555.6 881.6h0M562.5 882h0M583.3 881.2h0M602.9 881.6h0M607.5 880.6h0M611.7 880.3h0M614.2 880.7h0M637.1 881h0M660.1 882h0M664.3 881.1h0M665.2 881.1h0M669.1 881.4h0M671.7 881.6h0M673.7 882h0M679.3 881.4h0M682.5 881.1h0M693.1 881.6h0M506.7 883.6h0M514.1 882.9h0M517.7 884.3h0M531.5 884h0M543.2 884.1h0M554.6 883.8h0M556.1 882.7h0M570.5 884.1h0M578.6 883.7h0M580.7 884.2h0M585.9 882.6h0M588.4 883.9h0M596.7 883.5h0M610.7 883.4h0M613.3 883.4h0M621.1 882.5h0M628.7 883.5h0M675.1 883.6h0M676.9 883.4h0M688.7 882.6h0M506.1 885.4h0M546.3 886.5h0M550.9 886.6h0M553 885.1h0M561 884.8h0M564.7 885.5h0M594.7 886.9h0M623.2 885.5h0M629.4 886h0M630.2 885.3h0M634.3 886h0M651.1 886.9h0M691 885.6h0M511.7 888.5h0M515.4 888.7h0M518.5 887.6h0M524.9 888.1h0M535.8 888.2h0M548.1 887.8h0M550.6 887.6h0M553 887.2h0M561.4 887.6h0M581.1 888.7h0M595.1 887.2h0M595.9 887.2h0M620.6 888.2h0M658.1 889.1h0M686.4 887.7h0M507.3 889.7h0M517.5 889.6h0M520.3 889.9h0M523.4 889.9h0M525.7 890.8h0M534.6 890.7h0M537.6 890.4h0M553 891.1h0M556 891.1h0M571.5 889.6h0M579 890.6h0M582.9 889.5h0M586.4 891h0M591.3 890.1h0M593 891.5h0M599.4 890.1h0M611.4 889.8h0M615.1 890.3h0M640.3 889.6h0M642.4 890.5h0M651.6 891h0M678.1 890.5h0M682.6 891.1h0M505.3 893.4h0M508.2 893.1h0M510 893.7h0M512.7 893.7h0M515.9 893.5h0M528.1 893.6h0M538.1 893.7h0M539.9 892.7h0M560.6 891.9h0M573.8 891.9h0M584.4 892.7h0M590.1 893.9h0M591.3 892.8h0M600.9 892.6h0M614.3 892.8h0M635.1 893.1h0M638.5 893.9h0M652.4 892.7h0M661.2 892h0M679.9 891.9h0M682.9 893.1h0M689.2 892.8h0M505.4 896.2h0M508.3 894.8h0M513 894.3h0M518 894.8h0M525.6 894.6h0M544.2 895.1h0M565.6 894.6h0M583.1 894.7h0M589.2 894.3h0M590.3 894.7h0M603.7 896.2h0M604.3 895.4h0M606.4 894.9h0M612 895.8h0M628.8 894.2h0M631.1 894.8h0M632.3 895.8h0M640.5 894.8h0M664.6 894.4h0M666.7 895.7h0M678.8 894.4h0M682.5 895.8h0M684.5 894.4h0M688.7 895.2h0M507.2 898.6h0M512 897.8h0M514.6 897h0M526.8 897.4h0M535.3 896.7h0M538.6 896.8h0M540.3 898.6h0M573.6 896.7h0M575.8 898.3h0M578.7 898.4h0M589.6 896.8h0M598.8 897.8h0M612.6 897.1h0M626.8 896.9h0M646.8 897.7h0M655 898.5h0M677.3 898.5h0M527.2 900.4h0M597 900.1h0M615.8 900.7h0M645.6 899.4h0M646.4 899.8h0M656.7 901h0M659.6 898.9h0M663.9 900.1h0M667.1 899.7h0M669.3 899.1h0M670.4 899.8h0M676.6 899.4h0M682.9 900.1h0M686.5 900h0M510.4 902.4h0M575.3 901.5h0M589.8 903.2h0M592.5 901.3h0M603 903h0M612.9 903.2h0M625.5 902.3h0M627 901.5h0M639.1 902.7h0M644.6 903.2h0M656.4 902.8h0M681.7 903.3h0M685.4 903.2h0M691 903h0M509.7 905.3h0M518.5 905.5h0M523.7 905h0M524.6 905.4h0M602.8 904.7h0M612.3 905.5h0M621.1 904.5h0M624 905.2h0M630.8 903.7h0M633.6 905.1h0M634.6 905h0M640.7 905.6h0M652.6 903.7h0M655.1 905.6h0M661.2 905.1h0M680.8 905.1h0M684.6 904.4h0M689.7 905.7h0M691.8 904h0M505.3 907.4h0M513.1 907.9h0M514.4 907.8h0M542 907.4h0M546.2 907.9h0M583.6 907.6h0M587.9 907.5h0M590.3 907.2h0M597.2 907.6h0M608.8 907.1h0M616.2 906.4h0M623.4 907.2h0M637.1 907.7h0M646.9 907.3h0M649.9 906.2h0M654.1 907.6h0M657.9 907.8h0M660 908h0M669 907.5h0M676.1 906.8h0M686.9 906.1h0M512.5 909.6h0M516.4 908.7h0M518 908.8h0M520.3 908.9h0M529.4 908.4h0M536.8 909.4h0M538.5 909.4h0M543.5 908.6h0M557.2 910.1h0M562 909.2h0M593 908.9h0M600.8 910h0M611.8 910h0M613.7 909.3h0M618.3 910.1h0M620.8 910.4h0M628.2 909.8h0M633.2 909.7h0M635.2 909.8h0M638.1 910.4h0M639.7 909h0M644.5 909.1h0M670.4 910.2h0M678.7 908.8h0M682.7 908.9h0M506.1 911.1h0M516.5 911.2h0M520 911.7h0M539.9 911h0M558.6 912.3h0M571.9 912.6h0M578.1 910.8h0M585.1 912.1h0M598.2 912h0M602.3 912.4h0M620.2 912.6h0M622.8 912.6h0M647 911.7h0M671.6 911.8h0M682.8 911.5h0M512.8 914.5h0M521.5 913.7h0M537.9 914.5h0M538.7 914.8h0M554.4 914.5h0M564.5 914h0M567 913.8h0M582.4 913.3h0M611.7 915h0M615 915h0M617.2 913.3h0M643.7 914.2h0M657.4 915.1h0M667.8 913h0M519.9 916.9h0M522.1 916.8h0M526.5 917.4h0M531.7 915.7h0M536.4 917h0M557.6 915.8h0M563 916.7h0M569.1 916.9h0M578.6 915.8h0M582.1 915.5h0M585.7 916.4h0M593.5 916.8h0M600.2 916.2h0M602.5 917.4h0M606.4 915.9h0M621.1 916.6h0M640.8 916.5h0M658.9 916.3h0M665.3 916.2h0M667 916.3h0M677.1 916.9h0M511.9 919.3h0M515.4 917.9h0M520.3 918.1h0M522.9 919.3h0M525.6 919.2h0M537.7 919.4h0M539.7 919h0M551.4 918.3h0M554.3 918.2h0M555.4 918h0M568.4 918.2h0M570.2 918.1h0M573.1 919.6h0M574 918.8h0M580.9 918.4h0M583.1 917.9h0M589.3 918.3h0M590.5 919h0M604.6 919.3h0M611.3 918h0M653.6 919.2h0M661.5 919.2h0M666.7 919.2h0M518 920.5h0M523.8 920.7h0M533.3 920.3h0M542.7 921.9h0M545.7 921.3h0M556.2 921.7h0M570.5 920.1h0M580.5 921.8h0M645.7 920.8h0M651 920.8h0M673.9 920.5h0M688.2 922.1h0M520.5 922.5h0M525.7 922.8h0M539.4 923.1h0M545.4 923.4h0M550.9 923.7h0M563.8 922.6h0M568.4 922.7h0M590.3 923.7h0M594 924.1h0M608.3 923.5h0M647.6 923.3h0M661.4 923.7h0M677.3 924h0M508.6 926.7h0M511.9 926.6h0M520 925h0M523.7 926.2h0M526.1 926.6h0M528.9 925.6h0M539.1 924.8h0M548.5 925.3h0M555.5 926h0M556.3 925.1h0M558.7 924.9h0M566.1 926h0M568.9 925h0M571 926.8h0M584.7 926.6h0M588 925.3h0M588.8 926h0M610.5 926.6h0M613.6 926.7h0M619.8 925.1h0M644.7 925.3h0M656.1 926.1h0M505.6 927.4h0M515.9 927.2h0M523.6 928.5h0M534.2 928.1h0M545.8 927.2h0M583.7 927.7h0M586.5 927.9h0M593.2 928.2h0M598.4 928.3h0M623.9 928.9h0M666.8 928.9h0M504.7 929.7h0M510.8 930.8h0M517.6 931h0M529.1 930.5h0M536.4 930.9h0M540 930.2h0M545.3 930.9h0M548.2 929.9h0M575.7 930.4h0M583.7 930.7h0M589.1 931.4h0M599.3 930.3h0M604 930.6h0M614.2 929.5h0M616.2 929.8h0M622.4 930.7h0M625.3 929.6h0M516.3 933.6h0M530.9 931.8h0M532 933.8h0M537.9 931.8h0M580.1 933h0M581.7 932.5h0M586.4 932.7h0M594.8 933.1h0M602.3 932.7h0M609.9 933.4h0M671.3 933.7h0M506.5 934.4h0M526.1 935.1h0M541.5 935h0M554.9 936h0M558.2 934.9h0M571.1 934.4h0M581.1 935.9h0M602 935h0M611.6 935.3h0M615.5 934.4h0M619.9 935.2h0M655.4 935.9h0M511.3 937.3h0M514.1 937.7h0M520.9 937.6h0M526 937.3h0M528.5 937.2h0M530.5 936.6h0M532.8 936.5h0M543.6 937.4h0M581.9 937.3h0M584.8 938.3h0M596.4 937.8h0M598.2 936.8h0M514.4 940.9h0M516.6 939.7h0M587.4 939.1h0M588.8 940.3h0M619.6 939.2h0M505.6 942.3h0M509.6 942.2h0M519.9 942h0M541 941.5h0M547.2 941.3h0M547.7 942.9h0M591.2 941.6h0M593 941.4h0M598.5 942.1h0M612.9 941.4h0M613.6 942.2h0M618.4 941.4h0M625.4 942.6h0M511.6 944.2h0M521.1 944.1h0M524.3 945.3h0M538.7 945.4h0M539.9 945.3h0M593.9 945.3h0M597.6 945.5h0M599.3 945.3h0M608.6 944.9h0M612.7 944.9h0M618.6 944.7h0M506.6 946.2h0M508.1 947.6h0M510.8 946.4h0M513.9 947.6h0M516.2 947.7h0M517.5 947.9h0M522.1 946.2h0M524.5 947h0M541.8 947.6h0M550.6 946.3h0M580.8 947.9h0M585.3 947.6h0M609.7 946.9h0M633.1 947.5h0M504.7 949.7h0M507.2 948.2h0M512.8 949.5h0M525.7 949.2h0M554.1 949.1h0M556.6 949.3h0M572.8 949.4h0M575 948.9h0M580.7 948.5h0M587.8 949.5h0M597.7 950.3h0M611.9 948.6h0M620.7 948.7h0M514.2 951.2h0M520.4 951.1h0M524.9 951.2h0M533.9 950.8h0M549.2 952.6h0M558.6 950.6h0M573.1 952.3h0M578.6 952.2h0M581.6 950.8h0M584.4 952.7h0M592.9 952h0M607.2 952h0M618.6 951.1h0M624.3 952h0M626.4 952.3h0M640.3 951.7h0M681.2 951.5h0M508.5 954.6h0M509.1 954.6h0M520.7 954.8h0M528.3 953.1h0M542.5 954.4h0M547.3 954.7h0M566 953.7h0M571.7 954.7h0M601.4 954.5h0M611.5 953.8h0M614.2 953.8h0M624.1 955h0M632.2 954.9h0M644 954.2h0M687.7 953.5h0M506.5 957.3h0M512.7 956.7h0M529.5 956.5h0M534.2 957.2h0M536 956.8h0M538.6 956.3h0M559.6 955.7h0M565.3 956.5h0M567.1 955.4h0M580.1 957.4h0M582 956.2h0M591.3 956.7h0M615.5 955.8h0M626.8 957.2h0M627.8 955.6h0M644.5 955.5h0M656.9 957.2h0M659.8 956.2h0M661.5 955.8h0M670.6 957.1h0M681.7 956.6h0M685.6 957.2h0" stroke="#1818de" stroke-width="2.3"/>
<path d="M514.8 808.1h0M521.9 808.9h0M548.8 808.2h0M556.7 807.7h0M565 807.7h0M578.7 807.8h0M593.2 807.5h0M598.7 807.3h0M612.9 809.4h0M635.9 808.8h0M669.3 809h0M682.5 807.5h0M690.2 807.8h0M514.3 810.4h0M536.2 809.9h0M546.5 809.9h0M578.4 811.1h0M607.7 811.3h0M642.9 810.4h0M678.8 810.8h0M690.6 810.5h0M511.3 812.6h0M524.7 813.2h0M531.4 812.9h0M603.7 812.8h0M606 812.8h0M611.8 812.5h0M616 813.6h0M657.6 812.4h0M683.6 813.6h0M685.4 813.5h0M507.1 814.5h0M507.9 815.3h0M610.3 815.1h0M646.4 816.2h0M664.6 815.1h0M674.9 815.2h0M536.8 817h0M553.9 818.3h0M626.8 817.4h0M658.2 817.7h0M662.6 818.1h0M509.4 820h0M541.6 820h0M548.5 819.5h0M574.6 820.4h0M608.2 819.4h0M654.8 819.6h0M691 819.4h0M554 823h0M570.4 822h0M599.9 822.2h0M626.5 822.1h0M582.3 825.7h0M584.4 825.2h0M597.2 825.3h0M651.6 824.3h0M593.8 826.3h0M650.6 827.2h0M659.4 826.3h0M689.5 827.4h0M544 829.4h0M581.7 828.4h0M583.8 828.7h0M647.9 829.6h0M649.5 828.7h0M687.7 829h0M692.8 829.9h0M504.7 831.8h0M530.1 831h0M547.4 831.8h0M559.5 831.3h0M563.9 831.6h0M591.6 831.4h0M615.5 832.1h0M628.9 831.5h0M648.2 830.9h0M691 832.2h0M584.5 833.7h0M646.6 834.6h0M677.5 834.6h0M689.5 833.6h0M534.1 837.1h0M577.8 836.1h0M617.6 836h0M642 836.9h0M646.9 837.2h0M511.6 838.9h0M563.8 838.8h0M577 839.7h0M585.9 839.9h0M591.8 838.4h0M616.1 838.8h0M621 839.5h0M656.1 839h0M661.5 838h0M553.2 842h0M562.2 842.1h0M580.6 840.7h0M625.8 841.3h0M628.1 840.2h0M632.9 842.1h0M634.2 842.1h0M644.5 841.1h0M648.7 842.2h0M667.1 841.9h0M688.4 842h0M691.9 841.9h0M508.9 843.1h0M515.6 843.8h0M564.8 844.6h0M572.3 842.9h0M577.9 843.8h0M578.6 844.1h0M619.7 843.5h0M622.1 842.6h0M624.4 843h0M633.4 843.5h0M635.3 842.9h0M639.8 843.8h0M534.3 846.8h0M564.3 846.8h0M565.5 845.9h0M613.2 846.3h0M616.1 845.2h0M621.3 846.1h0M642.5 845.4h0M677.6 845.6h0M512.4 848.5h0M541.1 848h0M553.9 848.2h0M573.6 848.5h0M581.6 848.3h0M592.7 848.5h0M612.9 849.2h0M651.2 848.5h0M660.2 847.3h0M539.1 850.4h0M539.6 850.1h0M597.9 851h0M614.1 851.4h0M622.2 851.6h0M664.3 850.1h0M687.2 851.6h0M688.9 850.5h0M536.1 852.1h0M539.6 853.5h0M563.4 853.4h0M645.8 852.3h0M691.9 853.4h0M515.2 856.1h0M581.8 855h0M589.1 855.6h0M612.3 856.2h0M614.7 855.3h0M641.6 855.6h0M649.6 855.7h0M669.2 856.1h0M671.7 855.4h0M690.6 855.3h0M506 857.1h0M532.7 858h0M557.4 856.8h0M566.7 858.5h0M586 856.6h0M616 858.2h0M634.3 857.7h0M677.1 857.8h0M543.6 860.7h0M567.9 859.8h0M659.7 859.5h0M675 859.4h0M558 861.9h0M612 862.8h0M621.5 861.9h0M631.8 862.2h0M658.5 861.7h0M666.7 861.9h0M670.7 862.7h0M674.7 862.2h0M680 862.1h0M546.1 864.7h0M550.6 863.7h0M604.2 865h0M607.2 865.1h0M626.8 864.8h0M636.1 865.6h0M641.3 864.9h0M508.1 867.6h0M512 866.6h0M516.8 867.4h0M519.6 866.1h0M559.7 867.6h0M574.7 868h0M591.7 867.1h0M596.7 867.6h0M615.1 866.8h0M625.7 866.4h0M635.7 867.6h0M641 866.4h0M666 867.4h0M673.8 867.6h0M554.1 869.1h0M569.2 869.8h0M637 868.9h0M665 870h0M519 872.7h0M536.2 871.1h0M542.4 871.1h0M567.1 871.8h0M575.9 871.5h0M604.5 872h0M666.3 871.4h0M667.9 872.2h0M506.2 874.2h0M507.8 873.3h0M513.8 873.9h0M538.3 873.3h0M548.5 874.5h0M573.5 874.3h0M585 873.7h0M588.8 874.8h0M615.2 873.6h0M676.5 874.8h0M512 876.2h0M532.6 877.4h0M539.1 876.5h0M542.3 876.4h0M550.4 875.6h0M574.8 876h0M617.1 875.9h0M626.9 876.1h0M637.3 875.7h0M665.6 876.2h0M677.3 876.1h0M529.1 879.8h0M537.1 879h0M541.9 878.6h0M549 878.4h0M557.5 878.3h0M559.3 878.5h0M578.8 878.6h0M610.1 879h0M613.8 879.3h0M616.4 878.2h0M658.5 878.4h0M684.1 879h0M511.9 880.8h0M523.5 880.3h0M542.4 881.8h0M585.5 881h0M621.5 881.6h0M626.9 881.2h0M628.5 882.1h0M632.3 881.7h0M676.1 881.8h0M690.5 880.4h0M521.5 883.5h0M526.9 883.3h0M548.8 883.9h0M565.7 882.5h0M631.2 883.9h0M661.8 882.5h0M510.6 885.9h0M521.4 886.3h0M525.8 885.4h0M540 885.1h0M555.2 886h0M581 885.3h0M583 886.6h0M606.7 886.6h0M625.8 886.8h0M669.1 886.6h0M678.5 886.3h0M516.8 888.5h0M527.2 888.1h0M528.8 888.2h0M565.9 887.6h0M575.3 887.7h0M582.4 887.2h0M584.4 888.4h0M653.1 889.2h0M661.3 889.2h0M671.3 889.2h0M676.4 888.3h0M509.3 891.3h0M543 890.4h0M672.2 889.5h0M687.2 889.6h0M525.5 893.5h0M556.4 893h0M571.8 893.8h0M575.7 893.2h0M588.4 892.3h0M607.3 892.4h0M608.1 892.6h0M610 891.9h0M619.6 892.1h0M668.1 892.3h0M522.2 895.2h0M530.2 895.9h0M532.4 896.2h0M574.4 895.5h0M580.3 894.4h0M598.2 895.5h0M609.2 896h0M619.2 896.2h0M643.2 895.4h0M657.1 895.3h0M524.9 898.2h0M531.6 897.2h0M560.1 896.8h0M604.8 898h0M610.4 898.3h0M616.6 898h0M618.2 896.8h0M630.8 897h0M643.1 898.2h0M651.9 897.6h0M660.4 896.6h0M664.9 897.5h0M671.2 897.9h0M673.9 896.8h0M507.8 900.1h0M583.3 899.2h0M590.9 900.7h0M603 899h0M604.7 899.6h0M608.4 899.2h0M609.3 900.7h0M614.5 900.9h0M622 900.9h0M627.8 900h0M651.8 900h0M653.6 899.8h0M512.2 902.5h0M516.2 902.5h0M611.5 902.4h0M615.7 903.3h0M618.1 902.6h0M620 901.6h0M632.6 902.7h0M637.7 902.5h0M662.5 901.4h0M505.8 904.6h0M515.2 905.6h0M586.9 905h0M596.1 905h0M610.8 905.5h0M617.4 904.3h0M619.1 904.4h0M626.8 904.5h0M650.6 905.5h0M668.1 905.5h0M675.9 903.9h0M576.5 907.4h0M601.8 907.4h0M606.3 908h0M630 907.8h0M641 907h0M672.4 907.3h0M678.2 906.9h0M688.6 907.4h0M511.8 909.2h0M524.7 909h0M527.1 909.1h0M542.5 909h0M553.3 910.2h0M556 909.3h0M578.4 909.8h0M595.4 908.4h0M649.2 910h0M511.4 911.5h0M546.6 912.7h0M557.8 910.9h0M561.5 912.6h0M586.9 911.1h0M604.4 912.6h0M612.6 911h0M650.3 910.9h0M664.6 911.8h0M666.8 912.7h0M681.6 912h0M562.9 913.6h0M598.9 914.4h0M607 914.4h0M628.7 913.8h0M681.2 914.2h0M510.9 917.4h0M524.6 916.2h0M532.7 915.8h0M550 915.7h0M562 917h0M576.2 916.4h0M609.3 916.6h0M636.2 916h0M671.2 915.7h0M679.2 915.9h0M565.5 919.7h0M576.9 917.8h0M579.3 918.3h0M595.1 918.3h0M670.3 919.2h0M675.3 919.6h0M678.3 919.3h0M507.2 921.9h0M519.2 922h0M595.8 920.9h0M615.6 921.9h0M507.4 923.2h0M513.2 923h0M516.7 922.7h0M523.5 923.1h0M531.4 924.1h0M580.9 923.2h0M600.1 923.8h0M626.5 923.8h0M665.6 924h0M668 923.1h0M536.8 925.2h0M581 926.2h0M594.4 926.2h0M675 925.1h0M679 924.9h0M538.6 928.4h0M558 927.3h0M577.9 929h0M594.7 928.2h0M607.9 927.1h0M612.8 929.2h0M620.7 927.9h0M552.1 931h0M570.3 929.8h0M618.7 931.1h0M619.6 931.5h0M506.1 932.1h0M513.1 933.4h0M545.7 932h0M562 932.6h0M576.8 933.2h0M591.9 932.4h0M598.5 932.1h0M605.2 932.7h0M516.4 934.8h0M530.8 935.3h0M586 935.3h0M599.1 934.9h0M608.2 934.3h0M649.1 935.7h0M517.6 936.8h0M539.9 937.1h0M601.2 936.6h0M604.3 938h0M618.5 937.1h0M522 940.6h0M541.9 940.8h0M584.9 940.4h0M592.7 939.3h0M596.1 939.8h0M606.4 940.5h0M619 940.2h0M510.8 943.3h0M522.1 941.5h0M585.3 942h0M604.9 942.7h0M514.8 944.7h0M528.7 943.8h0M549.4 944.6h0M587 943.9h0M564.2 947.9h0M607.7 947.4h0M613.9 946.2h0M533.4 948.8h0M540.4 949.4h0M545.8 948.7h0M549.7 949.1h0M558.3 949.3h0M590.2 948.8h0M632.8 949.4h0M510.6 950.8h0M514.7 952.4h0M518.4 952.3h0M532 952.6h0M537.5 951.8h0M542.3 952h0M574.2 950.8h0M686.6 951h0M525.5 954h0M596.1 954.2h0M604.1 953.9h0M626.6 953.2h0M630.3 953.1h0M640.1 954.4h0M678.5 954.6h0M528.2 956.3h0M543.7 956.5h0M548.1 956h0M569.6 956.3h0M601.7 955.8h0M611.4 956.5h0M623.3 956.3h0M633.4 956.7h0M634.9 956.4h0M638.6 957.3h0M646.7 955.4h0M653.8 955.8h0M676.9 956.4h0M681.1 956.3h0M688 957h0M691.3 956.3h0" stroke="#2626ff" stroke-width="1.9"/>
</g>
<g filter="url(#bl1)" opacity="0.72">
<circle cx="564.8" cy="849.9" r="1.7" fill="#22e884"/>
<circle cx="552" cy="855" r="1.7" fill="#22e884"/>
<circle cx="570.7" cy="861.1" r="1.7" fill="#22e884"/>
<circle cx="566.3" cy="874.4" r="1.7" fill="#22e884"/>
<circle cx="581.2" cy="868.6" r="1.5" fill="#22e884"/>
<circle cx="576.9" cy="862.1" r="1.3" fill="#22e884"/>
<circle cx="546.4" cy="869.9" r="1.5" fill="#22e884"/>
<circle cx="555.6" cy="868.4" r="1.3" fill="#22e884"/>
<circle cx="559.5" cy="856.6" r="1.3" fill="#22e884"/>
<circle cx="574.4" cy="857" r="1.3" fill="#22e884"/>
<circle cx="550.3" cy="882.9" r="1.3" fill="#22e884"/>
<circle cx="564.2" cy="880.9" r="1.3" fill="#22e884"/>
<circle cx="558.5" cy="881.1" r="1.1" fill="#22e884"/>
<circle cx="580.5" cy="875.4" r="1.3" fill="#22e884"/>
<circle cx="643" cy="810.9" r="1.3" fill="#22e884"/>
<circle cx="670.4" cy="817" r="1.3" fill="#22e884"/>
<circle cx="605" cy="922.3" r="1.3" fill="#22e884"/>
<circle cx="662.2" cy="891.7" r="1.3" fill="#22e884"/>
<circle cx="674.5" cy="898.4" r="1.3" fill="#22e884"/>
<circle cx="513.8" cy="926" r="1.3" fill="#22e884"/>
<circle cx="623.8" cy="860.1" r="1.1" fill="#22c4c4"/>
<circle cx="623.4" cy="882.1" r="1.1" fill="#22c4c4"/>
<circle cx="645.9" cy="915.2" r="1.1" fill="#22c4c4"/>
<circle cx="550.3" cy="954" r="1.1" fill="#22e884"/>
<circle cx="603" cy="814.7" r="1.1" fill="#22e884"/>
<circle cx="639.8" cy="815.8" r="0.9" fill="#22e884"/>
<circle cx="559.1" cy="924.8" r="0.9" fill="#22e884"/>
<circle cx="627.5" cy="838.6" r="0.9" fill="#22e884"/>
<circle cx="530.5" cy="908" r="0.9" fill="#22c4c4"/>
<circle cx="663.8" cy="873.7" r="0.9" fill="#22e884"/>
<circle cx="576.9" cy="846.2" r="1.5" fill="#e828e8"/>
<circle cx="583" cy="846.2" r="1.5" fill="#e828e8"/>
<circle cx="585.2" cy="851.9" r="1.5" fill="#e828e8"/>
<circle cx="547.5" cy="860.1" r="1.5" fill="#e828e8"/>
<circle cx="576.5" cy="877.4" r="1.7" fill="#e828e8"/>
<circle cx="576.1" cy="871.3" r="1.3" fill="#e8d8f0"/>
<circle cx="545.8" cy="879.5" r="1.3" fill="#e828e8"/>
<circle cx="558.5" cy="867.2" r="1.1" fill="#e828e8"/>
<circle cx="584.6" cy="905.6" r="1.1" fill="#e828e8"/>
<circle cx="591.8" cy="902.9" r="1.1" fill="#e828e8"/>
<circle cx="668.3" cy="885.2" r="1.1" fill="#e828e8"/>
</g>
<path d="M508.2 951.5h35" stroke="#c8c8e0" stroke-width="0.6" opacity="0.6"/>
<text x="526.2" y="950.3" font-size="2.6" fill="#d0d0e8" text-anchor="middle" font-weight="normal">100 μm</text>
</g>
<g clip-path="url(#cp2)">
<rect x="310.3" y="979.4" width="185.3" height="148" fill="#05051a"/>
<g filter="url(#bl2)" fill="none" stroke-linecap="round">
<path d="M331.6 979.7h0M336.8 979.8h0M348.7 979.3h0M359.4 978.7h0M391.6 978.9h0M403.8 979.1h0M440.1 978.4h0M454.1 979.6h0M463.3 979.6h0M492.2 978.4h0M333.6 982.4h0M342.1 982.4h0M360.7 982h0M374.8 980.8h0M408.8 982.3h0M418.7 981.5h0M454.6 981.4h0M485.9 980.8h0M333.7 984.7h0M348.5 984.9h0M358.6 983.2h0M397.4 984.9h0M402.3 984.1h0M410.8 983.4h0M417.7 984.6h0M455.2 983.8h0M465.5 983.6h0M469.9 984.6h0M311.9 985.4h0M325.6 985.6h0M330.8 986.9h0M342.7 985.4h0M356 985.5h0M394.6 987h0M414.3 987h0M456.7 986.8h0M317.3 988h0M324 988.4h0M328.8 988.7h0M385.9 988.8h0M395.5 988.4h0M399.6 988.7h0M455.7 989.7h0M472.4 987.9h0M493.3 988.4h0M495.8 989.1h0M318 991.2h0M336.4 991.3h0M351.2 991h0M386.5 991.1h0M405.3 992h0M459 991.2h0M475.6 990.4h0M321.3 993.7h0M362.9 992.5h0M373.1 993.4h0M379.2 994.1h0M395.4 994.3h0M463.8 993.3h0M486.7 992.8h0M312 996.1h0M316.7 995.7h0M352.9 996.6h0M364 995h0M390.9 995.7h0M395.8 995h0M406.5 995.3h0M411.8 996.2h0M424.3 995.6h0M433.3 996.1h0M453.4 996.5h0M476.8 996.9h0M478.7 996.5h0M492.2 995.8h0M314.6 997.2h0M330.8 999.2h0M345.9 997.2h0M352 999.2h0M357.4 998.4h0M361 997.9h0M398.9 998.1h0M408.4 998.8h0M418.7 997.9h0M433 998.5h0M448.4 998.3h0M456.9 998.1h0M461.6 998.2h0M323.1 1000.6h0M324.8 1001.4h0M327.3 1001.5h0M347.1 1000.4h0M354.5 1000.8h0M366.9 1000.4h0M396 1001h0M416.5 1000.7h0M422.3 1001.2h0M424.4 1000.8h0M431.4 1000h0M438.6 999.8h0M495.4 999.6h0M313.5 1003h0M315.4 1001.9h0M344.2 1002.4h0M355.1 1003.2h0M385.3 1002.1h0M414.4 1003h0M429.7 1002.9h0M453.4 1003.9h0M456.7 1002.8h0M465.9 1002.5h0M479.1 1003.5h0M484.4 1002.3h0M310.6 1004.6h0M324.1 1004.8h0M334.4 1005.6h0M347.6 1005.6h0M350.1 1004.3h0M364.9 1005.4h0M375.6 1005.7h0M377.6 1005.8h0M379.3 1004.6h0M393.7 1006.2h0M417.2 1005.7h0M490.1 1004.9h0M493.4 1004.2h0M497.7 1006.2h0M338.3 1008.6h0M340.1 1007.4h0M342.3 1008.3h0M346.3 1008h0M373.8 1007.8h0M388.6 1008.4h0M454 1007.5h0M463.2 1007.7h0M342.9 1010.3h0M359.9 1010.9h0M368.6 1009.2h0M383.4 1009.9h0M395.5 1009.9h0M470.9 1010.5h0M475.7 1010.2h0M357.8 1012.2h0M362.9 1012h0M472.2 1012h0M487.1 1011.5h0M343 1015.6h0M345.1 1015.7h0M349.8 1014.6h0M485.8 1014.4h0M493.8 1015.3h0M342.9 1017.6h0M368.3 1016.8h0M463.3 1017.2h0M477.3 1018h0M485.9 1016.8h0M494.1 1017.6h0M310.6 1019.8h0M358.6 1020.2h0M457.1 1018.8h0M477.6 1020h0M482 1019.7h0M355.5 1022h0M436.7 1022.6h0M460.5 1022.6h0M473.4 1021.1h0M333.6 1023.9h0M335.6 1025h0M452.2 1024.5h0M456.2 1024h0M488.2 1024h0M333.2 1026.8h0M338.4 1026.3h0M341.3 1026.2h0M436.4 1027.3h0M446.6 1025.6h0M318.9 1027.9h0M363.6 1028.3h0M436.8 1028.1h0M321.2 1030.3h0M332 1030.1h0M440.9 1031.3h0M445.1 1031.9h0M317.7 1034.1h0M338.2 1032.9h0M345.2 1033.4h0M353.7 1033.5h0M368 1032.8h0M449.6 1033.8h0M313 1035h0M315.8 1035.6h0M332.1 1035.1h0M373.2 1035.3h0M453.1 1036h0M481.7 1036.5h0M336.4 1037.5h0M327.1 1039.6h0M331.6 1040.5h0M339.3 1041.1h0M346.3 1040.9h0M368.4 1040.8h0M433.8 1040.5h0M318.7 1041.8h0M334.1 1043.1h0M353.4 1041.8h0M356.2 1042.1h0M379.6 1041.8h0M415 1043h0M329.3 1044.3h0M343.1 1045.1h0M355.7 1045h0M384.9 1045.3h0M484.7 1045.3h0M312 1047.7h0M314.3 1047.9h0M332.4 1047.9h0M358.1 1046.9h0M309.5 1050.6h0M315 1049.1h0M326.5 1049.2h0M341.2 1049.3h0M345.9 1049.9h0M347.6 1050.9h0M360.4 1050.2h0M369.1 1050h0M375.6 1050h0M397.1 1050.7h0M439.3 1049.2h0M313.7 1052.3h0M317 1051.5h0M331.9 1051.4h0M342.1 1052h0M357.8 1051.7h0M372.9 1052h0M318.2 1054.9h0M319.4 1053.6h0M324.1 1053.7h0M330.1 1053.7h0M347.8 1055.2h0M398.1 1054.9h0M434.8 1055.4h0M438 1054.7h0M455.5 1054.8h0M313.6 1056h0M317.9 1055.9h0M322.9 1056.2h0M329.7 1056.8h0M345.9 1057.3h0M396.9 1056.5h0M402.2 1056.4h0M435.1 1056.9h0M498.2 1058h0M321.2 1059.4h0M360.6 1059.9h0M363.8 1058.9h0M369.9 1058.3h0M370.6 1058.7h0M381.2 1059.7h0M490.8 1058.5h0M496.8 1058.9h0M330.9 1061.9h0M352.3 1061.7h0M361.1 1062.6h0M430.4 1062.5h0M311 1063.2h0M317.9 1063.5h0M319.2 1063.7h0M331.1 1064.3h0M353 1064.2h0M354.3 1063.7h0M364.5 1064.3h0M376.2 1064.5h0M434.1 1063h0M392.7 1067.1h0M408.3 1067.3h0M413.2 1066.4h0M414 1065.5h0M427.5 1066.7h0M324 1069.3h0M375.1 1068.5h0M396.8 1068.9h0M401.7 1068.4h0M404.4 1069.3h0M423.7 1069.6h0M443.8 1069.5h0M318 1071.1h0M355.9 1071.2h0M368.8 1071.4h0M392.8 1071.1h0M412.5 1070.5h0M417.6 1070.4h0M428.4 1071h0M327.5 1073.3h0M362.9 1074.1h0M366.3 1073.3h0M376.5 1074.2h0M383.5 1072.7h0M384.8 1073.2h0M392.8 1073.7h0M405.7 1073.1h0M413.6 1074h0M420.9 1074.4h0M429.5 1072.7h0M434.9 1072.8h0M487.5 1073.9h0M318.2 1075.9h0M369.4 1076.5h0M374.6 1076.3h0M384.6 1075h0M398.3 1076.5h0M402.3 1074.9h0M404.6 1076h0M412.1 1076.2h0M423.8 1075.5h0M432.2 1076.5h0M491 1075.5h0M387 1077.1h0M389.7 1079.1h0M395.8 1079h0M404.4 1078.1h0M419.4 1078.2h0M422.8 1079.1h0M484.6 1077.2h0M314.6 1080.5h0M316.5 1080.3h0M320.5 1080.3h0M357.1 1080.3h0M365 1081.1h0M372.2 1080.4h0M375.3 1080.9h0M378.3 1080.7h0M388.8 1081.4h0M400.1 1080.7h0M404.6 1081.4h0M408.4 1081.3h0M424.1 1080.9h0M426.2 1081.5h0M428.5 1081.2h0M436.1 1081.1h0M309.6 1081.8h0M319.5 1081.9h0M368.7 1083.3h0M381.8 1081.8h0M396.3 1081.9h0M405 1083.4h0M416.5 1083.4h0M328.4 1086h0M372 1085.8h0M376.8 1084.5h0M390 1085.2h0M390.8 1084.1h0M398.9 1084.1h0M400.9 1085.9h0M407.4 1085.4h0M450.8 1084.3h0M314 1087.7h0M317.5 1086.8h0M363.7 1087.5h0M376.4 1087.7h0M380.5 1088.4h0M384.1 1087.8h0M387.9 1088.3h0M393.4 1087.7h0M416.4 1087.3h0M332.2 1089.9h0M349.5 1090.5h0M364.6 1089.3h0M409.6 1090.5h0M475.4 1089.4h0M318 1092.8h0M334.7 1091.8h0M367.5 1092.5h0M393.9 1091.2h0M317.9 1094.7h0M334.9 1095.2h0M358.1 1095.3h0M411.5 1095.4h0M475.6 1093.9h0M490 1094.7h0M322.5 1096.1h0M345 1097.1h0M360.2 1095.9h0M364.8 1096.6h0M390 1097.4h0M368.3 1099.4h0M374.5 1100.1h0M391.2 1099.5h0M462 1099.4h0M468.5 1099.1h0M470.4 1100.1h0M483.1 1099.5h0M316.8 1102.5h0M324.8 1102.1h0M326.4 1101.1h0M332.1 1101.9h0M337.5 1100.6h0M343.8 1100.6h0M348 1101.8h0M392 1101.7h0M394 1100.9h0M404.1 1100.9h0M460.8 1101.6h0M467.5 1100.6h0M472.3 1101h0M493.9 1102.1h0M340 1104.9h0M363.1 1103.6h0M370.3 1104.8h0M383.9 1104.8h0M387.5 1104h0M395.9 1104.2h0M455.7 1105h0M486.9 1103.9h0M312.6 1107.3h0M330.1 1106.7h0M365.3 1105.3h0M374.5 1105.9h0M378.3 1106.8h0M383.1 1105.9h0M392.5 1106.8h0M414.3 1105.3h0M419.7 1106.8h0M429.2 1107.3h0M449 1105.9h0M451.3 1106.6h0M459.7 1106.7h0M328.9 1107.9h0M330.4 1108.5h0M358.1 1108.9h0M387.6 1109.5h0M407.2 1108.4h0M416.6 1109.2h0M425.1 1109.1h0M463.7 1107.9h0M470.8 1109.4h0M489.4 1108.3h0M494 1109.3h0M338.6 1111.4h0M360.5 1110.3h0M395.7 1111.7h0M399.1 1110.1h0M404.7 1111.5h0M419.9 1110.3h0M425 1110.4h0M427.1 1110.9h0M451.3 1111.9h0M466 1110.3h0M467.6 1112h0M481.7 1110h0M311.9 1112.4h0M334.8 1114.4h0M349.5 1113.8h0M355.7 1113.5h0M377.7 1113.6h0M378.7 1113.9h0M409.7 1113.7h0M414.6 1114.3h0M418.6 1112.8h0M428.7 1112.5h0M435.3 1113.3h0M440.2 1113.6h0M481.3 1113.9h0M484.9 1113.4h0M369.7 1115.7h0M401.7 1115.3h0M425.8 1115.9h0M429.6 1115.7h0M433.2 1115.7h0M458.4 1116.7h0M490.6 1116.5h0M493 1115.2h0M315.8 1117.4h0M319.3 1118h0M330.7 1118h0M333.1 1118.3h0M342.3 1117.7h0M370.3 1117.3h0M373.4 1118.4h0M379.5 1119h0M383.3 1118.1h0M400.7 1118.9h0M403.1 1118.4h0M422 1117.8h0M426.3 1117.8h0M430.4 1119.1h0M443.3 1117.4h0M445 1118.8h0M484.8 1118h0M491.6 1118.1h0M338.4 1120.4h0M377.6 1121.2h0M395.7 1121h0M411.2 1119.7h0M434.6 1121h0M443.2 1120.2h0M482.8 1120.7h0M488.8 1120.6h0M491 1120.7h0M320.3 1123.6h0M393.2 1123.3h0M396.1 1122.5h0M400.9 1122.9h0M419.9 1122.7h0M430.7 1122.7h0M442.6 1123.7h0M454.4 1122.7h0M463.3 1122.8h0M323.4 1124.4h0M325.9 1125.5h0M350.5 1125.7h0M352.1 1124.2h0M362.7 1124.9h0M363.4 1125.9h0M368.1 1124.2h0M386.9 1125.3h0M394.1 1124.3h0M417 1125.9h0M420.4 1124.1h0M435.3 1124.1h0M442.5 1124.7h0M468.3 1125.9h0M469.5 1125.4h0M489.1 1125.6h0M334.7 1127.8h0M367.2 1126.6h0M382.5 1127.6h0M414.1 1127h0M420.3 1128h0M421 1128.5h0M423.4 1127.2h0M432 1128.3h0M471.9 1127.6h0M472.6 1127h0M497.2 1126.6h0" stroke="#1111b8" stroke-width="2.6"/>
<path d="M315.1 978.6h0M325 978.8h0M345.2 979.1h0M356.6 980.4h0M388.1 978.8h0M423.3 979h0M435.7 980.4h0M443.3 980h0M458.7 980.3h0M465.1 978.7h0M480.1 980.1h0M403.8 982.3h0M427.2 981.4h0M329.9 983h0M337.7 984.6h0M341.6 983.5h0M351.6 983.9h0M404.4 984.9h0M459.3 983.4h0M476.1 984.9h0M478.7 984.1h0M487.1 984.5h0M489.9 983.9h0M490.5 983.8h0M336.7 986.7h0M360.7 985.8h0M407.5 987.2h0M461.8 985.7h0M479.7 985.9h0M494.9 987.2h0M312.2 988.5h0M351.7 989.1h0M355.4 988.7h0M414.2 988.6h0M475.8 989.6h0M316.8 990.3h0M341.4 992h0M354.4 991.8h0M400.1 991.7h0M411.7 991h0M488.7 990.7h0M314.5 993.4h0M343.5 992.5h0M371 992.7h0M391.2 994h0M398.2 993.3h0M402.9 992.5h0M406.3 993.7h0M410.3 993.6h0M421.1 994.4h0M450.5 993.9h0M464.4 993.5h0M469.5 993.9h0M477.4 992.5h0M478.5 992.7h0M496.6 993.2h0M321.3 996.8h0M328 994.8h0M339.9 996.3h0M345.8 996.5h0M364.9 996h0M378 995.5h0M380.5 996.9h0M384.3 996.6h0M387.4 995.8h0M410.4 996.8h0M420.5 995.2h0M326 998.4h0M339 998.8h0M349.4 998.9h0M376.7 998.1h0M378.9 998.6h0M392.1 997.3h0M394 997.6h0M403 998.7h0M406.9 997.8h0M452.1 997.9h0M485.9 999h0M490.4 998.6h0M336.3 999.8h0M359 1001.3h0M388.4 1001h0M401.5 1000.4h0M405.7 999.5h0M435.7 1000.6h0M465.2 1001.3h0M475.5 999.5h0M477.5 1000.1h0M486.3 1001.3h0M320.1 1003h0M325 1003.6h0M340.5 1003.9h0M359.4 1003.8h0M370.7 1003h0M373.4 1002.8h0M387.4 1003.8h0M397 1001.8h0M419.4 1003.2h0M470.4 1003.1h0M494 1002.8h0M496.5 1001.9h0M317.9 1005.7h0M326.4 1004.4h0M342.8 1004.3h0M351.8 1005.5h0M358.9 1006h0M367.2 1005.1h0M384.3 1005.3h0M404.6 1006.1h0M440.2 1004.4h0M460.9 1004.5h0M473 1006h0M314.9 1008.5h0M369.4 1007.9h0M377.6 1008.4h0M385.8 1008.2h0M413 1006.6h0M336.6 1009.8h0M357.1 1010h0M407.6 1010.8h0M335.7 1012.1h0M337.8 1011.9h0M341.4 1012h0M354.1 1013.1h0M402.6 1012.9h0M414 1012.1h0M336.6 1014.6h0M366.1 1014.1h0M369.3 1014.7h0M381.1 1014.4h0M460.5 1015.6h0M465 1014h0M480.2 1014.8h0M339.4 1016.9h0M346.9 1017.2h0M354.1 1016.1h0M363.7 1016.1h0M387 1017.5h0M472.9 1016.3h0M482.4 1017.2h0M340.1 1018.6h0M344.3 1019h0M348.9 1018.5h0M463.6 1019.6h0M468.8 1019.7h0M471.6 1020.2h0M341.7 1022.6h0M350.7 1022.1h0M475.1 1022.3h0M340.1 1024.3h0M342.3 1025.1h0M470.6 1023.7h0M312.8 1025.4h0M343.2 1025.4h0M435.6 1025.4h0M459.1 1026.1h0M313.5 1027.9h0M316 1027.7h0M330.8 1028.1h0M346.8 1028.6h0M350 1028.2h0M358.9 1028.7h0M432.8 1028.8h0M497.8 1029.8h0M312.2 1031.5h0M343.6 1032.1h0M352.1 1030.6h0M360.1 1030.1h0M364.8 1031.4h0M435.8 1031h0M456.1 1031.4h0M466.4 1031.8h0M472.6 1031.6h0M480.1 1030.4h0M366.5 1033.9h0M381.7 1033.7h0M439 1032.8h0M498 1032.7h0M441.3 1035.6h0M311.8 1037.4h0M318 1037.7h0M345.8 1037.3h0M350.4 1038.7h0M311.8 1041h0M314.5 1040.1h0M324.1 1040.5h0M350.7 1039.6h0M316.6 1043.6h0M338.8 1043.7h0M347.5 1043.3h0M361.5 1043.9h0M381.5 1043.5h0M446.1 1042.2h0M494.9 1041.9h0M309.4 1044.4h0M311.7 1045.9h0M317.4 1046.1h0M324.2 1044.6h0M333.2 1045.7h0M368.7 1044.7h0M315.1 1046.9h0M353.3 1047h0M357 1047.6h0M361.4 1048h0M383.5 1047.5h0M495.2 1048.3h0M317.9 1049.4h0M319 1049.2h0M351.7 1050.5h0M364.2 1050.3h0M381.8 1050.2h0M326.1 1052.8h0M327.4 1051.4h0M340.3 1052.5h0M354.4 1052.6h0M356.4 1052.4h0M363.7 1051.7h0M375.7 1053h0M386.3 1052.4h0M488.5 1052.4h0M327.6 1055.1h0M358.1 1053.6h0M386.3 1055.5h0M394.6 1053.6h0M443.7 1054.6h0M326.6 1057.1h0M328.8 1057.5h0M355.4 1057.6h0M366.5 1056.7h0M374.9 1056.7h0M384.7 1056.4h0M442.1 1056.5h0M490.6 1057.8h0M326.9 1058.5h0M355.7 1059h0M361 1060.1h0M390.6 1059.8h0M392.3 1058.4h0M318.6 1062.3h0M335.3 1062.2h0M340.1 1061.4h0M345.2 1062.3h0M348.8 1061.6h0M353.9 1062h0M356.3 1061.8h0M368.8 1062.3h0M385.8 1062h0M391.3 1061.7h0M416.8 1062.6h0M435.8 1061.9h0M315.1 1063.8h0M321.4 1063.4h0M390.7 1064.3h0M392.2 1064.1h0M409.3 1064h0M427.1 1063.5h0M313.6 1067.2h0M365.3 1066.6h0M368.3 1065.5h0M370.1 1066.2h0M374.9 1066.4h0M397 1065.9h0M397.7 1067.1h0M419.8 1066.5h0M496.8 1066.1h0M316.8 1067.8h0M358.6 1069.2h0M363.3 1068.7h0M416.3 1069.4h0M418.2 1068.8h0M431.8 1068.5h0M439.2 1069.3h0M461.7 1068.3h0M311.8 1070.3h0M327 1070.6h0M382.2 1070.2h0M383.5 1070.8h0M395.3 1070.9h0M421 1071.1h0M437.5 1071.8h0M481.3 1071.4h0M314.2 1074.5h0M368.2 1073.8h0M381.8 1074.1h0M395.9 1073.1h0M418.5 1074h0M432 1072.4h0M495.6 1073.4h0M321.7 1074.7h0M396.8 1076.3h0M408.8 1076h0M411.2 1075.5h0M416.4 1076.4h0M497 1075h0M322.2 1077.1h0M374.5 1078.5h0M401.1 1078.1h0M411.6 1078.3h0M413.2 1078.8h0M420.1 1077.9h0M443.5 1077.5h0M445.9 1078.7h0M457.5 1077.1h0M486.8 1078.9h0M496.7 1077.9h0M324.9 1079.5h0M420 1081.1h0M441.6 1079.5h0M451.5 1079.7h0M328.6 1081.9h0M357.3 1083.6h0M388.5 1082.2h0M402.6 1083.8h0M427.9 1082.3h0M490.3 1083.3h0M497 1083.1h0M311.1 1084.2h0M315.7 1085.3h0M326.6 1084.5h0M361.7 1084.4h0M367.8 1085.6h0M373.9 1085.9h0M403 1084.5h0M414.1 1084.1h0M446 1086.2h0M494.7 1084.5h0M313.3 1087.2h0M327.5 1088.1h0M334 1086.6h0M362.5 1087.5h0M395.2 1088.4h0M398.3 1088.5h0M405.1 1087.6h0M455 1087.4h0M459.4 1088.5h0M466.9 1087.1h0M479.8 1086.7h0M370.6 1089.2h0M374.4 1089.7h0M380.4 1090.9h0M383.7 1089.9h0M402.5 1090.4h0M484.7 1089.2h0M488.6 1089.3h0M492.7 1089.3h0M321.3 1091.7h0M325.1 1092.7h0M327.4 1093.2h0M336.5 1092h0M409.4 1092.6h0M484.4 1091.5h0M337.2 1093.8h0M377.4 1094.2h0M395.2 1095.3h0M430.4 1094.6h0M469.6 1094.2h0M473.7 1094.6h0M497.9 1094.7h0M318.8 1097.6h0M357.7 1096.7h0M361.7 1097.6h0M371.3 1096.7h0M393.4 1096.3h0M396.5 1097.2h0M405.8 1096h0M486.9 1096h0M311.2 1099.6h0M315.2 1099.9h0M327.9 1100.1h0M333.2 1099.3h0M338.8 1099.4h0M356.3 1099.9h0M372.1 1099h0M394.6 1099.7h0M401.7 1100.2h0M408.3 1099.8h0M438.5 1099.5h0M336.6 1100.6h0M349.4 1102.6h0M352.8 1100.6h0M355.4 1101.8h0M358 1100.6h0M378.1 1100.9h0M486.8 1101.5h0M490.7 1101.9h0M313.6 1103.2h0M355.2 1103.9h0M366 1103.3h0M371.8 1104.9h0M390 1103.3h0M410 1103.9h0M481.3 1104.5h0M496.9 1103.9h0M351.9 1106.5h0M357 1105.5h0M406 1106.1h0M422.7 1106.6h0M442.1 1106h0M452.6 1106h0M463.5 1106.3h0M470 1106.9h0M482.7 1106.2h0M311.9 1108.8h0M372.5 1109.4h0M388.1 1109.7h0M396.3 1109.3h0M398.7 1108.3h0M440.6 1109.6h0M482.9 1109.1h0M310.4 1111.6h0M335.8 1111.1h0M348 1111.3h0M358.2 1111.6h0M369.9 1111h0M376.4 1111.9h0M390.6 1112h0M437.1 1111.9h0M439.7 1111.2h0M455.8 1111.5h0M462.9 1112h0M361.2 1112.6h0M369.5 1113.6h0M373.2 1114.4h0M389.9 1113.7h0M391.8 1112.4h0M396.6 1113.8h0M422.4 1113.9h0M448.1 1112.9h0M460.3 1112.9h0M493.5 1114.1h0M336.6 1116.5h0M350.8 1115.8h0M375.8 1115.1h0M379.3 1116.4h0M386 1114.8h0M415.6 1116.5h0M436.6 1115h0M450.3 1115.4h0M456 1116.3h0M310.6 1118.1h0M312.8 1117.7h0M335.8 1118.3h0M361.4 1119h0M390.5 1117.5h0M393.8 1118h0M396.2 1118h0M424.4 1118.7h0M428.2 1117.2h0M451 1119h0M455.6 1118.8h0M460.9 1119h0M466.6 1118.3h0M482.9 1118.9h0M498.1 1117h0M321.8 1119.3h0M352.5 1121.4h0M360.1 1121.1h0M371.5 1119.8h0M383.4 1121h0M398.3 1120h0M417.4 1120.3h0M471.9 1120h0M479.3 1119.7h0M315.8 1123.4h0M340.5 1122.2h0M347.3 1123.6h0M351 1123.4h0M353.6 1121.7h0M365.9 1122.1h0M382.9 1122.8h0M386.2 1123.7h0M389.9 1122.4h0M414.8 1122.5h0M457.8 1122h0M459.9 1122.1h0M472.6 1121.8h0M479.9 1122.3h0M487.6 1123.8h0M493.9 1123.4h0M337.1 1124.4h0M340.2 1124.7h0M357.5 1124.4h0M412.3 1126.1h0M419.2 1125.4h0M422.4 1125h0M463.9 1125.6h0M474.2 1125.7h0M318.9 1127.2h0M322.6 1127.4h0M352.2 1127h0M358.7 1128.2h0M361.5 1127.4h0M362.7 1126.6h0M386.9 1127.8h0M391.8 1126.5h0M400.6 1127.4h0M403.6 1127.2h0M408.5 1127.7h0M428.7 1127.4h0M442.7 1127.6h0M457.2 1126.9h0M479 1128.5h0M488.5 1128.1h0M491.5 1126.8h0" stroke="#1818de" stroke-width="2.3"/>
<path d="M343.3 980.3h0M396.7 980.4h0M412.3 979.2h0M436.4 979.3h0M456.9 978.7h0M468.8 979.9h0M399.1 982.5h0M429.8 982.4h0M463.3 981.1h0M469.7 981.2h0M478.8 982.2h0M324.7 983.4h0M391.6 983.2h0M399.4 983.3h0M358.8 986.5h0M377.2 986.9h0M390 989.5h0M409.3 988.4h0M421.5 989.2h0M467.4 988.8h0M470 988.2h0M362.5 991.2h0M424.9 990.8h0M444 991.6h0M451.7 991.6h0M469.9 990.5h0M489.9 990.8h0M418.3 992.6h0M441.8 993.9h0M373.3 995h0M397.6 995.3h0M407.7 995h0M438.9 995.8h0M445.9 995.1h0M482 995.9h0M446.7 997.5h0M476.9 998.5h0M485.1 998.5h0M496.3 998.4h0M312.9 1000h0M316.2 1000.6h0M398.4 999.9h0M426.2 1001.6h0M457.7 999.9h0M459.3 1000.5h0M469.8 1001.1h0M480.2 1001.5h0M482.4 1000.6h0M309.4 1003.9h0M345.5 1002.3h0M376.2 1002.2h0M446.6 1003.7h0M476.4 1002.5h0M362.4 1005.3h0M386.1 1006.1h0M476 1004.9h0M309.8 1007.2h0M347.9 1006.9h0M355 1008.3h0M461 1006.9h0M482.6 1007.2h0M495.1 1007.1h0M366.1 1010.3h0M389.8 1010.3h0M399.5 1010.3h0M467.5 1010.4h0M473.4 1010.5h0M491.6 1010.6h0M387 1011.5h0M466 1012h0M474 1011.9h0M351.1 1013.7h0M354.3 1014.7h0M359.3 1015.3h0M377.9 1014.4h0M400.5 1015h0M351.1 1016.8h0M359.1 1018h0M362.1 1017.6h0M366.3 1017.7h0M442.5 1016.8h0M470.5 1016.1h0M342.9 1020.2h0M352.8 1021.2h0M352.3 1026.9h0M371.1 1025.8h0M386.3 1026.5h0M440.5 1029.5h0M454.6 1029.5h0M466.7 1029h0M318.7 1030.2h0M332.7 1031.9h0M335.7 1032.1h0M397.2 1031.1h0M446.6 1031.8h0M334.6 1033.3h0M363.7 1033.8h0M495.5 1032.6h0M325.8 1039h0M329.4 1039.1h0M425.9 1038.8h0M328.2 1039.7h0M339.8 1041.2h0M356.9 1039.9h0M361.7 1041.5h0M382.6 1039.6h0M440.4 1040.3h0M447.3 1040.8h0M359.2 1042.3h0M362.4 1042.1h0M375.3 1043h0M383.4 1043.8h0M387.4 1043.6h0M321.9 1045.2h0M339.3 1045.3h0M365.8 1045.9h0M490.4 1044.7h0M322.2 1048.4h0M329.4 1047.8h0M362.1 1047.7h0M374.7 1047.1h0M338.1 1050.6h0M378.5 1050.4h0M335.4 1052.9h0M336.7 1051.4h0M384 1052.4h0M313.1 1055.1h0M361 1054.1h0M366 1054.3h0M388.9 1053.6h0M389.6 1054h0M373.4 1057.3h0M386.3 1058h0M419.1 1056.1h0M310.2 1059.5h0M313.5 1058.7h0M314 1058.5h0M318 1059.9h0M343.2 1059.2h0M388.3 1059.1h0M315.2 1062.2h0M407.9 1062h0M370.8 1064.3h0M417.8 1063.5h0M318 1065.6h0M320.8 1065.9h0M330.6 1065.4h0M402.4 1067.1h0M320.7 1069.7h0M321.5 1069.5h0M353 1067.8h0M385.3 1068.2h0M414.4 1068.7h0M363.6 1070.2h0M376.2 1071.8h0M386.5 1070.7h0M390.6 1071.4h0M405.8 1072.1h0M414.3 1070.6h0M309.5 1074.4h0M316.9 1072.8h0M330.1 1075h0M380.7 1074.8h0M388.6 1076.8h0M394.2 1075.5h0M401.1 1075.2h0M319.4 1077.2h0M409.1 1077.7h0M435 1078.4h0M386.9 1081.4h0M394.5 1079.9h0M402.1 1079.9h0M413.8 1080.1h0M479.3 1080.5h0M497.9 1081h0M370.7 1082.4h0M374.4 1082.9h0M395.4 1082.3h0M381.3 1085.7h0M479.9 1084.6h0M356.4 1087.9h0M451.6 1088.5h0M486.9 1087.4h0M491.3 1088.4h0M326.3 1089.4h0M361.3 1092.5h0M380.2 1091.8h0M438.2 1092h0M462.9 1092h0M496.3 1092.6h0M330.3 1095.3h0M360.6 1094.5h0M386.7 1094.6h0M403.1 1094.1h0M458.9 1094.9h0M482.8 1093.8h0M318.2 1097.8h0M343.9 1097.5h0M377 1097.9h0M478.5 1096.2h0M317.7 1099.3h0M369.5 1098.4h0M478.7 1099.4h0M486.8 1099.1h0M498.2 1099.6h0M387.3 1100.9h0M476.1 1100.9h0M481.1 1101.7h0M487.9 1101.3h0M326.6 1103.3h0M333.5 1104.9h0M351.8 1105h0M423.5 1104.2h0M493 1104h0M333.5 1106.8h0M340.2 1107h0M405.2 1106.3h0M468.1 1105.8h0M472.5 1106.9h0M478.8 1106.5h0M487.9 1105.5h0M347.3 1108.7h0M370.4 1109.4h0M400.5 1108.2h0M409.4 1109h0M419.7 1109.3h0M445.3 1109h0M412.8 1110.2h0M433 1111.3h0M443.4 1110.4h0M446 1111.7h0M461.2 1111.5h0M425.2 1113.4h0M469.5 1113.2h0M488.1 1113.6h0M404.4 1115.7h0M484.5 1115.1h0M323.3 1118.3h0M362.1 1118.1h0M388.8 1118.9h0M410.3 1118.2h0M411.7 1118.8h0M417.2 1118.1h0M439.8 1117.1h0M330.5 1121.1h0M369.5 1120h0M373.7 1120.1h0M409.3 1119.8h0M420.1 1120.6h0M429.5 1119.6h0M450.3 1120h0M334.3 1123.4h0M417.1 1122.4h0M423.5 1122.2h0M426.7 1122.4h0M359.6 1124.5h0M398.6 1125.1h0M316.2 1127.3h0M330 1126.8h0M365.3 1127.2h0M394.5 1128.5h0M416.4 1127.5h0M426.3 1127.1h0M433.5 1128.2h0M454.3 1127.1h0M491.1 1127.2h0" stroke="#2626ff" stroke-width="1.9"/>
</g>
<g filter="url(#bl1)" opacity="0.72">
<circle cx="416.2" cy="998.4" r="1.9" fill="#22e884"/>
<circle cx="352.5" cy="1019.2" r="1.5" fill="#22e884"/>
<circle cx="348.8" cy="1042.3" r="2.1" fill="#22e884"/>
<circle cx="340" cy="1043.3" r="1.7" fill="#22e884"/>
<circle cx="359" cy="1010.6" r="1.3" fill="#22e884"/>
<circle cx="372.9" cy="1007" r="1.3" fill="#22e884"/>
<circle cx="376.4" cy="1010.6" r="1.3" fill="#22c4c4"/>
<circle cx="390.2" cy="1062.3" r="1.5" fill="#22e884"/>
<circle cx="403.9" cy="1062.3" r="1.3" fill="#22e884"/>
<circle cx="411.5" cy="1083.7" r="1.5" fill="#22e884"/>
<circle cx="405.3" cy="1092.7" r="1.5" fill="#22e884"/>
<circle cx="332.5" cy="1112.7" r="1.5" fill="#22e884"/>
<circle cx="483.5" cy="1056.6" r="1.3" fill="#22e884"/>
<circle cx="492.3" cy="991.3" r="1.3" fill="#22e884"/>
<circle cx="483.5" cy="1071.9" r="1.1" fill="#22e884"/>
<circle cx="352.9" cy="1097.4" r="1.1" fill="#22e884"/>
<circle cx="360" cy="1098" r="1.1" fill="#22c4c4"/>
<circle cx="318.2" cy="1004.5" r="1.1" fill="#22e884"/>
<circle cx="336.5" cy="1030" r="1.1" fill="#22e884"/>
<circle cx="383.5" cy="1051.1" r="1.1" fill="#22e884"/>
<circle cx="417.6" cy="1078.4" r="1.1" fill="#22e884"/>
<circle cx="466.8" cy="1085.2" r="0.9" fill="#22e884"/>
<circle cx="432.5" cy="1095.4" r="0.9" fill="#22e884"/>
<circle cx="368.6" cy="1062.7" r="1.1" fill="#22c4c4"/>
<circle cx="411.1" cy="1004.9" r="1.5" fill="#e828e8"/>
<circle cx="347.4" cy="1004.5" r="1.3" fill="#e828e8"/>
<circle cx="404.9" cy="1073.3" r="1.3" fill="#e828e8"/>
<circle cx="387.6" cy="1098" r="1.5" fill="#e828e8"/>
<circle cx="321.2" cy="1084.8" r="1.3" fill="#e828e8"/>
<circle cx="318.2" cy="1067.4" r="1.1" fill="#e828e8"/>
<circle cx="320.2" cy="1100.9" r="1.1" fill="#e828e8"/>
<circle cx="316.1" cy="1035.1" r="1.1" fill="#e828e8"/>
<circle cx="406.6" cy="1105.6" r="0.9" fill="#e828e8"/>
<circle cx="379.4" cy="1009.6" r="0.9" fill="#e828e8"/>
</g>
<path d="M313.3 1122.6h35" stroke="#c8c8e0" stroke-width="0.6" opacity="0.6"/>
<text x="331.3" y="1121.4" font-size="2.6" fill="#d0d0e8" text-anchor="middle" font-weight="normal">100 μm</text>
</g>
<g clip-path="url(#cp3)">
<rect x="505.2" y="979.4" width="185.3" height="148" fill="#05051a"/>
<g filter="url(#bl2)" fill="none" stroke-linecap="round">
<path d="M506.6 980.4h0M513.1 980.4h0M524.3 979.4h0M528.1 979h0M538.1 978.8h0M556 980.1h0M581.3 980.1h0M583.6 979.6h0M590.7 979.6h0M599.8 978.9h0M602.5 979.1h0M608 978.9h0M610.8 979.4h0M616.3 978.8h0M618 979.3h0M621.7 979.8h0M628.1 979.3h0M629.8 978.6h0M632.3 979.9h0M661 978.5h0M664.7 978.5h0M679.6 979.4h0M686.6 978.6h0M689.8 978.8h0M505.9 982.8h0M513.5 981.9h0M522 982.6h0M545.9 981.3h0M560.5 981.5h0M569.7 982.7h0M572.1 981.8h0M577.4 982h0M597.1 981.7h0M612.5 981.3h0M616.8 980.8h0M631.3 982.4h0M641.4 981.4h0M648.9 981.2h0M655.3 980.9h0M668 980.9h0M671.3 980.9h0M505.4 984.2h0M516.5 983.7h0M521.6 984.7h0M530.9 983.1h0M542.4 984.4h0M547.5 985h0M576.3 983.2h0M584.1 983.5h0M587.6 984.9h0M591.5 983.8h0M593.9 984.5h0M603.8 984.2h0M605.5 983.9h0M611.6 985h0M632.9 984.2h0M638.9 984.2h0M643.3 983.3h0M649.9 985h0M673.8 983.1h0M511.3 985.5h0M514.1 985.8h0M523.8 985.9h0M531.4 987.2h0M533.7 985.6h0M575.1 987.3h0M598.4 987.5h0M600.3 986.6h0M607.5 986.2h0M625.9 986.3h0M638.7 985.6h0M640.5 987.4h0M646.7 987h0M679.5 985.8h0M688.8 985.9h0M692.9 987.4h0M529.4 989.2h0M531.7 988.6h0M535.7 987.8h0M539 988.1h0M542 988.8h0M569.5 988h0M580.8 988.4h0M581.9 988.5h0M586.1 988.8h0M588.5 989.6h0M593.6 989.5h0M598.8 987.7h0M601.3 988.1h0M609.4 989.4h0M627.7 988h0M633.5 989.3h0M636.4 989.4h0M644.4 988.7h0M688 989h0M541.7 991.1h0M580.9 990.1h0M601.1 990.2h0M602.9 990.6h0M632.9 990.7h0M637.1 991.8h0M510.7 993.7h0M532 993.6h0M541.5 992.8h0M587.9 992.6h0M610.7 992.7h0M620 992.7h0M622 992.8h0M629.5 993.6h0M642.4 993.2h0M690.3 993.9h0M531.4 994.9h0M536.1 996.4h0M600.7 995.7h0M608.5 995.9h0M633.8 996.5h0M634.9 995h0M642.5 995.6h0M656.9 996.6h0M690.5 996.3h0M605.3 998.2h0M608.8 999h0M625.4 998.6h0M633.6 998.2h0M642.1 997.9h0M644.6 999.1h0M646 997.3h0M529.4 1001.2h0M582.3 1000.6h0M584.3 1000.2h0M618.5 1001.5h0M631 999.5h0M640.4 999.7h0M641.9 1000.3h0M654.2 1001.4h0M665.6 1000.9h0M690.5 1000.7h0M516.2 1003.6h0M527.7 1003h0M537.8 1002.3h0M576 1002.3h0M612.5 1002.1h0M637.7 1002.4h0M651.1 1003.5h0M659.6 1003.5h0M674.2 1002.9h0M524.2 1005.8h0M527.7 1005.7h0M543 1005.1h0M555.3 1005.9h0M578.9 1006.1h0M581.8 1005.9h0M610.5 1005.9h0M618.2 1005.3h0M622.5 1004.6h0M622.9 1005h0M630.3 1005.9h0M634.3 1004.8h0M651.8 1004.9h0M664.8 1005.5h0M673.8 1004.7h0M674.7 1005.6h0M504.2 1008.5h0M515.4 1006.6h0M525.3 1007.4h0M533.9 1008.5h0M542.7 1008.6h0M545.9 1007.4h0M573.4 1008.3h0M580.3 1006.6h0M603.3 1007.6h0M607.7 1007.9h0M611.7 1007.6h0M620.5 1007.8h0M627.9 1006.9h0M635.9 1007.5h0M650.6 1007.6h0M663.1 1007.9h0M676.9 1008.3h0M515.3 1010.9h0M544.8 1008.9h0M545.4 1009.1h0M571.6 1009.1h0M578.3 1010.9h0M581.6 1010.4h0M614.3 1009.9h0M644.2 1010.2h0M652.1 1010.5h0M656.7 1010.7h0M664.5 1010.4h0M507.6 1012.3h0M514.6 1011.7h0M523 1012.5h0M528.4 1011.3h0M545.3 1011.3h0M568.1 1012.5h0M601.9 1012.1h0M603.2 1012.2h0M612.4 1012.9h0M620 1013.3h0M625.8 1011.9h0M632.6 1013.2h0M646 1012.9h0M653.9 1011.5h0M657.9 1011.3h0M660.3 1011.4h0M669.1 1012.3h0M513.5 1015.7h0M522 1015h0M546.9 1015h0M552.6 1014.9h0M555.4 1015h0M566.6 1014.3h0M576.3 1015.1h0M615.1 1014.9h0M628.2 1013.9h0M630.4 1014.7h0M642.3 1013.7h0M671.9 1015h0M672.6 1015.5h0M675.9 1014.4h0M680.5 1014.2h0M687.7 1015.4h0M505.1 1016.8h0M507.8 1017.7h0M527 1017h0M530.2 1016.9h0M541.1 1017h0M557.3 1017h0M569 1017.4h0M596.2 1017.7h0M610.9 1017.7h0M640.1 1016.7h0M661.6 1017.7h0M667.6 1016.1h0M672.9 1017.1h0M673.5 1016.9h0M678.4 1017.4h0M691.4 1017.9h0M506 1020.1h0M509 1020h0M514.2 1018.3h0M524.8 1020h0M527.9 1019.8h0M534.4 1020h0M536.4 1020.2h0M569.9 1018.6h0M571.8 1018.7h0M573.6 1019.6h0M588.4 1019.7h0M592 1018.5h0M594.2 1019.6h0M609.8 1018.6h0M629 1019.5h0M630.7 1020.2h0M645.9 1020.1h0M677.2 1019h0M504.2 1022.6h0M523.1 1021.9h0M530.4 1022.7h0M534.1 1021.1h0M542.6 1021.8h0M553.9 1021.1h0M562.3 1021.2h0M577.5 1021h0M581.2 1022h0M582.3 1022.5h0M594.4 1021.4h0M609.1 1020.9h0M625.8 1021h0M626.9 1021h0M634.2 1022.5h0M642 1021.3h0M643.6 1022h0M682.2 1022.4h0M683.1 1020.7h0M687.6 1021.1h0M509.6 1023.5h0M542.6 1024h0M543.5 1023.4h0M550.2 1023.9h0M554.9 1024.4h0M560.2 1023.3h0M563.7 1025h0M569.1 1024.9h0M574.3 1023.3h0M577.2 1023.6h0M578.5 1023.1h0M583.2 1024.9h0M600.4 1023.4h0M604.2 1024.6h0M616.2 1023.8h0M622.4 1024.4h0M626.6 1023.7h0M635.9 1023.2h0M638.1 1023.4h0M692.2 1023.9h0M507.8 1027.4h0M523.7 1027.1h0M530.5 1025.8h0M536.1 1027.2h0M557.7 1025.9h0M560.3 1027h0M564.5 1027.2h0M565.7 1027.4h0M585.9 1026.2h0M586.4 1025.5h0M591.6 1026.2h0M610.8 1027h0M622.4 1025.4h0M629.5 1026.4h0M641.1 1025.9h0M680.9 1026.9h0M687.1 1027h0M690 1026.7h0M515.3 1029.2h0M539.2 1028h0M544.7 1029.5h0M552 1027.8h0M556.1 1028h0M561.2 1027.7h0M562.1 1028.4h0M568.1 1027.9h0M574.4 1028.4h0M584.7 1029.7h0M616 1029.5h0M621.9 1027.8h0M634.3 1028.6h0M638.4 1028.7h0M677.8 1029.5h0M687.5 1028.3h0M524.9 1030.8h0M529.3 1031.7h0M535.2 1031.7h0M541.4 1032h0M547.7 1032h0M586.5 1030.3h0M592 1031.5h0M593.8 1031.4h0M598.5 1030.4h0M610.8 1032.1h0M617.2 1031.6h0M625.4 1030.2h0M634.5 1031.6h0M637.7 1031.7h0M646.8 1031.7h0M671.5 1031.2h0M680.7 1031.9h0M506.1 1032.8h0M509.5 1033.7h0M523.7 1034.4h0M528.1 1033.3h0M530.9 1034.4h0M536.7 1032.6h0M550.7 1032.4h0M558.7 1032.7h0M564.4 1033.8h0M567.7 1033.4h0M570.2 1032.7h0M575.2 1032.6h0M582.4 1032.9h0M586.7 1034.4h0M602.4 1033.9h0M608.3 1032.9h0M608.9 1032.8h0M611.1 1033.7h0M525.9 1036.6h0M533.9 1036h0M534.7 1034.7h0M544.3 1035.9h0M550.2 1035h0M551.3 1035.8h0M556.6 1036.6h0M580.6 1035.9h0M585.1 1035.2h0M594.3 1035.2h0M596.5 1035.7h0M603.1 1035.6h0M606.5 1036.8h0M608.5 1036.2h0M611.2 1035.7h0M617.8 1036.2h0M629.9 1035.9h0M632.3 1035h0M634.4 1034.7h0M637 1035.9h0M643.4 1036.3h0M666.5 1036.2h0M676.2 1035.9h0M680 1036.1h0M508.5 1037.9h0M510.2 1038.9h0M514.5 1038.4h0M517.2 1037.2h0M537.8 1037.6h0M541.1 1038.9h0M545.9 1037.2h0M555 1038.8h0M558 1039h0M561.1 1038.7h0M590 1037.1h0M594.1 1037.4h0M595.5 1038.4h0M597.9 1038.7h0M602.6 1038.7h0M614.2 1037.6h0M625.8 1037.2h0M650.6 1038h0M654.9 1037.2h0M664.3 1037.2h0M666.7 1038.2h0M668.1 1038.2h0M675.7 1038.8h0M678.6 1038h0M681.9 1037.7h0M686.3 1037.4h0M508.8 1039.9h0M514.4 1040.1h0M517.3 1041.5h0M520.8 1039.7h0M523 1040.2h0M526.6 1039.5h0M531.5 1039.6h0M538.2 1041.2h0M541.1 1040.8h0M557.9 1040.6h0M562 1040.6h0M563.6 1040h0M565.4 1040.5h0M568.6 1039.6h0M569.9 1040.8h0M580.8 1040.6h0M582.4 1039.6h0M596.7 1041.4h0M602.5 1040.7h0M614.3 1040.6h0M615.7 1040.5h0M624.9 1041.1h0M647.8 1040.8h0M650.8 1040.3h0M658 1039.5h0M668.2 1040.2h0M678.2 1040.3h0M508.1 1043.1h0M539.5 1042.8h0M547.2 1043.2h0M555.6 1042h0M559 1041.9h0M566.2 1043.2h0M569.4 1042.6h0M573.9 1043.5h0M577.4 1043.1h0M613.1 1042.5h0M627.9 1043.1h0M631.1 1042.1h0M637.3 1042.9h0M650.1 1043.7h0M659.8 1043.5h0M687.2 1042.7h0M691.1 1043.6h0M508.4 1046.1h0M514.8 1044.8h0M516.4 1045.6h0M538.9 1044.7h0M540.7 1044.4h0M542.8 1046.1h0M558.6 1045.1h0M561.1 1045.2h0M566.4 1044.6h0M575.7 1046h0M579.7 1045.5h0M581.9 1046h0M596.7 1044.6h0M616.1 1044.8h0M623.3 1045h0M626.5 1044.8h0M651.4 1045h0M687.6 1045.9h0M506.4 1047.5h0M517.2 1047.5h0M525 1048h0M529.7 1046.7h0M535.5 1046.5h0M549.4 1048.6h0M563.4 1046.7h0M572.4 1048.6h0M586.1 1048.5h0M595.4 1047.1h0M603.3 1047.7h0M605.8 1047.4h0M628.8 1047.6h0M630 1047h0M660.7 1047.6h0M676.2 1047.7h0M686.9 1046.6h0M692.3 1048.3h0M513.8 1050.8h0M527.9 1049.7h0M544.6 1050.4h0M561.5 1050.7h0M572.6 1050.7h0M575.7 1049.6h0M577.2 1049.4h0M582.2 1050.9h0M617.6 1050.7h0M620.5 1050.8h0M630 1049.4h0M636.5 1050.7h0M647 1049.5h0M662.3 1050.6h0M666.6 1050.2h0M685.7 1049.1h0M691.6 1048.9h0M510.4 1051.3h0M515.4 1051.7h0M520.7 1052.7h0M535.4 1051.6h0M544.8 1052.6h0M572.6 1052.8h0M574.6 1051.5h0M582.2 1051.9h0M585.8 1051.5h0M595.9 1052.4h0M600.8 1052.5h0M603.2 1052.6h0M614.2 1051.8h0M622 1051.7h0M637.2 1051.9h0M639.7 1053.2h0M642.5 1052.4h0M645.3 1052.2h0M656.4 1053.2h0M673.8 1052.6h0M679.5 1053.3h0M684.6 1053.2h0M689.2 1051.3h0M511.4 1053.7h0M518.9 1055.6h0M530.7 1053.9h0M533.8 1055.2h0M542.4 1054.6h0M562 1054.4h0M584.7 1055h0M586.5 1055.2h0M590.8 1055h0M593 1054.1h0M595.5 1054.4h0M599.7 1055.6h0M601.7 1054.5h0M607.1 1054.6h0M616 1054.4h0M637.6 1054.9h0M658.4 1055.2h0M677.2 1054.3h0M682 1054.5h0M690.3 1054.3h0M510.4 1057.7h0M512.8 1057.6h0M519 1057.7h0M530.8 1056.2h0M531.6 1057.9h0M536.4 1057.4h0M542.3 1057.1h0M570.9 1056.3h0M572.6 1057.2h0M595.3 1056.6h0M610 1056.8h0M619.2 1056.6h0M621 1056.2h0M627.2 1058h0M635.7 1057.4h0M637.7 1057.5h0M642.1 1056.6h0M663.3 1056h0M665.3 1057.1h0M669.6 1057.7h0M674.2 1056.9h0M510.3 1060.2h0M512 1059h0M526.8 1060.2h0M535.6 1058.8h0M537.2 1059.7h0M550 1059.5h0M554 1058.7h0M557.1 1059.3h0M564 1059.4h0M567.7 1059.4h0M574.9 1059.5h0M587.9 1060h0M592.6 1059.2h0M597.4 1060h0M601.9 1058.4h0M605.7 1060.1h0M613.6 1059.3h0M621.8 1058.8h0M625.8 1060.2h0M629.1 1058.6h0M640.9 1058.3h0M652.5 1059.3h0M655.8 1058.7h0M658.6 1059.8h0M669.9 1058.6h0M672.1 1060h0M676.7 1059.1h0M508.1 1062.6h0M537.2 1062.3h0M544.5 1061.1h0M551.3 1061.3h0M552.7 1060.6h0M570.4 1061.8h0M583.1 1062.7h0M605.1 1061.5h0M612.9 1062.3h0M620.9 1061.8h0M633.6 1060.8h0M634.6 1061.6h0M637.8 1060.9h0M639.5 1061.5h0M643.5 1062.6h0M648.1 1061.5h0M656.4 1061.9h0M662.2 1062.4h0M671.7 1062.3h0M682.8 1061.4h0M684.7 1060.9h0M691.6 1062.6h0M535.2 1064.6h0M540.9 1064.2h0M541.9 1063.9h0M554 1064.4h0M559.1 1063.2h0M585 1064.1h0M586.5 1064.7h0M612.6 1063.3h0M628 1064.4h0M644.4 1064.1h0M649.4 1064.8h0M653.7 1063.1h0M656.6 1064.3h0M683.2 1064.3h0M687.9 1064.8h0M691 1064.2h0M510.6 1066.5h0M514.8 1065.9h0M524.9 1066.6h0M529.9 1065.7h0M533.2 1066.3h0M534.6 1066h0M550.5 1067.3h0M553.1 1065.8h0M563.5 1066.7h0M573.7 1066.5h0M586.7 1066.4h0M594.2 1065.4h0M597.7 1067.2h0M605.8 1065.4h0M610.7 1066.4h0M611.2 1065.8h0M625.2 1065.4h0M631.7 1065.9h0M633.1 1066.2h0M643.4 1067.4h0M645.6 1065.6h0M666.8 1067.3h0M672.8 1067.1h0M677.9 1065.7h0M512.9 1067.9h0M533.5 1068.2h0M534.7 1069.5h0M551.2 1068h0M562.1 1068.2h0M564.3 1069.4h0M570.2 1068.4h0M573.5 1067.7h0M582.9 1068.9h0M594.6 1069.6h0M616.2 1068.3h0M622.1 1069.7h0M629.3 1069h0M632.8 1069.2h0M640.1 1067.7h0M656.3 1068.9h0M660.1 1069.5h0M663.1 1069.2h0M676.4 1068.6h0M678.8 1068.7h0M688.8 1067.9h0M526.1 1071.3h0M531.4 1070.1h0M550.3 1071h0M557.9 1071.7h0M570 1070.2h0M574.7 1071.1h0M580.2 1070.9h0M588.2 1070.8h0M602.3 1071.8h0M606.8 1070.9h0M609.2 1071.4h0M612.7 1072.1h0M613.8 1070.3h0M628.2 1070.4h0M637.9 1070.5h0M640.3 1070.8h0M656.2 1071.9h0M661.7 1071.7h0M663.5 1071.5h0M668.8 1071.8h0M689.3 1071.6h0M504.6 1073.3h0M508 1073.9h0M512.4 1072.5h0M513.6 1072.7h0M515.9 1073.4h0M523.3 1073h0M525.6 1074.2h0M528.5 1072.3h0M542.4 1073.5h0M544.6 1073.7h0M546.9 1074.1h0M548.9 1074h0M553.5 1074h0M565 1073.6h0M566 1072.9h0M587.6 1073.1h0M602.2 1072.9h0M603 1072.4h0M615 1073.6h0M620.6 1073.4h0M623.5 1074.3h0M631.9 1072.6h0M633.8 1073.2h0M650.7 1074.2h0M653 1072.6h0M656.1 1073.6h0M657.5 1073.7h0M677.3 1073.1h0M679.6 1073.5h0M683.4 1073.4h0M508.1 1075.6h0M514.4 1076.7h0M515.6 1075h0M517.3 1076.5h0M519.9 1076.4h0M532.4 1074.7h0M535.5 1075.7h0M566.6 1076.1h0M569.5 1074.8h0M584.1 1075.2h0M608.3 1074.8h0M616.4 1075.1h0M620.6 1075.7h0M631.2 1076h0M642.2 1076.2h0M650.1 1076.4h0M654.3 1074.7h0M658.8 1076h0M662.2 1076.6h0M667.6 1075.7h0M509 1078.2h0M513.1 1077.7h0M514.4 1077.9h0M521.9 1077.2h0M526.5 1078.5h0M538 1078.3h0M544.8 1077.8h0M550.3 1077.7h0M556.9 1077.2h0M562.1 1079.1h0M574.9 1078.2h0M580.9 1077.5h0M585.2 1078.2h0M595.1 1078.9h0M595.8 1077.9h0M604.2 1078.5h0M621.7 1079.2h0M635.2 1079.1h0M662.3 1078.4h0M665 1078h0M675 1077.5h0M681.3 1078.8h0M519.7 1081h0M536.5 1081.1h0M546.6 1080.3h0M550.7 1080.6h0M563.6 1079.4h0M564.3 1081.5h0M574.6 1081.4h0M579.5 1080.3h0M584.8 1081h0M587.7 1080.1h0M596.7 1080.4h0M597.4 1081.3h0M603.1 1080.3h0M608.1 1080.2h0M611.3 1080.7h0M619.9 1080.2h0M625.6 1079.6h0M632.5 1081h0M651.9 1080.7h0M657.6 1079.6h0M679.6 1081.4h0M689.9 1080.9h0M505.5 1083.5h0M527.4 1082.2h0M541.9 1083.6h0M548.3 1082.1h0M554.7 1083.1h0M557.5 1082.3h0M559.9 1083.4h0M581.4 1082h0M594 1082.7h0M599.3 1082.2h0M602.1 1082h0M603.2 1083.4h0M606.5 1083.6h0M607.9 1083.4h0M619.7 1082.2h0M641.9 1082.1h0M646.2 1082.1h0M655.2 1083.6h0M664.4 1082.8h0M666.3 1082.9h0M672.6 1083.5h0M682 1082.5h0M686.7 1082.8h0M517.6 1085.1h0M520 1085.7h0M524.2 1085.5h0M527.8 1085.2h0M532.6 1084.9h0M534.7 1085.8h0M536.1 1085.3h0M550.3 1085.9h0M562.6 1085.2h0M567.7 1086.1h0M588.1 1085.3h0M592 1085.6h0M597.8 1084.7h0M608.8 1084.9h0M626.7 1085h0M630.7 1084.6h0M642.9 1085.4h0M653.4 1084.4h0M655.9 1085.1h0M664.7 1085.1h0M674.7 1084.4h0M678 1086.1h0M684.4 1085.9h0M690.4 1084.3h0M692.1 1084.5h0M504.3 1086.7h0M508 1086.8h0M512.5 1086.7h0M527.2 1087.4h0M540.3 1087.4h0M542.6 1087h0M544.8 1088h0M568.6 1087h0M582.2 1087.5h0M587.6 1087.5h0M594.4 1087.7h0M599.2 1088.2h0M623.4 1087.8h0M647.1 1088.1h0M665.1 1086.6h0M667.7 1088.5h0M669.5 1086.8h0M679.1 1086.8h0M508.2 1090.5h0M511.4 1089.3h0M513 1090.2h0M537.9 1089.8h0M539.3 1090h0M546.3 1089.8h0M548.8 1089.5h0M558.7 1089.2h0M561.8 1090.3h0M564.3 1089.3h0M570.2 1090.5h0M576.5 1089.2h0M581.8 1090.5h0M584.6 1090h0M600.6 1090.6h0M615.3 1089.1h0M619.5 1088.9h0M633.2 1088.9h0M637.8 1089.8h0M662.4 1089.7h0M664.7 1089.9h0M668.3 1089.4h0M673.4 1090.4h0M508.2 1092h0M514 1092.2h0M532.8 1092h0M548 1091.2h0M563.3 1093.2h0M565.9 1092.2h0M574.1 1091.5h0M578.6 1091.9h0M585.8 1093.1h0M599.8 1092.3h0M613.3 1092.3h0M618.5 1091.7h0M637 1092.3h0M644.4 1091.2h0M649.9 1092.8h0M655.8 1092.6h0M672.7 1091.3h0M679.5 1091.5h0M682.8 1092.4h0M688.6 1092.9h0M507 1095h0M523.1 1093.8h0M547.2 1093.7h0M551 1093.9h0M564.1 1094.1h0M579.7 1094.5h0M592.5 1094.5h0M600.6 1094.6h0M632.8 1094.7h0M637.1 1094.4h0M662.3 1095h0M674.5 1094.1h0M677.3 1095.2h0M554.5 1097.8h0M564.1 1095.8h0M577.8 1097.8h0M582.6 1097.8h0M596.1 1097.6h0M603.4 1097.6h0M608.8 1095.9h0M614.9 1096.8h0M625.3 1096.7h0M632.8 1095.9h0M634.9 1096h0M636.3 1096.1h0M639.8 1096.2h0M641.7 1097h0M657 1097.8h0M662.1 1095.9h0M669.4 1096.2h0M671 1096.1h0M681.2 1097.7h0M691.1 1097.9h0M529.2 1099.1h0M560 1098.2h0M563.8 1099.8h0M580 1098.7h0M580.5 1099.2h0M593.7 1100h0M600.8 1098.9h0M607.9 1098.3h0M609.9 1099.1h0M616.6 1099.5h0M618.6 1100h0M642.8 1099.5h0M645.3 1099.7h0M671.5 1099.4h0M673.5 1098.4h0M691.6 1098.4h0M567.3 1100.9h0M575.6 1101.1h0M577 1101.4h0M590 1102.1h0M599.9 1101.6h0M601.7 1101.2h0M647.1 1102.6h0M650.4 1101h0M655.9 1100.8h0M662.1 1101h0M669.9 1101.3h0M672.4 1101.6h0M673.5 1102.5h0M564.6 1104.3h0M577.9 1104.2h0M578.6 1103.7h0M582.3 1104.5h0M601 1104.8h0M606.5 1103.7h0M638.4 1104.2h0M639.6 1103.8h0M647.3 1103.4h0M649.2 1104.6h0M653.5 1103.3h0M659.1 1103.9h0M672.9 1103.6h0M692 1102.9h0M561.1 1106.6h0M568.2 1105.8h0M578.4 1106.8h0M580.9 1105.8h0M583.7 1106.8h0M586.1 1106.7h0M591.2 1105.3h0M611.2 1105.3h0M653.8 1106.6h0M666.9 1105.3h0M670.5 1106.1h0M510.4 1109.4h0M565.8 1108.8h0M568 1108h0M575.1 1108.6h0M581.9 1108.2h0M589.1 1109.4h0M594.2 1107.6h0M666.4 1108.4h0M676.3 1109.2h0M677.8 1108.6h0M559.9 1111.7h0M562.5 1110.5h0M570.5 1111.8h0M581.1 1111h0M590.3 1111.5h0M592.3 1111.3h0M595 1109.9h0M608.4 1112h0M646.6 1110.9h0M659.3 1110h0M663.6 1111.1h0M665.2 1110.3h0M667.8 1112h0M670.7 1111.5h0M671.9 1110.4h0M673.7 1110.3h0M550.8 1112.7h0M554.4 1114.1h0M557.3 1113.5h0M563.8 1113.7h0M564.6 1113h0M567.9 1113.6h0M576.1 1113.9h0M586.3 1112.5h0M644.8 1113.1h0M652.9 1113.8h0M661.4 1112.8h0M663.1 1114.3h0M673 1114h0M675.2 1113.5h0M551.6 1115.4h0M574 1115.3h0M575.2 1115.5h0M585.5 1115.5h0M588.2 1115.1h0M591.7 1116.6h0M647.8 1115.8h0M650.5 1115.9h0M658.2 1115.5h0M507 1118h0M544.3 1118h0M548.9 1118h0M558.7 1119h0M567.9 1118.1h0M569.9 1117.8h0M580.8 1118.6h0M586.2 1117.9h0M595.1 1118.6h0M602.1 1117.9h0M621.2 1117.9h0M637.4 1119.1h0M644.6 1117.5h0M649.9 1118.6h0M662 1118.5h0M667.7 1117.7h0M671 1117.4h0M675.1 1118.8h0M692.1 1117.9h0M506.1 1120.7h0M507.6 1119.8h0M509.1 1119.5h0M511.4 1119.9h0M514.8 1120.8h0M523.5 1121.2h0M530.2 1121.4h0M563.6 1120.1h0M567.1 1119.7h0M569.5 1120.8h0M573.1 1120.3h0M588 1119.7h0M592.9 1121.1h0M598.8 1119.5h0M600.9 1119.7h0M610.4 1120.6h0M615.4 1121.3h0M641.4 1120.2h0M646.7 1119.5h0M653.5 1119.8h0M669.2 1119.8h0M673.4 1120.4h0M676.9 1120h0M506.5 1122h0M512.9 1123.1h0M530.1 1123.6h0M548.8 1122.2h0M550.1 1123.5h0M552.8 1123.7h0M562.8 1121.9h0M573.1 1122.9h0M579.4 1123.7h0M587.1 1123.1h0M593.9 1122.4h0M595.6 1121.9h0M604.3 1122h0M620.2 1123.6h0M629.2 1123h0M630.3 1122.4h0M647.7 1123.2h0M663.5 1122h0M666.9 1123.6h0M674.3 1122.1h0M677.3 1123.4h0M504.3 1126h0M517.2 1125.4h0M521.5 1124.1h0M526.7 1125h0M528.2 1125.6h0M542.5 1125h0M550.6 1125h0M553.5 1125.2h0M567 1124.9h0M568 1125.9h0M571.2 1124.5h0M580.5 1125h0M582.2 1125.6h0M588.2 1125.6h0M591.9 1125.7h0M593.8 1126h0M599 1124.9h0M617.9 1125.5h0M620.7 1124.7h0M633.5 1125.8h0M642.5 1124.6h0M651 1125.5h0M653.5 1126.1h0M656.5 1125.6h0M659.4 1124.9h0M662.7 1125.8h0M672.3 1124.4h0M675.4 1124.5h0M677.8 1125.4h0M689.1 1124.5h0M691.4 1124.7h0M508.9 1128.2h0M518.8 1126.7h0M521.5 1126.6h0M534.6 1127.4h0M552.7 1127.8h0M559.8 1127.4h0M568 1127.6h0M577.4 1128.2h0M588 1126.8h0M590.1 1128.5h0M595.5 1126.9h0M601.1 1127.2h0M607.4 1128.4h0M609 1127.3h0M613.5 1128.2h0M619.7 1127.2h0M621.4 1127.7h0M633 1127.5h0M639.5 1126.9h0M646.4 1128.2h0M651.4 1127.5h0M656 1127.7h0M681.7 1126.6h0" stroke="#1111b8" stroke-width="2.6"/>
<path d="M516.1 978.5h0M519.6 979.3h0M531.5 980.2h0M540.3 978.6h0M543.1 978.5h0M549.4 978.4h0M554.6 980.3h0M559 979h0M573.5 980.2h0M577.7 978.8h0M585.4 979.6h0M586.5 978.6h0M633.9 980.1h0M636.8 980.2h0M643.6 979.9h0M645.3 979.4h0M650.4 978.8h0M663.3 978.4h0M667.8 979.7h0M676.1 979.5h0M507.7 981h0M526.8 982.7h0M529 981.2h0M537.3 981.2h0M543.9 982.2h0M550 981.4h0M574.8 981.9h0M579.1 981.4h0M582.6 981h0M586.7 981.5h0M591.3 981.7h0M595.9 982.2h0M610.4 982.7h0M615.2 982.6h0M618.9 982.1h0M621.3 982.8h0M632.3 981.2h0M642.5 981.7h0M652.7 980.9h0M656.6 981.9h0M662.4 980.8h0M675.2 982.1h0M684.1 981.3h0M506.7 983.5h0M509.4 985h0M512.5 983.3h0M515 983.4h0M518.9 984.7h0M523.6 983.6h0M527.7 983.6h0M536.6 983.3h0M551.3 983.6h0M557.3 983.7h0M566.4 984.9h0M570.9 984h0M572.9 983.6h0M577.1 984.8h0M581.2 985h0M589.5 983.2h0M602.2 985h0M613 983.3h0M623.7 983.8h0M641.7 983.5h0M646.8 984.1h0M680.9 984.9h0M691.6 984.8h0M506.3 986.9h0M508.3 986h0M527.9 987.1h0M529.6 985.7h0M550.4 986.7h0M570.1 985.7h0M577.6 985.5h0M579 987.5h0M584.6 986.7h0M593.4 985.4h0M596.7 986h0M602.7 985.9h0M604.9 987.2h0M611.3 986.6h0M616.3 987h0M619.2 987.1h0M623.5 985.9h0M629.2 987.4h0M631.2 987.4h0M633.1 986h0M636.3 985.8h0M644.2 986.9h0M684.5 987.3h0M505.2 988.5h0M507 989.8h0M510.4 988h0M513.9 989h0M544.7 988.2h0M605.8 989.8h0M620.9 989.4h0M625.3 988.5h0M630 988.8h0M632.3 988.8h0M638.4 987.9h0M640.9 987.8h0M508.2 990.4h0M528 991.2h0M543.6 990.4h0M590.6 991.2h0M597.5 991.1h0M604.4 991.7h0M606.6 991.8h0M612.5 990.3h0M631 991.8h0M676.1 990.8h0M692.4 992.1h0M542 993.7h0M576.6 992.7h0M590.8 993.3h0M592 992.8h0M594.1 993.1h0M596.1 993.6h0M606.3 993.5h0M617.7 993.2h0M638.6 994h0M645.3 992.7h0M652.6 993.3h0M505.6 995.6h0M528.4 995.7h0M592.3 996.1h0M612 996.8h0M628.7 996.9h0M637.8 994.8h0M641.1 996.7h0M648.2 996.9h0M650.3 995h0M654 994.9h0M505.1 998.6h0M535.2 999.2h0M583.4 997.6h0M591.6 999h0M602.1 999h0M604.7 997.3h0M615.2 997.9h0M620.8 999h0M649.3 999.2h0M650.5 998.5h0M673.9 998.4h0M675.9 997.5h0M506.7 1001.6h0M531.3 999.8h0M541 1000.6h0M603.6 1001h0M607.7 1001.6h0M612.9 999.9h0M625.5 1001.4h0M627.9 1000.6h0M636.3 1001h0M645.4 1001.3h0M649.1 1000.8h0M652.7 1001.4h0M670 1001.2h0M506 1002.6h0M512 1003.8h0M533.5 1002.3h0M535.3 1002.4h0M540.9 1002.2h0M582.4 1003.4h0M602.6 1002.8h0M606.3 1003.5h0M626.8 1003.8h0M631.8 1003.2h0M644.2 1003.7h0M645.9 1002.1h0M658.9 1003.5h0M662.8 1003.3h0M665 1002.7h0M668.6 1002.5h0M676.7 1002.1h0M512.5 1006h0M522.5 1004.4h0M533.8 1005.1h0M539.9 1005.9h0M540.7 1006h0M602.6 1005.6h0M607.5 1005.5h0M613.7 1005.5h0M639.7 1004.5h0M645.7 1004.4h0M658.5 1006.1h0M667.5 1004.5h0M670.6 1004.4h0M510.2 1007h0M511.7 1008.2h0M519.7 1007.5h0M523.2 1008.3h0M528.4 1008.5h0M531.8 1007.3h0M537.8 1007.8h0M570.3 1008.1h0M578.6 1008.2h0M605.5 1007h0M622.4 1007.7h0M664.3 1006.6h0M666.4 1007.7h0M672.7 1008h0M507.3 1010h0M507.7 1010.3h0M527 1009h0M540.9 1010.5h0M605.1 1009.6h0M607.8 1009.7h0M613.2 1010h0M637.2 1009.4h0M643.2 1009.7h0M658.1 1009.8h0M661.9 1010.4h0M669 1010.2h0M675.6 1010.6h0M505.9 1011.8h0M522.3 1011.4h0M533.6 1012.1h0M539.5 1013.1h0M552.9 1013.1h0M576.3 1013.3h0M578 1012.5h0M581.3 1011.7h0M581.9 1011.8h0M609.1 1013.1h0M611.5 1012.8h0M628 1011.9h0M630.2 1012.5h0M634.1 1012h0M638.3 1012.4h0M663.7 1011.9h0M683.7 1012.8h0M685.2 1011.4h0M688 1013.2h0M525.8 1013.9h0M528.2 1015.4h0M532.1 1015.4h0M535.1 1014h0M536.9 1014h0M539.3 1014h0M548.1 1015.6h0M561 1014.2h0M572.5 1014.9h0M574.6 1014.2h0M580.1 1015.5h0M582.5 1015.5h0M600.3 1014.3h0M602.1 1014.4h0M605.9 1014.5h0M608.4 1014.3h0M612.2 1015.5h0M616.4 1014.6h0M660 1014.2h0M664.1 1013.8h0M666.5 1014.1h0M677.9 1013.6h0M685.1 1015.2h0M513.6 1017.4h0M521.3 1017.2h0M533.8 1016.6h0M535.8 1016.7h0M550.5 1017h0M551.9 1016.6h0M558.6 1016.6h0M562 1016.2h0M563.3 1015.9h0M574.4 1016.2h0M578.4 1016.3h0M589.9 1016.1h0M598.7 1017.9h0M603.6 1016h0M615.8 1017.7h0M618 1017.6h0M623.7 1016.9h0M644.4 1017.5h0M645.6 1017.8h0M658.4 1016.6h0M661.3 1017.2h0M677.5 1017.7h0M683.9 1017.7h0M685.6 1016.5h0M511.9 1020.3h0M518.3 1020.1h0M529.6 1018.8h0M532.5 1019.1h0M545.6 1019.5h0M552.6 1018.8h0M560.3 1019.5h0M579.7 1019.1h0M607.6 1019.6h0M615.9 1020.2h0M618.1 1018.4h0M632.9 1019.7h0M640.7 1020h0M642.5 1019.1h0M663.7 1020.4h0M506.6 1022.1h0M529.4 1020.8h0M535.4 1021.4h0M538.7 1020.9h0M546.5 1022.4h0M550 1022h0M558.8 1021.2h0M563.9 1021.2h0M568.2 1022.5h0M585.4 1020.9h0M590.4 1021.9h0M591.7 1021.9h0M598.9 1022h0M602.9 1020.7h0M607 1021.6h0M609.9 1021.7h0M617.2 1022.6h0M691 1022.2h0M511.1 1023.7h0M515.6 1024.9h0M517.1 1024.7h0M520.8 1024.1h0M524.3 1024.4h0M527.5 1023.7h0M530.4 1024.2h0M531.4 1024.7h0M546.3 1023.3h0M568.2 1025h0M571.2 1023.9h0M588.7 1023.8h0M596.4 1025.1h0M607.8 1024.7h0M620 1023.4h0M631.3 1023.8h0M686.7 1025h0M504.5 1026.8h0M513.2 1025.6h0M514 1027.3h0M516.1 1026.3h0M520.1 1026.7h0M526.9 1026.5h0M542 1027.2h0M550.1 1026h0M553 1026h0M581 1026.7h0M582.3 1025.4h0M602.2 1026.9h0M604.8 1026.1h0M605.9 1026.1h0M614.3 1025.4h0M637.7 1027h0M639.7 1026.9h0M521.9 1028.3h0M552.7 1029.6h0M564.9 1029.8h0M568.9 1028.3h0M572.2 1028.1h0M581.1 1029.6h0M585.5 1028.3h0M591.1 1028.9h0M597.8 1029h0M604.2 1029.8h0M606.8 1029.3h0M634.6 1029.7h0M685.5 1027.9h0M504.7 1031.9h0M514.5 1031h0M518.3 1030.8h0M520.6 1031.1h0M533.1 1030.5h0M538.2 1032.1h0M549 1031.7h0M556.7 1030.6h0M569 1030.8h0M582.6 1031.1h0M614.3 1030.2h0M626.8 1031h0M632.5 1031.6h0M639.3 1031.8h0M676.6 1031.7h0M684.7 1031.5h0M688 1032h0M514.3 1034.5h0M525.7 1032.9h0M532.6 1034.3h0M548.5 1033h0M555.6 1033.7h0M560.5 1033.7h0M571.9 1032.9h0M577.4 1033.6h0M589.4 1034.2h0M593.5 1033.9h0M601.2 1034h0M604 1032.5h0M624.7 1032.6h0M631.8 1033h0M646.6 1034.5h0M655.4 1034.5h0M656.3 1033.9h0M673.5 1033.2h0M677.5 1034h0M683.1 1032.9h0M685.5 1033.1h0M693 1033.6h0M513.2 1036.6h0M519.4 1036.1h0M522.2 1035.6h0M527.8 1035.3h0M541.2 1035.4h0M542.8 1035.8h0M546.8 1035.5h0M560.8 1036.2h0M577.5 1035.2h0M591.8 1036.7h0M598.8 1036.2h0M601.8 1036.4h0M620.3 1035.1h0M625.3 1035.6h0M640.1 1035.5h0M646 1036.4h0M655.4 1036.2h0M673.1 1036.5h0M675.2 1035.4h0M680.4 1034.9h0M684.2 1035.5h0M686.9 1035.7h0M690.7 1035.7h0M515.1 1038.4h0M520.4 1038.5h0M527.4 1037.9h0M534.9 1037.8h0M544.7 1037.5h0M549.1 1038.8h0M550.6 1038.9h0M563.3 1038.7h0M565.5 1038.8h0M567.9 1037.3h0M579 1039.1h0M583.6 1037.3h0M600.8 1038h0M611.2 1038.8h0M618.9 1038.9h0M621.3 1039h0M628.9 1037.7h0M634.9 1038.6h0M640.9 1038.6h0M644.9 1038.5h0M651.2 1037.5h0M659.1 1038.2h0M504.8 1041.2h0M506.6 1040.6h0M513.2 1039.7h0M519.6 1040.4h0M536.5 1039.7h0M544.4 1039.5h0M550 1040.3h0M559.2 1041.4h0M578.6 1040.1h0M590 1039.7h0M593.7 1041h0M617.5 1039.7h0M631.8 1040.4h0M638.9 1041.5h0M669.2 1040.3h0M677.6 1041h0M680.4 1040.3h0M685.7 1039.9h0M688.9 1039.8h0M691.1 1041.3h0M507.4 1041.9h0M511 1042.2h0M514.4 1042.6h0M516.8 1042.8h0M522 1042.1h0M525.6 1043.4h0M529.5 1043.6h0M548.1 1042.6h0M551 1043.6h0M559.9 1042.7h0M562.6 1042.2h0M580.7 1043.4h0M586 1043.1h0M589.2 1043.1h0M590.6 1043.4h0M598.6 1042h0M604.2 1042.9h0M608 1042.8h0M616.4 1041.8h0M620.8 1042.9h0M623.4 1042.5h0M626.3 1042.3h0M657.2 1042h0M663.5 1043.6h0M667.7 1043h0M690.3 1042.5h0M512.7 1044.8h0M525 1045.1h0M536.4 1044.5h0M545.9 1044.5h0M553.1 1045.2h0M573.5 1045.5h0M601.9 1046.1h0M609.1 1044.8h0M628.7 1046.1h0M643.2 1044.2h0M653.1 1046.1h0M664.6 1045.5h0M672 1046.1h0M674.4 1045h0M679.3 1045.4h0M684.4 1044.2h0M691.6 1045h0M515 1047.7h0M522.5 1046.9h0M527.9 1047.3h0M540.7 1047.3h0M543.5 1047.3h0M547.1 1047.2h0M555.2 1046.8h0M559.9 1047.9h0M564.2 1046.5h0M567.7 1046.6h0M575.9 1047.8h0M608 1047h0M612.9 1048.4h0M615.9 1048h0M619.2 1046.7h0M624.1 1046.6h0M626.1 1046.6h0M642.2 1046.9h0M645.8 1046.7h0M659.7 1047.4h0M683 1047.8h0M689.1 1048.3h0M506.1 1049.8h0M526.1 1050.6h0M531.7 1050.5h0M554.5 1050.2h0M558.3 1049.3h0M565.9 1049.6h0M569.2 1049.9h0M571.3 1050.4h0M580.4 1049.8h0M584.2 1050h0M587.1 1050h0M593.5 1049.5h0M599.8 1050.9h0M602.1 1050.4h0M604 1048.9h0M606.8 1050.1h0M624.2 1050.5h0M632.5 1049.5h0M635.3 1050.3h0M639.8 1050.2h0M642.5 1050.5h0M644.7 1050.3h0M649.9 1049.7h0M653.2 1049.1h0M664.7 1050.5h0M672.6 1049.7h0M688.9 1050.6h0M523.7 1052.7h0M524.3 1052.8h0M527.9 1052h0M530.4 1053h0M542.4 1051.6h0M545.6 1052.3h0M553.6 1052.3h0M560.3 1051.9h0M563.8 1051.6h0M584.6 1053.1h0M589.7 1052.8h0M604.9 1051.9h0M609.6 1051.7h0M611.9 1051.4h0M616.1 1053.2h0M620 1051.5h0M649 1051.8h0M651.9 1052.9h0M654.6 1051.9h0M666 1052.9h0M668.6 1052.3h0M675.6 1052.4h0M676.9 1052.5h0M688.3 1052.1h0M508.1 1055.5h0M513.9 1053.6h0M520.7 1053.9h0M536.7 1054.9h0M545.8 1055.6h0M557.2 1055.7h0M564.5 1054.1h0M567.7 1053.7h0M572.8 1055.5h0M582.8 1054.6h0M596.8 1054.2h0M604.7 1055h0M618.7 1053.8h0M625.9 1053.8h0M634.3 1055.6h0M643.5 1054h0M659.5 1055.1h0M663.6 1053.9h0M672.5 1055.6h0M674.8 1055h0M679.7 1054h0M526.5 1057.9h0M539.2 1056.5h0M543.3 1057.3h0M550.6 1057.9h0M557.5 1057.9h0M560.5 1057.3h0M563.2 1057.3h0M594.1 1056h0M598.9 1058h0M601.2 1055.9h0M605.3 1057.5h0M608.1 1057.8h0M633.8 1056.1h0M641 1056.5h0M648.4 1056.3h0M649.7 1056.3h0M654.7 1056.2h0M658.7 1057.8h0M685.1 1056.5h0M518.3 1058.3h0M520.7 1058.7h0M531.7 1059.4h0M546.9 1060h0M551.7 1059.3h0M583.2 1060.3h0M584.9 1059.4h0M590.6 1060h0M609.9 1059.6h0M643 1059.3h0M650.3 1059.5h0M505.9 1062.6h0M522.7 1061.4h0M532.3 1061h0M534.4 1061.3h0M539.3 1060.9h0M555.3 1061.7h0M558 1062.3h0M561.4 1061.6h0M564.7 1061.2h0M577.6 1061.3h0M580 1061.6h0M586.5 1061.1h0M589.2 1062.3h0M613.8 1061.7h0M618.2 1061h0M629.4 1061.3h0M630.6 1061.2h0M659.3 1060.6h0M675.2 1062h0M678.1 1060.7h0M680.5 1061.5h0M687.8 1061h0M505.7 1064.7h0M512.7 1064.7h0M520 1063.3h0M521.8 1063.6h0M523.4 1063.2h0M526.1 1064.8h0M538.3 1063.8h0M563.9 1063.5h0M565.8 1063.8h0M575.7 1064.4h0M590.3 1063.7h0M592.4 1064.6h0M595.4 1064.7h0M597.1 1063.6h0M598.3 1063.7h0M604.3 1063.9h0M606.9 1064.9h0M609.4 1063.8h0M618.2 1063.9h0M622.1 1064.4h0M625.7 1063.2h0M629 1063.1h0M642 1065h0M649.9 1063.5h0M661.8 1064.5h0M668 1063.3h0M672.6 1064.6h0M675.9 1064.8h0M678.8 1064h0M509.3 1067.3h0M539.2 1065.3h0M549.3 1065.4h0M560.3 1065.6h0M565.8 1066.9h0M572.8 1066.9h0M589.3 1065.4h0M590.4 1066.2h0M595.9 1065.8h0M606.4 1065.3h0M624.9 1066.5h0M635.5 1065.5h0M637.5 1066.3h0M657.4 1067.1h0M659.7 1065.4h0M662.2 1066.7h0M668 1067.3h0M671.1 1066.1h0M676 1067.2h0M685.7 1065.6h0M505.5 1069.7h0M509.8 1067.9h0M521.9 1068.9h0M525.1 1068h0M537.3 1067.7h0M540.2 1067.8h0M546.7 1068.9h0M550.4 1067.7h0M581 1069.4h0M586 1068.2h0M586.6 1068.6h0M596.5 1069.7h0M601.5 1068.3h0M610.8 1069.7h0M612.9 1068h0M626.5 1067.9h0M636.1 1069.5h0M647.8 1069.5h0M658.5 1068.1h0M667.9 1067.7h0M669.2 1068.7h0M671.7 1067.9h0M673.7 1068.1h0M680.9 1068.7h0M684.2 1068.4h0M505.6 1070.2h0M512 1070.7h0M514.8 1070.2h0M522.6 1070.1h0M537 1071.6h0M549 1072.1h0M563.1 1071.4h0M567.1 1072.1h0M571.5 1071.7h0M577.9 1070.8h0M594.3 1070.1h0M596.6 1071h0M600.9 1071.6h0M615.9 1071.5h0M618.7 1071.9h0M629.9 1071.7h0M642.2 1070.3h0M651.5 1071.4h0M666.3 1071.2h0M681.6 1071.3h0M518.4 1073h0M531.9 1074.1h0M533.6 1072.8h0M536.8 1072.9h0M540.8 1072.7h0M551.2 1073.8h0M572 1073.6h0M572.3 1074.1h0M576.5 1073.6h0M583.7 1073.1h0M591.5 1073h0M605.5 1073h0M611.2 1073.2h0M613.1 1073.1h0M619 1073.8h0M625.5 1073.6h0M630.6 1073.6h0M636.3 1072.5h0M663.6 1072.5h0M669.3 1074.3h0M687.1 1073.3h0M522.4 1075h0M527.9 1074.8h0M536.6 1076.4h0M546.1 1075.6h0M558.9 1076.8h0M574.7 1074.7h0M580.7 1075.1h0M585.9 1075.1h0M591.1 1075.2h0M596.6 1075.2h0M605.2 1076.4h0M610 1075.3h0M613 1076.4h0M619.6 1076.3h0M639.4 1075h0M652.7 1075.5h0M664.5 1075h0M665.6 1074.9h0M671.8 1075.5h0M678.8 1076.3h0M684.3 1074.7h0M693 1074.7h0M517.1 1077.4h0M519.1 1078.6h0M532.5 1078.6h0M536.1 1079.1h0M540 1077.6h0M543.5 1077.5h0M546.9 1077.8h0M551.9 1078.4h0M554.2 1077.8h0M559.9 1077.9h0M569.6 1078.2h0M582 1077.3h0M601.6 1079.1h0M608.2 1078h0M614 1078.4h0M618.6 1077.9h0M631.1 1078.6h0M636.6 1077.2h0M639.6 1077.3h0M645.2 1077.4h0M650.8 1078.5h0M658.6 1077h0M659.7 1078h0M667.2 1078.4h0M673 1078.5h0M688.3 1077.2h0M691.3 1077.4h0M510.4 1080.5h0M513.2 1080.7h0M515.5 1080.2h0M519.1 1080.4h0M522.7 1080.7h0M532.6 1080.3h0M548 1081.4h0M576.8 1080.3h0M582 1081.5h0M586.8 1081.4h0M605 1079.6h0M617.9 1081.2h0M628.3 1081.2h0M631.1 1080.3h0M635.1 1079.5h0M639.7 1079.8h0M642.1 1080.2h0M654.4 1080.5h0M662.4 1079.4h0M674 1081.2h0M687.5 1079.6h0M512.9 1082.8h0M514 1083.2h0M519.8 1081.9h0M524.9 1083.5h0M535.2 1081.9h0M544.4 1081.8h0M550.7 1081.8h0M552.4 1082h0M587.9 1082.3h0M592.2 1082.9h0M597.1 1083.3h0M610.2 1083.1h0M622.6 1082.8h0M637.3 1083.1h0M653.1 1083.8h0M659.5 1082.5h0M675.2 1082h0M675.8 1082.5h0M678.9 1081.9h0M691.6 1082.8h0M511.5 1084.9h0M512.8 1086.1h0M516.1 1084.1h0M538.5 1086.2h0M542.3 1085.1h0M547.1 1085.7h0M548.4 1085.4h0M552.6 1084.6h0M584.7 1084.4h0M585.6 1085.5h0M603.2 1086.1h0M606.6 1086.1h0M637 1085.6h0M640.5 1085.1h0M644.2 1085.1h0M650 1085.3h0M651.9 1085.9h0M667.1 1084.6h0M682.7 1085.3h0M548.2 1086.9h0M550.8 1088.3h0M559.4 1087.9h0M578.6 1086.6h0M581.2 1086.8h0M586 1087.9h0M592.7 1087.2h0M601.4 1088.2h0M609.5 1086.6h0M618.5 1086.8h0M632.8 1087.1h0M636.7 1087.3h0M648.6 1088.4h0M656.3 1087.5h0M672.3 1086.5h0M676.2 1088.1h0M685.5 1086.7h0M541.7 1089.9h0M571.2 1090.6h0M588.3 1090.3h0M595.6 1090.9h0M606.9 1089.6h0M617.3 1089.4h0M626.9 1089.2h0M634.6 1089.9h0M644.6 1090h0M646.8 1090.5h0M652.1 1090.2h0M656.6 1089.2h0M660 1090.6h0M665.3 1089.1h0M670.2 1090.4h0M675.4 1090.8h0M682.8 1090.2h0M688.4 1089.1h0M688.9 1089.9h0M511.8 1091.2h0M541.1 1092.5h0M557.9 1093h0M570.9 1091.7h0M580.4 1091.2h0M583.5 1092.1h0M594.4 1092.3h0M601.2 1091.9h0M603.1 1093h0M609.3 1092.4h0M616 1092.1h0M625.8 1092.9h0M627.4 1093.2h0M632 1092.6h0M633.5 1093.1h0M646.3 1092.2h0M653 1091.8h0M660.5 1091.2h0M667.5 1092.9h0M670 1091.5h0M681.2 1092.1h0M686.1 1093h0M512.6 1094h0M557.1 1093.6h0M560 1093.7h0M568.3 1095.3h0M569.7 1094.5h0M574.6 1094.8h0M581.9 1094.2h0M587 1095.1h0M602.7 1095.1h0M621.4 1094.2h0M629.3 1095.6h0M643.2 1095.1h0M654.4 1094h0M656.7 1093.6h0M659.9 1095.3h0M683.3 1095.1h0M689 1094h0M691.6 1093.6h0M506.2 1096.9h0M512.1 1097.2h0M568.1 1097.3h0M573.8 1097.8h0M576.4 1097h0M579.4 1096.5h0M592.4 1096.8h0M643 1097.8h0M645.8 1096.8h0M648.7 1097.9h0M654.2 1096.8h0M673.5 1097.3h0M677.5 1097.5h0M564.1 1098.4h0M574.8 1100.2h0M577.5 1098.8h0M584.4 1099.9h0M585.8 1098.7h0M587.9 1099.4h0M591 1099.4h0M596.1 1099h0M604.7 1100.1h0M612.7 1100.2h0M613.4 1099.8h0M628 1099.9h0M641.3 1099.3h0M647.9 1100.1h0M651.8 1098.3h0M660.9 1100.1h0M682.4 1099.9h0M685.6 1098.4h0M687.9 1098.9h0M588 1101.3h0M605.7 1101.5h0M611.6 1100.6h0M643.8 1102.4h0M647.8 1101.3h0M665.1 1101.2h0M666.8 1101.5h0M680.4 1101.7h0M688 1101.9h0M559.5 1103.6h0M562.8 1103.1h0M584.5 1104.2h0M595.1 1102.9h0M598.7 1103.5h0M652.7 1103.1h0M667.2 1103.4h0M506.7 1106.8h0M559.5 1105.4h0M571.4 1105.6h0M645.5 1106.6h0M651.9 1105.5h0M658.2 1106.8h0M674.1 1106.8h0M691.5 1106.3h0M560.6 1107.8h0M571.4 1107.6h0M578.2 1109.4h0M604.9 1108.2h0M609.1 1109.2h0M642.5 1109.2h0M649 1107.7h0M655.2 1108.6h0M662.1 1109.5h0M662.9 1108.1h0M668.6 1109h0M671.4 1109h0M672.4 1107.7h0M563.4 1110.5h0M568.4 1110.7h0M583.1 1110.2h0M585.7 1110.4h0M588.3 1111.8h0M599.8 1110.1h0M603.2 1110h0M651.9 1110.8h0M653.6 1112h0M658.7 1111.4h0M570.2 1112.7h0M574.5 1113.6h0M580.3 1114.1h0M582.1 1112.4h0M584.8 1113.1h0M590.8 1113h0M594.4 1113h0M606.8 1113.7h0M649.4 1113.2h0M656.2 1113h0M677.6 1112.5h0M519.7 1115.7h0M571 1115.1h0M583 1116.7h0M590.7 1116h0M599.3 1114.7h0M605.2 1114.9h0M608.8 1116.7h0M613.3 1116.6h0M662.7 1116.2h0M666.9 1115.1h0M670.3 1116.7h0M672.5 1115.7h0M513.1 1117.3h0M520.5 1118.2h0M522.9 1118.3h0M562.5 1119h0M577.5 1117.2h0M604.8 1118.5h0M666.1 1117.7h0M677.8 1118.8h0M520.6 1121.4h0M525.9 1120.5h0M551.7 1121h0M561.9 1120.5h0M585.1 1121.4h0M589 1121.1h0M596.8 1119.5h0M607.1 1119.9h0M608.3 1120.7h0M649.4 1120.1h0M661 1120.5h0M661.7 1119.9h0M666.8 1120h0M509.2 1123.2h0M516.1 1123.6h0M522.3 1122.1h0M533.2 1123.2h0M537.9 1122.5h0M543.8 1123.1h0M561.2 1122.2h0M567.6 1122.6h0M575.4 1123.2h0M576.8 1123.4h0M589.4 1122.8h0M606.5 1122.2h0M617.4 1123.2h0M623.6 1122.1h0M634.3 1121.9h0M636.9 1123.1h0M642.4 1123h0M653.5 1123.7h0M659.2 1123.6h0M662.4 1121.8h0M674.5 1122.6h0M685.9 1122.2h0M687.5 1122.7h0M507.5 1125.7h0M512.8 1124.4h0M533.7 1125.7h0M546.4 1124.5h0M558.5 1125.2h0M564.6 1125h0M590.6 1124.9h0M604.3 1124.5h0M605.3 1125.4h0M611.9 1124.6h0M613.5 1124.5h0M615 1124.7h0M627.3 1125.4h0M630.4 1124.5h0M637.8 1126.1h0M643.9 1125.8h0M646.6 1125.7h0M649.1 1125h0M668.1 1124h0M680.5 1125.1h0M505.6 1127.5h0M511.4 1127h0M516.3 1127.6h0M524.6 1127.7h0M527.5 1127.7h0M529.4 1128.1h0M537.8 1128.5h0M539.3 1126.5h0M540.7 1127.2h0M543.7 1126.9h0M555.6 1128.2h0M583.4 1126.4h0M587 1127.8h0M611.8 1128.3h0M624 1127.8h0M638.1 1126.7h0M645.7 1127.6h0M654.3 1127.2h0M661.5 1127.1h0M668.6 1127.6h0M671.4 1127.8h0M676.3 1126.5h0M685.1 1126.4h0M688.1 1128.4h0" stroke="#1818de" stroke-width="2.3"/>
<path d="M505.6 978.5h0M521.9 979.6h0M526.7 980.3h0M544.8 978.5h0M546.8 979.4h0M551.4 978.6h0M564.8 979.8h0M614 979.6h0M639.4 979.6h0M653.7 978.6h0M511 981h0M535.1 981.5h0M558.4 982h0M567.6 981.4h0M603.5 982.4h0M605.7 981h0M606.4 982.8h0M682 981.2h0M563.2 984.3h0M597.1 983.3h0M599.4 984.3h0M621.2 984h0M656.1 983.4h0M671.2 983.6h0M677.4 984.4h0M544.5 987.5h0M589.6 987h0M590.9 985.9h0M610 985.9h0M614.2 986.5h0M654 986.2h0M527.3 988.3h0M532.7 988.7h0M556.5 987.8h0M604 988.4h0M618.6 988.2h0M651.1 989.3h0M691.6 988.5h0M531.3 991.1h0M539.8 990.6h0M549 990.8h0M584.3 991.6h0M588.5 991.3h0M592.8 991.8h0M596.6 991.4h0M617.9 990.8h0M622.4 991.6h0M626 991.1h0M639.6 990.6h0M644.3 991.6h0M504.8 993.4h0M579.6 993.9h0M583.5 993.5h0M600.7 992.8h0M608.3 993.2h0M632 993h0M668.3 993.1h0M530.3 995.2h0M609.3 994.9h0M618.9 994.8h0M620.6 995.3h0M631.2 996.6h0M506.9 998.6h0M585.4 997.7h0M628.2 997.8h0M630.2 997.3h0M632.2 998.8h0M637.6 997.8h0M536.5 1000.7h0M599.8 1000.9h0M622.5 1001.4h0M663.4 1001.2h0M586.7 1003.2h0M618.3 1002.1h0M640.2 1002.5h0M648.7 1002.5h0M515.9 1005h0M521.3 1004.6h0M576.1 1005h0M604.2 1004.4h0M628.2 1004.9h0M522.3 1006.9h0M617.9 1007.5h0M624.5 1007.7h0M641.1 1006.6h0M647.9 1007.5h0M652.3 1008.3h0M660.9 1008.2h0M513 1009h0M539.4 1009h0M549.2 1009.7h0M574.5 1009.3h0M619.3 1010.8h0M623 1010.9h0M626.4 1010.9h0M672.3 1010.5h0M692.1 1009.4h0M519.4 1011.6h0M542.7 1011.6h0M573.3 1013.1h0M637.2 1012.2h0M641.7 1011.5h0M671.3 1011.8h0M674.2 1013.2h0M677.7 1012.3h0M689.9 1013.3h0M518 1014.3h0M529.2 1015.1h0M596.6 1014h0M626.9 1014h0M641 1015.2h0M661.8 1014.1h0M691.4 1015.4h0M519.1 1016.4h0M539 1016h0M555.1 1017.4h0M567.2 1016h0M632.5 1016.3h0M633.5 1017h0M652.4 1017.2h0M521.1 1018.9h0M522.6 1019.2h0M557.4 1019.2h0M561.8 1018.8h0M565.1 1020.3h0M583.6 1018.5h0M612.4 1020.3h0M614.9 1019.6h0M621.6 1018.6h0M627.2 1018.9h0M688.7 1019.4h0M514.1 1020.8h0M516.9 1022.5h0M525.6 1021.9h0M552.4 1021.6h0M620.3 1021.6h0M621.8 1022.7h0M637.1 1020.7h0M512.5 1024.8h0M523.5 1024.1h0M536.4 1023.5h0M538.9 1024.8h0M548.6 1023.1h0M557.5 1023.9h0M614.4 1024.8h0M676.5 1024.3h0M685.4 1023.3h0M690.4 1024h0M510.6 1027.1h0M544.3 1025.5h0M560.6 1025.8h0M570.6 1027.2h0M574.8 1027.1h0M577.7 1026.6h0M607.8 1026.3h0M617.9 1025.7h0M627.9 1026.9h0M633.7 1025.6h0M643.8 1026.4h0M509.1 1029h0M512 1028.2h0M512.7 1027.8h0M521.2 1029.3h0M525.2 1027.7h0M534.1 1029.7h0M542.6 1029.6h0M546.1 1028.3h0M601.8 1029.8h0M629.6 1029.1h0M630.4 1028.7h0M692.4 1027.8h0M526.1 1031.4h0M532.1 1030.7h0M545.6 1030.7h0M559.6 1030.5h0M563.4 1030.2h0M578 1032.1h0M600.6 1031.8h0M619.3 1031.6h0M640.9 1032h0M648.2 1031.9h0M650.8 1031.1h0M690.4 1030.4h0M521.1 1034.4h0M543.7 1033.8h0M545.8 1033.3h0M553.2 1033.8h0M598.3 1032.4h0M616.4 1034.3h0M618.5 1034.1h0M637.8 1033.6h0M639.7 1034.3h0M645.6 1033.7h0M650.7 1033.3h0M667.2 1033.1h0M676.6 1034.5h0M688.2 1033.1h0M504.6 1036.7h0M516 1035.3h0M524.2 1035.4h0M531.1 1034.8h0M567.1 1035.3h0M589.9 1034.9h0M622.3 1035h0M523.2 1038h0M524.9 1038.4h0M529.4 1038h0M531.6 1038.7h0M552.9 1037.7h0M574.2 1037.4h0M588.2 1037.7h0M608 1038.6h0M634 1038.4h0M657.7 1038.2h0M670.7 1038h0M679.6 1037.8h0M692 1038.2h0M533.9 1040.2h0M551.2 1040.1h0M586 1040.6h0M604.9 1041.1h0M606.4 1039.6h0M630.2 1040.7h0M636.3 1041.3h0M642.5 1040.9h0M665.3 1041.6h0M553.9 1042.8h0M568.2 1043.9h0M595.4 1043.9h0M635.4 1043.8h0M640.2 1042.4h0M642.4 1042.4h0M654.1 1043.1h0M660.6 1043.1h0M666.7 1042.4h0M676.5 1042.1h0M685.1 1042.2h0M506.2 1046h0M530.9 1045.1h0M548.3 1045.5h0M549.1 1045.8h0M557.4 1046h0M564.8 1045.8h0M585.7 1044.8h0M636.9 1045.9h0M641.3 1045.9h0M659.9 1045.8h0M662.6 1044.2h0M667.4 1044.3h0M675.9 1045.1h0M680.9 1044.2h0M511.8 1047.4h0M512.6 1048.2h0M537.7 1046.6h0M539.1 1047.4h0M552.8 1048h0M581.7 1048.3h0M583.5 1047h0M600.4 1048.3h0M614.4 1048.4h0M636.2 1046.7h0M657.4 1048.5h0M667 1048.2h0M678.6 1047.8h0M534 1049.5h0M535.2 1049.2h0M543.1 1050.2h0M552.7 1050.9h0M555.9 1049.5h0M613.9 1049.9h0M615.7 1050h0M626.8 1050.9h0M657.4 1050.4h0M660.4 1049.4h0M669.5 1050.5h0M682.8 1049.8h0M514.3 1053.1h0M537.8 1052.8h0M555.6 1051.7h0M557.2 1051.5h0M566.1 1051.5h0M568.5 1052h0M629.4 1052.3h0M646.3 1051.4h0M528.3 1053.8h0M537.8 1053.6h0M541.4 1054.2h0M549.1 1055.6h0M559.5 1053.8h0M580.8 1055.5h0M611.8 1054.6h0M620.9 1053.9h0M646.3 1054.3h0M664.2 1055.5h0M688.9 1055.3h0M508.2 1056.7h0M514.9 1056.8h0M546.6 1057h0M577.4 1057.2h0M578.6 1055.9h0M585.8 1056.7h0M591.8 1056.4h0M613.2 1057.1h0M651.2 1056.8h0M656.5 1056.1h0M660.9 1057h0M670.7 1058h0M681.1 1056.4h0M682.3 1056.2h0M690.7 1055.9h0M515.2 1060.3h0M524.3 1058.6h0M545.7 1060.3h0M561.9 1058.7h0M574.2 1058.9h0M579 1059.5h0M615.5 1060.2h0M634.5 1059.7h0M635.9 1059.3h0M688 1058.5h0M512.5 1061.7h0M603.5 1062.1h0M609.4 1062h0M624.4 1062.2h0M625.4 1060.9h0M650 1062.7h0M509.5 1064.3h0M517.1 1063.1h0M531.8 1063h0M547.5 1064.6h0M561.6 1063.9h0M570.1 1063.4h0M614.7 1064.8h0M636.6 1063.5h0M638.8 1063.4h0M646 1063h0M681.1 1063.2h0M505.4 1065.8h0M518.1 1066.2h0M522.2 1067.3h0M546.6 1067.1h0M567.6 1066.5h0M577.6 1066.7h0M578.5 1066.7h0M603.5 1065.4h0M614.4 1067.4h0M616.6 1066.6h0M646.6 1067h0M691.6 1065.6h0M516 1068h0M554 1069.2h0M578.6 1069h0M591.3 1068.6h0M605.3 1069h0M624.9 1069h0M654.3 1069.6h0M685.3 1067.9h0M520.9 1070.6h0M526.8 1070.2h0M529.4 1071.5h0M546 1070.3h0M584.6 1070.7h0M597.2 1070.8h0M605.4 1070.4h0M647.5 1070.2h0M537.4 1073.9h0M557.4 1072.5h0M561.3 1074h0M567.9 1073.1h0M597.5 1073.8h0M638.1 1072.6h0M640.6 1073.2h0M647.7 1073.8h0M661.3 1073.6h0M671.9 1074h0M681 1073h0M688.8 1073.3h0M510.4 1076.3h0M524.4 1075.4h0M529.3 1074.8h0M543.6 1075.7h0M571.9 1074.7h0M598 1075h0M603.6 1074.8h0M615.3 1075.6h0M628.3 1075.5h0M636 1075h0M644 1075.3h0M657.7 1075.1h0M680 1076.3h0M504.2 1077.9h0M529.1 1077.2h0M579 1077.3h0M610.2 1077.8h0M620.2 1078.2h0M629.1 1078.4h0M641.4 1078.1h0M525.4 1080.3h0M529 1080.2h0M538.5 1080h0M553.7 1081h0M557.3 1080.6h0M561.4 1081.3h0M568 1080.2h0M610.5 1081.3h0M624.8 1081.1h0M637.2 1079.5h0M648.2 1080h0M671.7 1080h0M676 1081.5h0M508.3 1082.4h0M517.6 1082.6h0M521.9 1082.5h0M541 1081.9h0M576 1082h0M617.2 1082.3h0M651 1083.1h0M682.7 1082.4h0M506.7 1085.4h0M509.1 1086.1h0M614.7 1084.9h0M621.6 1084.2h0M623.5 1085.3h0M633.2 1084.2h0M647 1086h0M658.9 1085.1h0M516.1 1086.6h0M532.6 1086.8h0M552 1087.6h0M566.7 1087.8h0M644.4 1088.2h0M649.9 1086.5h0M660.2 1086.9h0M682.4 1087.3h0M518.7 1089.7h0M530.3 1089.1h0M531.3 1089.4h0M555 1090.6h0M568.2 1089.5h0M587.3 1090.7h0M592.8 1089.2h0M610.7 1089.4h0M621.9 1090.7h0M630.6 1090.3h0M653.8 1089.4h0M677.8 1090.7h0M685.7 1089.8h0M505.9 1092.2h0M520.3 1091.3h0M524.8 1092.3h0M536.8 1091.7h0M559.6 1091.2h0M611.2 1091.2h0M676 1092.2h0M554.9 1094.2h0M588.4 1095.3h0M608.8 1093.7h0M616.5 1095.5h0M622.9 1093.6h0M640.6 1093.8h0M647.7 1094.8h0M663.9 1094.4h0M667.2 1095.3h0M680.2 1095.4h0M547.9 1096.2h0M562.6 1097.1h0M570.8 1096.9h0M598.2 1096.7h0M600.7 1097.3h0M618.7 1097.6h0M619.9 1096.5h0M654.7 1095.9h0M668 1095.9h0M686.2 1096.3h0M506.6 1098.3h0M555.7 1100.2h0M557.9 1099.7h0M638.9 1099.2h0M663.5 1100.2h0M669.3 1100.2h0M506.9 1101.6h0M565 1101.1h0M572 1102.4h0M573.2 1102.6h0M604.7 1101.4h0M614 1101.8h0M615.2 1102.1h0M618.5 1102.3h0M652.5 1102.3h0M657.4 1101h0M660.8 1102.4h0M558.7 1104.8h0M574.3 1102.9h0M590 1104.9h0M604.8 1103.9h0M609.8 1104.9h0M643.1 1104.7h0M644.7 1103.5h0M667.9 1103.8h0M671 1103.2h0M575.6 1106.6h0M606.2 1106.3h0M654.8 1107.3h0M584.7 1108.2h0M585.5 1109.3h0M590.8 1108.1h0M598.2 1108.7h0M658.6 1107.9h0M566.4 1111h0M574.1 1110.4h0M597.2 1113.3h0M600 1112.9h0M621.4 1112.4h0M658.6 1114.1h0M506.2 1115h0M554.7 1115.4h0M558.6 1116.1h0M604 1116h0M653.7 1115.1h0M673.8 1115.9h0M553.5 1118.8h0M559.6 1118.4h0M574 1118.9h0M606.5 1117.6h0M610.6 1118.7h0M647.6 1117.3h0M654.8 1118.5h0M656.5 1118.2h0M659.9 1117h0M557.6 1120.2h0M604.7 1120.9h0M691.1 1120.7h0M541.5 1123h0M557.1 1123.5h0M612.3 1122.7h0M613.9 1122.5h0M655.8 1123h0M668.1 1122.3h0M690.2 1123.2h0M515.6 1125.7h0M534.7 1125.3h0M539.6 1124.6h0M552.1 1124.3h0M557.8 1124.5h0M561 1125.3h0M574.3 1125.1h0M575.9 1124.8h0M577.3 1125.1h0M584.8 1125.4h0M625.7 1125.7h0M633 1124.2h0M639.7 1125.9h0M669.5 1124.9h0M678.7 1125.3h0M683.7 1124.8h0M685.5 1124.3h0M551.7 1128.3h0M558.7 1128.5h0M565.7 1127.6h0M569.6 1128.2h0M571.9 1128.2h0M581.6 1127.6h0M597.9 1127.9h0M677 1126.9h0" stroke="#2626ff" stroke-width="1.9"/>
</g>
<g filter="url(#bl1)" opacity="0.72">
<circle cx="511.1" cy="1032.1" r="2.1" fill="#22e884"/>
<circle cx="526.4" cy="1039.2" r="1.9" fill="#22e884"/>
<circle cx="533.2" cy="1038.2" r="1.7" fill="#22e884"/>
<circle cx="613.2" cy="1038.2" r="1.7" fill="#22e884"/>
<circle cx="616.9" cy="1064.8" r="1.7" fill="#22e884"/>
<circle cx="603" cy="1078" r="1.9" fill="#22e884"/>
<circle cx="566.3" cy="1096.4" r="1.5" fill="#22e884"/>
<circle cx="658.1" cy="1036.8" r="1.5" fill="#22e884"/>
<circle cx="676.1" cy="1039.2" r="1.9" fill="#22e884"/>
<circle cx="682.2" cy="1034.1" r="1.5" fill="#22e884"/>
<circle cx="648.9" cy="1039.6" r="1.3" fill="#22c4c4"/>
<circle cx="629.1" cy="1041.3" r="1.3" fill="#22e884"/>
<circle cx="597.9" cy="1045.4" r="1.3" fill="#22c4c4"/>
<circle cx="616.9" cy="1010.6" r="1.3" fill="#22e884"/>
<circle cx="639.8" cy="1014.7" r="1.3" fill="#22c4c4"/>
<circle cx="664.3" cy="1107.2" r="1.5" fill="#22e884"/>
<circle cx="600.3" cy="1108.2" r="1.3" fill="#22e884"/>
<circle cx="571.4" cy="1055.6" r="1.3" fill="#22e884"/>
<circle cx="556" cy="1066.8" r="1.1" fill="#22e884"/>
<circle cx="636.7" cy="1086.2" r="1.1" fill="#22e884"/>
<circle cx="648.9" cy="1082.1" r="1.1" fill="#22e884"/>
<circle cx="512.1" cy="1023.9" r="1.1" fill="#22e884"/>
<circle cx="533.6" cy="1021.5" r="0.9" fill="#22e884"/>
<circle cx="529.5" cy="1109.7" r="1.1" fill="#22c4c4"/>
<circle cx="563.2" cy="1116.8" r="0.9" fill="#22e884"/>
<circle cx="646.9" cy="1010.6" r="0.9" fill="#22e884"/>
<circle cx="554" cy="1040.3" r="0.9" fill="#22e884"/>
<circle cx="524.4" cy="1055.6" r="0.9" fill="#22e884"/>
<circle cx="621.4" cy="1035.8" r="2.1" fill="#e828e8"/>
<circle cx="554" cy="1019.8" r="1.5" fill="#e828e8"/>
<circle cx="610.8" cy="1061.7" r="1.7" fill="#e828e8"/>
<circle cx="670" cy="1084.6" r="1.7" fill="#e828e8"/>
<circle cx="548.9" cy="1082.7" r="1.5" fill="#e828e8"/>
<circle cx="582.6" cy="1094.4" r="1.9" fill="#e828e8"/>
<circle cx="651.6" cy="1009.2" r="1.5" fill="#e828e8"/>
<circle cx="667.7" cy="1009.6" r="1.3" fill="#e828e8"/>
<circle cx="668.9" cy="1024.9" r="1.5" fill="#e828e8"/>
<circle cx="685.7" cy="1040.3" r="1.7" fill="#e828e8"/>
<circle cx="682.6" cy="1030" r="1.3" fill="#e828e8"/>
<circle cx="615.3" cy="999.4" r="1.1" fill="#e828e8"/>
<circle cx="616.3" cy="1017.2" r="1.1" fill="#e828e8"/>
<circle cx="587.3" cy="1033.5" r="1.1" fill="#e828e8"/>
<circle cx="586.7" cy="1052.1" r="1.1" fill="#e828e8"/>
<circle cx="535.6" cy="1050.9" r="1.1" fill="#e828e8"/>
<circle cx="523.4" cy="1051.5" r="0.9" fill="#e828e8"/>
<circle cx="507" cy="1067.4" r="1.1" fill="#e828e8"/>
<circle cx="521.7" cy="1072.5" r="0.9" fill="#e828e8"/>
<circle cx="530.5" cy="1077" r="0.9" fill="#e828e8"/>
<circle cx="574.4" cy="1065.2" r="1.1" fill="#e828e8"/>
<circle cx="654" cy="1076" r="1.3" fill="#e828e8"/>
<circle cx="667.7" cy="1094.4" r="1.3" fill="#e828e8"/>
<circle cx="592.8" cy="1105" r="1.1" fill="#e828e8"/>
<circle cx="596.9" cy="1109.7" r="1.1" fill="#e828e8"/>
<circle cx="599.9" cy="1053.1" r="0.9" fill="#e828e8"/>
<circle cx="634.6" cy="1056.6" r="0.9" fill="#e828e8"/>
<circle cx="660.8" cy="1064.3" r="1.1" fill="#e8d8f0"/>
</g>
<path d="M508.2 1122.6h35" stroke="#c8c8e0" stroke-width="0.6" opacity="0.6"/>
<text x="526.2" y="1121.4" font-size="2.6" fill="#d0d0e8" text-anchor="middle" font-weight="normal">100 μm</text>
</g><g>
<text x="804.8" y="813.9" font-size="11" text-anchor="middle" stroke="#222" stroke-width="0.3" >CD4<tspan dy="-4.6" font-size="7.5">+</tspan><tspan dy="4.6" font-size="11">&#8203;</tspan> T cells</text>
<rect x="764.9" y="897.2" width="14.5" height="43.6" fill="#000000"/>
<path d="M772.2 897.2V886.5M768.6 886.5H775.8" stroke="#222" stroke-width="1.2" fill="none"/>
<rect x="787" y="877.7" width="14.7" height="63.1" fill="#1a92ad"/>
<path d="M794.3 877.7V870.6M790.7 870.6H797.9" stroke="#1a92ad" stroke-width="1.2" fill="none"/>
<rect x="808.8" y="874.9" width="14.7" height="65.9" fill="#ff9c9c"/>
<path d="M816.2 874.9V865.9M812.6 865.9H819.8" stroke="#ff9c9c" stroke-width="1.2" fill="none"/>
<rect x="830.9" y="851.2" width="14.7" height="89.6" fill="#ff0000"/>
<path d="M838.2 851.2V843.3M834.6 843.3H841.8" stroke="#ff0000" stroke-width="1.2" fill="none"/>
<path d="M757.8 823.4V940.8H853.4M757.8 824.1h-5.5M757.8 847.6h-5.5M757.8 871.1h-5.5M757.8 894.3h-5.5M757.8 917.6h-5.5M757.8 940.8h-5.5M772.1 940.8v5.8M794.1 940.8v5.8M815.9 940.8v5.8M838.2 940.8v5.8" fill="none" stroke="#1c1c1c" stroke-width="1.5"/>
<g font-size="9.6" text-anchor="end" fill="#1c1c1c" stroke="#1c1c1c" stroke-width="0.3">
<text x="750.8" y="827.6">500</text>
<text x="750.8" y="851.1">400</text>
<text x="750.8" y="874.5">300</text>
<text x="750.8" y="897.8">200</text>
<text x="750.8" y="921">100</text>
<text x="750.8" y="944.3">0</text>
</g>
<text x="0" y="0" font-size="9" text-anchor="middle" stroke="#222" stroke-width="0.3" transform="translate(714.1 882.5) rotate(-90)" fill="#1c1c1c">Density of CD4<tspan dy="-3.8" font-size="6.1">+</tspan><tspan dy="3.8" font-size="9">&#8203;</tspan> T cells</text>
<text x="0" y="0" font-size="8.4" text-anchor="middle" stroke="#222" stroke-width="0.3" transform="translate(727.1 881) rotate(-90)" fill="#1c1c1c">(cells/mm<tspan dy="-3.5" font-size="5.7">2</tspan><tspan dy="3.5" font-size="8.4">&#8203;</tspan><tspan dy="-3.5" font-size="5.7">)</tspan><tspan dy="3.5" font-size="8.4">&#8203;</tspan></text>
<path d="M770.9 847.1H816.6" stroke="#585858" stroke-width="1.4"/>
<text x="793.1" y="847.7" font-size="8.8" fill="#333" text-anchor="middle" letter-spacing="0.4">**</text>
<path d="M770.9 859.5H794.6" stroke="#585858" stroke-width="1.4"/>
<text x="782.9" y="860.2" font-size="8.8" fill="#333" text-anchor="middle" letter-spacing="0.4">**</text>
<text x="772.3" y="886.7" font-size="8.8" fill="#333" text-anchor="middle" letter-spacing="0.4">****</text>
<text x="794.3" y="869.9" font-size="8.8" fill="#333" text-anchor="middle" letter-spacing="0.4">***</text>
<text x="816.6" y="865.4" font-size="8.8" fill="#333" text-anchor="middle" letter-spacing="0.4">**</text>
</g>
<g>
<text x="804.8" y="976.5" font-size="11" text-anchor="middle" stroke="#222" stroke-width="0.3" >CD8<tspan dy="-4.6" font-size="7.5">+</tspan><tspan dy="4.6" font-size="11">&#8203;</tspan> T cells</text>
<rect x="764.5" y="1059.5" width="14.5" height="46.2" fill="#000000"/>
<path d="M771.7 1059.5V1053.4M768.1 1053.4H775.3" stroke="#222" stroke-width="1.2" fill="none"/>
<rect x="786.5" y="1047.2" width="14.7" height="58.6" fill="#1a92ad"/>
<path d="M793.9 1047.2V1042M790.3 1042H797.5" stroke="#1a92ad" stroke-width="1.2" fill="none"/>
<rect x="808.8" y="1039.2" width="14.7" height="66.6" fill="#ff9c9c"/>
<path d="M816.2 1039.2V1033.5M812.6 1033.5H819.8" stroke="#ff9c9c" stroke-width="1.2" fill="none"/>
<rect x="831.1" y="1006.9" width="14.7" height="98.9" fill="#ff0000"/>
<path d="M838.4 1006.9V996.2M834.8 996.2H842" stroke="#ff0000" stroke-width="1.2" fill="none"/>
<path d="M757.4 986.5V1105.8H853.4M757.4 987.2h-5.5M757.4 1026.8h-5.5M757.4 1066.4h-5.5M757.4 1105.8h-5.5M771.6 1105.8v5.8M793.9 1105.8v5.8M816.2 1105.8v5.8M838.2 1105.8v5.8" fill="none" stroke="#1c1c1c" stroke-width="1.5"/>
<g font-size="9.6" text-anchor="end" fill="#1c1c1c" stroke="#1c1c1c" stroke-width="0.3">
<text x="750.4" y="990.7">300</text>
<text x="750.4" y="1030.3">200</text>
<text x="750.4" y="1069.9">100</text>
<text x="750.4" y="1109.2">0</text>
</g>
<text x="0" y="0" font-size="9" text-anchor="middle" stroke="#222" stroke-width="0.3" transform="translate(714.1 1046) rotate(-90)" fill="#1c1c1c">Density of CD8<tspan dy="-3.8" font-size="6.1">+</tspan><tspan dy="3.8" font-size="9">&#8203;</tspan> T cells</text>
<text x="0" y="0" font-size="8.4" text-anchor="middle" stroke="#222" stroke-width="0.3" transform="translate(727.1 1044.5) rotate(-90)" fill="#1c1c1c">(cells/mm<tspan dy="-3.5" font-size="5.7">2</tspan><tspan dy="3.5" font-size="8.4">&#8203;</tspan><tspan dy="-3.5" font-size="5.7">)</tspan><tspan dy="3.5" font-size="8.4">&#8203;</tspan></text>
<path d="M770.4 1013.5H816.4" stroke="#585858" stroke-width="1.4"/>
<text x="793.1" y="1014.1" font-size="8.8" fill="#333" text-anchor="middle" letter-spacing="0.4">***</text>
<path d="M770.4 1032H794.6" stroke="#585858" stroke-width="1.4"/>
<text x="782.5" y="1031.9" font-size="8.8" fill="#333" text-anchor="middle" letter-spacing="0.4">**</text>
<text x="771.8" y="1053.1" font-size="8.8" fill="#333" text-anchor="middle" letter-spacing="0.4">****</text>
<text x="794.8" y="1041.7" font-size="8.8" fill="#333" text-anchor="middle" letter-spacing="0.4">****</text>
<text x="817.3" y="1034.1" font-size="8.8" fill="#333" text-anchor="middle" letter-spacing="0.4">***</text>
<text transform="translate(773.6 1120.8) rotate(-45)" font-size="9" text-anchor="end" fill="#1c1c1c" stroke="#222" stroke-width="0.25">Vehicle</text>
<text transform="translate(795.9 1120.8) rotate(-45)" font-size="9" text-anchor="end" fill="#1c1c1c" stroke="#222" stroke-width="0.25">Y332D</text>
<text transform="translate(818.2 1120.8) rotate(-45)" font-size="9" text-anchor="end" fill="#1c1c1c" stroke="#222" stroke-width="0.25">RT</text>
<text transform="translate(840.2 1120.8) rotate(-45)" font-size="9" text-anchor="end" fill="#1c1c1c" stroke="#222" stroke-width="0.25">RT+Y332D</text>
</g>
</g>
</svg>
</body></html>
